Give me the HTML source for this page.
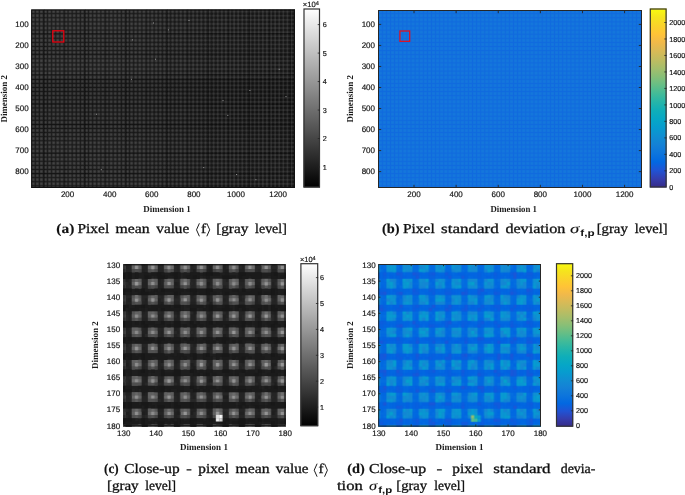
<!DOCTYPE html>
<html><head><meta charset="utf-8"><title>figure</title>
<style>
html,body{margin:0;padding:0;background:#fff;}
body{width:685px;height:495px;overflow:hidden;}
svg{display:block;will-change:transform;}
text{text-rendering:geometricPrecision;}
.t{font-family:"Liberation Sans",sans-serif;fill:#141414;stroke:#141414;stroke-width:0.18px;}
.b{font-family:"Liberation Serif",serif;font-weight:bold;font-size:9.1px;fill:#1c1c1c;}
.c{font-family:"Liberation Serif",serif;font-size:13.6px;fill:#111;stroke:#111;stroke-width:0.3px;}
.cb{font-family:"Liberation Serif",serif;font-size:13.6px;font-weight:bold;fill:#111;stroke:#111;stroke-width:0.15px;}
.ci{font-family:"Liberation Serif",serif;font-size:13.6px;font-style:italic;fill:#111;stroke:#111;stroke-width:0.1px;}
.sub{font-family:"Liberation Sans",sans-serif;font-size:9px;font-weight:bold;fill:#111;}
</style></head><body>
<svg width="685" height="495" viewBox="0 0 685 495">
<rect width="685" height="495" fill="#fff"/>
<defs>
<linearGradient id="gpar" x1="0" y1="1" x2="0" y2="0">
<stop offset="0.0000" stop-color="#352a87"/>
<stop offset="0.0476" stop-color="#353dad"/>
<stop offset="0.0952" stop-color="#2053d4"/>
<stop offset="0.1429" stop-color="#0268e1"/>
<stop offset="0.1905" stop-color="#0d75dc"/>
<stop offset="0.2381" stop-color="#1481d6"/>
<stop offset="0.2857" stop-color="#108ed2"/>
<stop offset="0.3333" stop-color="#079ccf"/>
<stop offset="0.3810" stop-color="#06a7c6"/>
<stop offset="0.4286" stop-color="#0faeb9"/>
<stop offset="0.4762" stop-color="#25b5a9"/>
<stop offset="0.5238" stop-color="#42bb98"/>
<stop offset="0.5714" stop-color="#65be86"/>
<stop offset="0.6190" stop-color="#87bf77"/>
<stop offset="0.6667" stop-color="#a5be6b"/>
<stop offset="0.7143" stop-color="#c0bc60"/>
<stop offset="0.7619" stop-color="#d9ba56"/>
<stop offset="0.8095" stop-color="#f1b94a"/>
<stop offset="0.8571" stop-color="#ffc337"/>
<stop offset="0.9048" stop-color="#fad32a"/>
<stop offset="0.9524" stop-color="#f5e41d"/>
<stop offset="1.0000" stop-color="#f9fb0e"/>
<stop offset="1" stop-color="#f9fb0e"/>
</linearGradient>
<linearGradient id="ggray" x1="0" y1="1" x2="0" y2="0"><stop offset="0" stop-color="#000"/><stop offset="1" stop-color="#fff"/></linearGradient>
<pattern id="pa" x="31.6" y="10.0" width="4.1" height="4.1" patternUnits="userSpaceOnUse"><rect width="4.1" height="4.1" fill="#181818"/><rect x="0.15" y="0.15" width="2.9" height="2.9" fill="#3a3a3a"/><rect x="0.85" y="0.85" width="1.5" height="1.5" fill="#434343"/></pattern>
<pattern id="pa2" x="31.6" y="10.0" width="4.1" height="4.1" patternUnits="userSpaceOnUse"><rect width="4.1" height="4.1" fill="#131313"/><rect x="0" y="1.0" width="4.1" height="1.3" fill="#2b2b2b"/><rect x="1.0" y="0" width="1.3" height="4.1" fill="#2e2e2e"/><rect x="1.0" y="1.0" width="1.3" height="1.3" fill="#3d3d3d"/></pattern>
<linearGradient id="mA" x1="0" y1="0" x2="1" y2="0"><stop offset="0" stop-color="#fff" stop-opacity="0"/><stop offset="0.35" stop-color="#fff" stop-opacity="0.15"/><stop offset="0.7" stop-color="#fff" stop-opacity="0.75"/><stop offset="1" stop-color="#fff" stop-opacity="0.95"/></linearGradient>
<mask id="mkA" maskUnits="userSpaceOnUse" x="31" y="9" width="264" height="179"><rect x="31" y="9" width="264" height="179" fill="url(#mA)"/></mask>
<linearGradient id="fadeA" x1="0" y1="0" x2="0" y2="1"><stop offset="0" stop-color="#fff" stop-opacity="0.015"/><stop offset="0.35" stop-color="#fff" stop-opacity="0.015"/><stop offset="0.40" stop-color="#000" stop-opacity="0.06"/><stop offset="0.58" stop-color="#000" stop-opacity="0.03"/><stop offset="1" stop-color="#fff" stop-opacity="0.01"/></linearGradient>
<pattern id="pb" x="378.6" y="10.0" width="4.1" height="4.1" patternUnits="userSpaceOnUse"><rect width="4.1" height="4.1" fill="#106ade"/><rect x="0.2" y="0.2" width="2.9" height="2.9" fill="#1477dc"/></pattern>
</defs>
<rect x="31.2" y="9.5" width="263.8" height="178.5" fill="url(#pa)"/>
<rect x="31.2" y="9.5" width="263.8" height="178.5" fill="url(#pa2)" mask="url(#mkA)"/>
<rect x="31.2" y="9.5" width="263.8" height="178.5" fill="url(#fadeA)"/>
<path d="M44.4 9.5V188.0M64.9 9.5V188.0M85.4 9.5V188.0M105.9 9.5V188.0M126.4 9.5V188.0M146.9 9.5V188.0M167.4 9.5V188.0M187.9 9.5V188.0M208.4 9.5V188.0M228.9 9.5V188.0M249.4 9.5V188.0M269.9 9.5V188.0M290.4 9.5V188.0" stroke="#000" stroke-opacity="0.35" stroke-width="0.9" fill="none"/>
<path d="M31.2 33.5H295.0M31.2 54.0H295.0M31.2 74.5H295.0M31.2 79.6H295.0M31.2 104.2H295.0M31.2 124.7H295.0M31.2 153.3H295.0M31.2 173.8H295.0" stroke="#000" stroke-opacity="0.35" stroke-width="0.9" fill="none"/>
<rect x="167.9" y="29.4" width="1" height="1" fill="#9a9a9a"/>
<rect x="132.1" y="39.4" width="1" height="1" fill="#9a9a9a"/>
<rect x="155.0" y="58.7" width="1" height="1" fill="#9a9a9a"/>
<rect x="130.9" y="78.8" width="1" height="1" fill="#9a9a9a"/>
<rect x="153.0" y="22.5" width="1" height="1" fill="#9a9a9a"/>
<rect x="96.0" y="113.7" width="1" height="1" fill="#9a9a9a"/>
<rect x="278.7" y="68.8" width="1" height="1" fill="#9a9a9a"/>
<rect x="249.4" y="90.0" width="1" height="1" fill="#9a9a9a"/>
<rect x="227.3" y="114.9" width="1" height="1" fill="#9a9a9a"/>
<rect x="285.5" y="96.1" width="1" height="1" fill="#9a9a9a"/>
<rect x="236.1" y="174.0" width="1" height="1" fill="#9a9a9a"/>
<rect x="255.4" y="179.2" width="1" height="1" fill="#9a9a9a"/>
<rect x="222.5" y="100.1" width="1" height="1" fill="#9a9a9a"/>
<rect x="203.2" y="167.1" width="1" height="1" fill="#9a9a9a"/>
<rect x="100.8" y="169.2" width="1" height="1" fill="#9a9a9a"/>
<rect x="188.5" y="20.0" width="1" height="1" fill="#9a9a9a"/>
<rect x="51.4" y="161.1" width="1" height="1" fill="#0a0a0a"/>
<rect x="31.7" y="10.0" width="262.8" height="177.5" fill="none" stroke="#111" stroke-width="1"/>
<rect x="52.8" y="30.8" width="11" height="11.2" fill="none" stroke="#f0000f" stroke-width="1.25"/>
<text x="67.60" y="197.40" text-anchor="middle" font-size="8.0" class="t">200</text>
<text x="109.70" y="197.40" text-anchor="middle" font-size="8.0" class="t">400</text>
<text x="151.80" y="197.40" text-anchor="middle" font-size="8.0" class="t">600</text>
<text x="193.90" y="197.40" text-anchor="middle" font-size="8.0" class="t">800</text>
<text x="236.00" y="197.40" text-anchor="middle" font-size="8.0" class="t">1000</text>
<text x="278.10" y="197.40" text-anchor="middle" font-size="8.0" class="t">1200</text>
<text x="28.60" y="27.25" text-anchor="end" font-size="8.0" class="t">100</text>
<text x="28.60" y="48.28" text-anchor="end" font-size="8.0" class="t">200</text>
<text x="28.60" y="69.31" text-anchor="end" font-size="8.0" class="t">300</text>
<text x="28.60" y="90.34" text-anchor="end" font-size="8.0" class="t">400</text>
<text x="28.60" y="111.37" text-anchor="end" font-size="8.0" class="t">500</text>
<text x="28.60" y="132.40" text-anchor="end" font-size="8.0" class="t">600</text>
<text x="28.60" y="153.43" text-anchor="end" font-size="8.0" class="t">700</text>
<text x="28.60" y="174.46" text-anchor="end" font-size="8.0" class="t">800</text>
<text x="167" y="212.2" text-anchor="middle" class="b" textLength="47.6" lengthAdjust="spacingAndGlyphs">Dimension 1</text>
<text transform="translate(6.8,98.8) rotate(-90)" text-anchor="middle" class="b" textLength="47.6" lengthAdjust="spacingAndGlyphs">Dimension 2</text>
<rect x="303.5" y="8.5" width="16.5" height="179.0" fill="url(#ggray)"/>
<rect x="304.0" y="9.0" width="15.5" height="178.0" fill="none" stroke="#333" stroke-width="1.2"/>
<line x1="317.70" y1="24.60" x2="320.00" y2="24.60" stroke="#262626" stroke-width="0.8"/>
<text x="322.80" y="27.20" text-anchor="start" font-size="7.2" class="t">6</text>
<line x1="317.70" y1="53.08" x2="320.00" y2="53.08" stroke="#262626" stroke-width="0.8"/>
<text x="322.80" y="55.68" text-anchor="start" font-size="7.2" class="t">5</text>
<line x1="317.70" y1="81.56" x2="320.00" y2="81.56" stroke="#262626" stroke-width="0.8"/>
<text x="322.80" y="84.16" text-anchor="start" font-size="7.2" class="t">4</text>
<line x1="317.70" y1="110.04" x2="320.00" y2="110.04" stroke="#262626" stroke-width="0.8"/>
<text x="322.80" y="112.64" text-anchor="start" font-size="7.2" class="t">3</text>
<line x1="317.70" y1="138.52" x2="320.00" y2="138.52" stroke="#262626" stroke-width="0.8"/>
<text x="322.80" y="141.12" text-anchor="start" font-size="7.2" class="t">2</text>
<line x1="317.70" y1="167.00" x2="320.00" y2="167.00" stroke="#262626" stroke-width="0.8"/>
<text x="322.80" y="169.60" text-anchor="start" font-size="7.2" class="t">1</text>
<text x="302.8" y="7.2" font-size="7.6" class="t">×10<tspan dy="-2.6" font-size="5.6">4</tspan></text>
<rect x="378.0" y="10.0" width="264.0" height="178.0" fill="url(#pb)"/>
<rect x="378.5" y="10.5" width="263.0" height="177.0" fill="none" stroke="#262626" stroke-width="1"/>
<rect x="399.9" y="31.0" width="9.8" height="10.3" fill="none" stroke="#e60f1c" stroke-width="1.25"/>
<text x="414.00" y="197.40" text-anchor="middle" font-size="8.0" class="t">200</text>
<line x1="414.00" y1="184.80" x2="414.00" y2="188.00" stroke="#262626" stroke-width="0.9"/>
<line x1="414.00" y1="10.00" x2="414.00" y2="13.20" stroke="#262626" stroke-width="0.9"/>
<text x="456.12" y="197.40" text-anchor="middle" font-size="8.0" class="t">400</text>
<line x1="456.12" y1="184.80" x2="456.12" y2="188.00" stroke="#262626" stroke-width="0.9"/>
<line x1="456.12" y1="10.00" x2="456.12" y2="13.20" stroke="#262626" stroke-width="0.9"/>
<text x="498.24" y="197.40" text-anchor="middle" font-size="8.0" class="t">600</text>
<line x1="498.24" y1="184.80" x2="498.24" y2="188.00" stroke="#262626" stroke-width="0.9"/>
<line x1="498.24" y1="10.00" x2="498.24" y2="13.20" stroke="#262626" stroke-width="0.9"/>
<text x="540.36" y="197.40" text-anchor="middle" font-size="8.0" class="t">800</text>
<line x1="540.36" y1="184.80" x2="540.36" y2="188.00" stroke="#262626" stroke-width="0.9"/>
<line x1="540.36" y1="10.00" x2="540.36" y2="13.20" stroke="#262626" stroke-width="0.9"/>
<text x="582.48" y="197.40" text-anchor="middle" font-size="8.0" class="t">1000</text>
<line x1="582.48" y1="184.80" x2="582.48" y2="188.00" stroke="#262626" stroke-width="0.9"/>
<line x1="582.48" y1="10.00" x2="582.48" y2="13.20" stroke="#262626" stroke-width="0.9"/>
<text x="624.60" y="197.40" text-anchor="middle" font-size="8.0" class="t">1200</text>
<line x1="624.60" y1="184.80" x2="624.60" y2="188.00" stroke="#262626" stroke-width="0.9"/>
<line x1="624.60" y1="10.00" x2="624.60" y2="13.20" stroke="#262626" stroke-width="0.9"/>
<text x="375.00" y="27.25" text-anchor="end" font-size="8.0" class="t">100</text>
<line x1="378.00" y1="24.40" x2="381.20" y2="24.40" stroke="#262626" stroke-width="0.9"/>
<line x1="638.80" y1="24.40" x2="642.00" y2="24.40" stroke="#262626" stroke-width="0.9"/>
<text x="375.00" y="48.28" text-anchor="end" font-size="8.0" class="t">200</text>
<line x1="378.00" y1="45.43" x2="381.20" y2="45.43" stroke="#262626" stroke-width="0.9"/>
<line x1="638.80" y1="45.43" x2="642.00" y2="45.43" stroke="#262626" stroke-width="0.9"/>
<text x="375.00" y="69.31" text-anchor="end" font-size="8.0" class="t">300</text>
<line x1="378.00" y1="66.46" x2="381.20" y2="66.46" stroke="#262626" stroke-width="0.9"/>
<line x1="638.80" y1="66.46" x2="642.00" y2="66.46" stroke="#262626" stroke-width="0.9"/>
<text x="375.00" y="90.34" text-anchor="end" font-size="8.0" class="t">400</text>
<line x1="378.00" y1="87.49" x2="381.20" y2="87.49" stroke="#262626" stroke-width="0.9"/>
<line x1="638.80" y1="87.49" x2="642.00" y2="87.49" stroke="#262626" stroke-width="0.9"/>
<text x="375.00" y="111.37" text-anchor="end" font-size="8.0" class="t">500</text>
<line x1="378.00" y1="108.52" x2="381.20" y2="108.52" stroke="#262626" stroke-width="0.9"/>
<line x1="638.80" y1="108.52" x2="642.00" y2="108.52" stroke="#262626" stroke-width="0.9"/>
<text x="375.00" y="132.40" text-anchor="end" font-size="8.0" class="t">600</text>
<line x1="378.00" y1="129.55" x2="381.20" y2="129.55" stroke="#262626" stroke-width="0.9"/>
<line x1="638.80" y1="129.55" x2="642.00" y2="129.55" stroke="#262626" stroke-width="0.9"/>
<text x="375.00" y="153.43" text-anchor="end" font-size="8.0" class="t">700</text>
<line x1="378.00" y1="150.58" x2="381.20" y2="150.58" stroke="#262626" stroke-width="0.9"/>
<line x1="638.80" y1="150.58" x2="642.00" y2="150.58" stroke="#262626" stroke-width="0.9"/>
<text x="375.00" y="174.46" text-anchor="end" font-size="8.0" class="t">800</text>
<line x1="378.00" y1="171.61" x2="381.20" y2="171.61" stroke="#262626" stroke-width="0.9"/>
<line x1="638.80" y1="171.61" x2="642.00" y2="171.61" stroke="#262626" stroke-width="0.9"/>
<text x="513.7" y="212.2" text-anchor="middle" class="b" textLength="46.6" lengthAdjust="spacingAndGlyphs">Dimension 1</text>
<text transform="translate(353.0,98.8) rotate(-90)" text-anchor="middle" class="b" textLength="47.6" lengthAdjust="spacingAndGlyphs">Dimension 2</text>
<rect x="649.8" y="8.5" width="16.800000000000068" height="179.0" fill="url(#gpar)"/>
<rect x="650.3" y="9.0" width="15.800000000000068" height="178.0" fill="none" stroke="#333" stroke-width="1.2"/>
<line x1="664.30" y1="22.50" x2="666.60" y2="22.50" stroke="#262626" stroke-width="0.8"/>
<text x="669.30" y="25.10" text-anchor="start" font-size="7.2" class="t">2000</text>
<line x1="664.30" y1="38.98" x2="666.60" y2="38.98" stroke="#262626" stroke-width="0.8"/>
<text x="669.30" y="41.58" text-anchor="start" font-size="7.2" class="t">1800</text>
<line x1="664.30" y1="55.46" x2="666.60" y2="55.46" stroke="#262626" stroke-width="0.8"/>
<text x="669.30" y="58.06" text-anchor="start" font-size="7.2" class="t">1600</text>
<line x1="664.30" y1="71.94" x2="666.60" y2="71.94" stroke="#262626" stroke-width="0.8"/>
<text x="669.30" y="74.54" text-anchor="start" font-size="7.2" class="t">1400</text>
<line x1="664.30" y1="88.42" x2="666.60" y2="88.42" stroke="#262626" stroke-width="0.8"/>
<text x="669.30" y="91.02" text-anchor="start" font-size="7.2" class="t">1200</text>
<line x1="664.30" y1="104.90" x2="666.60" y2="104.90" stroke="#262626" stroke-width="0.8"/>
<text x="669.30" y="107.50" text-anchor="start" font-size="7.2" class="t">1000</text>
<line x1="664.30" y1="121.38" x2="666.60" y2="121.38" stroke="#262626" stroke-width="0.8"/>
<text x="669.30" y="123.98" text-anchor="start" font-size="7.2" class="t">800</text>
<line x1="664.30" y1="137.86" x2="666.60" y2="137.86" stroke="#262626" stroke-width="0.8"/>
<text x="669.30" y="140.46" text-anchor="start" font-size="7.2" class="t">600</text>
<line x1="664.30" y1="154.34" x2="666.60" y2="154.34" stroke="#262626" stroke-width="0.8"/>
<text x="669.30" y="156.94" text-anchor="start" font-size="7.2" class="t">400</text>
<line x1="664.30" y1="170.82" x2="666.60" y2="170.82" stroke="#262626" stroke-width="0.8"/>
<text x="669.30" y="173.42" text-anchor="start" font-size="7.2" class="t">200</text>
<text x="669.30" y="189.90" text-anchor="start" font-size="7.2" class="t">0</text>
<svg x="123.5" y="264.2" width="162.0" height="162.0" viewBox="130 130 50 50" preserveAspectRatio="none">
<g transform="translate(129.5,129.5)">
<rect x="0" y="0" width="52" height="52" fill="#1a1a1a"/>
<path fill="#232323" d="M0 0h52v3h-52zM0 5h52v3h-52zM0 10h52v3h-52zM0 15h52v3h-52zM0 20h52v3h-52zM0 25h52v3h-52zM0 30h52v3h-52zM0 35h52v3h-52zM0 40h52v3h-52zM0 45h52v3h-52zM0 50h52v3h-52z"/>
<path fill="#1d1d1d" d="M-2 0h3v52h-3zM3 0h3v52h-3zM8 0h3v52h-3zM13 0h3v52h-3zM18 0h3v52h-3zM23 0h3v52h-3zM28 0h3v52h-3zM33 0h3v52h-3zM38 0h3v52h-3zM43 0h3v52h-3zM48 0h3v52h-3z"/>
<path fill="#5c5c5c" d="M-2 0h3v3h-3zM-2 5h3v3h-3zM-2 10h3v3h-3zM-2 15h3v3h-3zM-2 20h3v3h-3zM-2 25h3v3h-3zM-2 30h3v3h-3zM-2 35h3v3h-3zM-2 40h3v3h-3zM-2 45h3v3h-3zM-2 50h3v3h-3zM3 0h3v3h-3zM3 5h3v3h-3zM3 10h3v3h-3zM3 15h3v3h-3zM3 20h3v3h-3zM3 25h3v3h-3zM3 30h3v3h-3zM3 35h3v3h-3zM3 40h3v3h-3zM3 45h3v3h-3zM3 50h3v3h-3zM8 0h3v3h-3zM8 5h3v3h-3zM8 10h3v3h-3zM8 15h3v3h-3zM8 20h3v3h-3zM8 25h3v3h-3zM8 30h3v3h-3zM8 35h3v3h-3zM8 40h3v3h-3zM8 45h3v3h-3zM8 50h3v3h-3zM13 0h3v3h-3zM13 5h3v3h-3zM13 10h3v3h-3zM13 15h3v3h-3zM13 20h3v3h-3zM13 25h3v3h-3zM13 30h3v3h-3zM13 35h3v3h-3zM13 40h3v3h-3zM13 45h3v3h-3zM13 50h3v3h-3zM18 0h3v3h-3zM18 5h3v3h-3zM18 10h3v3h-3zM18 15h3v3h-3zM18 20h3v3h-3zM18 25h3v3h-3zM18 30h3v3h-3zM18 35h3v3h-3zM18 40h3v3h-3zM18 45h3v3h-3zM18 50h3v3h-3zM23 0h3v3h-3zM23 5h3v3h-3zM23 10h3v3h-3zM23 15h3v3h-3zM23 20h3v3h-3zM23 25h3v3h-3zM23 30h3v3h-3zM23 35h3v3h-3zM23 40h3v3h-3zM23 45h3v3h-3zM23 50h3v3h-3zM28 0h3v3h-3zM28 5h3v3h-3zM28 10h3v3h-3zM28 15h3v3h-3zM28 20h3v3h-3zM28 25h3v3h-3zM28 30h3v3h-3zM28 35h3v3h-3zM28 40h3v3h-3zM28 45h3v3h-3zM28 50h3v3h-3zM33 0h3v3h-3zM33 5h3v3h-3zM33 10h3v3h-3zM33 15h3v3h-3zM33 20h3v3h-3zM33 25h3v3h-3zM33 30h3v3h-3zM33 35h3v3h-3zM33 40h3v3h-3zM33 45h3v3h-3zM33 50h3v3h-3zM38 0h3v3h-3zM38 5h3v3h-3zM38 10h3v3h-3zM38 15h3v3h-3zM38 20h3v3h-3zM38 25h3v3h-3zM38 30h3v3h-3zM38 35h3v3h-3zM38 40h3v3h-3zM38 45h3v3h-3zM38 50h3v3h-3zM43 0h3v3h-3zM43 5h3v3h-3zM43 10h3v3h-3zM43 15h3v3h-3zM43 20h3v3h-3zM43 25h3v3h-3zM43 30h3v3h-3zM43 35h3v3h-3zM43 40h3v3h-3zM43 45h3v3h-3zM43 50h3v3h-3zM48 0h3v3h-3zM48 5h3v3h-3zM48 10h3v3h-3zM48 15h3v3h-3zM48 20h3v3h-3zM48 25h3v3h-3zM48 30h3v3h-3zM48 35h3v3h-3zM48 40h3v3h-3zM48 45h3v3h-3zM48 50h3v3h-3z"/>
<path fill="#575757" d="M0 0h1.04v1.04h-1.04zM5 0h1.04v1.04h-1.04zM15 0h1.04v1.04h-1.04zM23 0h1.04v1.04h-1.04zM28 0h1.04v1.04h-1.04zM35 0h1.04v1.04h-1.04zM38 0h1.04v1.04h-1.04zM9 2h1.04v1.04h-1.04zM34 2h1.04v1.04h-1.04zM0 5h1.04v1.04h-1.04zM13 5h1.04v1.04h-1.04zM40 5h1.04v1.04h-1.04zM44 7h1.04v1.04h-1.04zM5 10h1.04v1.04h-1.04zM13 10h1.04v1.04h-1.04zM33 10h1.04v1.04h-1.04zM35 10h1.04v1.04h-1.04zM45 10h1.04v1.04h-1.04zM50 10h1.04v1.04h-1.04zM29 12h1.04v1.04h-1.04zM10 15h1.04v1.04h-1.04zM13 15h1.04v1.04h-1.04zM15 15h1.04v1.04h-1.04zM23 15h1.04v1.04h-1.04zM28 15h1.04v1.04h-1.04zM38 15h1.04v1.04h-1.04zM40 15h1.04v1.04h-1.04zM43 15h1.04v1.04h-1.04zM45 15h1.04v1.04h-1.04zM4 17h1.04v1.04h-1.04zM19 17h1.04v1.04h-1.04zM5 20h1.04v1.04h-1.04zM4 22h1.04v1.04h-1.04zM24 22h1.04v1.04h-1.04zM34 22h1.04v1.04h-1.04zM44 22h1.04v1.04h-1.04zM3 25h1.04v1.04h-1.04zM10 25h1.04v1.04h-1.04zM23 25h1.04v1.04h-1.04zM30 25h1.04v1.04h-1.04zM33 25h1.04v1.04h-1.04zM40 25h1.04v1.04h-1.04zM45 25h1.04v1.04h-1.04zM48 25h1.04v1.04h-1.04zM4 27h1.04v1.04h-1.04zM34 27h1.04v1.04h-1.04zM44 27h1.04v1.04h-1.04zM8 30h1.04v1.04h-1.04zM45 30h1.04v1.04h-1.04zM48 30h1.04v1.04h-1.04zM9 32h1.04v1.04h-1.04zM14 32h1.04v1.04h-1.04zM19 32h1.04v1.04h-1.04zM24 32h1.04v1.04h-1.04zM44 32h1.04v1.04h-1.04zM8 35h1.04v1.04h-1.04zM13 35h1.04v1.04h-1.04zM18 35h1.04v1.04h-1.04zM43 35h1.04v1.04h-1.04zM48 35h1.04v1.04h-1.04zM49 37h1.04v1.04h-1.04zM0 40h1.04v1.04h-1.04zM25 40h1.04v1.04h-1.04zM30 40h1.04v1.04h-1.04zM19 42h1.04v1.04h-1.04zM34 42h1.04v1.04h-1.04zM39 42h1.04v1.04h-1.04zM44 42h1.04v1.04h-1.04zM49 42h1.04v1.04h-1.04zM0 45h1.04v1.04h-1.04zM5 45h1.04v1.04h-1.04zM10 45h1.04v1.04h-1.04zM15 45h1.04v1.04h-1.04zM23 45h1.04v1.04h-1.04zM38 45h1.04v1.04h-1.04zM4 47h1.04v1.04h-1.04zM34 47h1.04v1.04h-1.04zM3 50h1.04v1.04h-1.04zM30 50h1.04v1.04h-1.04zM48 50h1.04v1.04h-1.04z"/>
<path fill="#212121" d="M1 0h1.04v1.04h-1.04zM11 0h1.04v1.04h-1.04zM12 0h1.04v1.04h-1.04zM26 0h1.04v1.04h-1.04zM31 0h1.04v1.04h-1.04zM37 0h1.04v1.04h-1.04zM41 0h1.04v1.04h-1.04zM1 1h1.04v1.04h-1.04zM37 1h1.04v1.04h-1.04zM6 2h1.04v1.04h-1.04zM26 2h1.04v1.04h-1.04zM31 2h1.04v1.04h-1.04zM36 2h1.04v1.04h-1.04zM37 2h1.04v1.04h-1.04zM46 2h1.04v1.04h-1.04zM47 2h1.04v1.04h-1.04zM0 3h1.04v1.04h-1.04zM18 3h1.04v1.04h-1.04zM33 3h1.04v1.04h-1.04zM34 3h1.04v1.04h-1.04zM35 3h1.04v1.04h-1.04zM9 4h1.04v1.04h-1.04zM18 4h1.04v1.04h-1.04zM24 4h1.04v1.04h-1.04zM45 4h1.04v1.04h-1.04zM7 5h1.04v1.04h-1.04zM11 5h1.04v1.04h-1.04zM32 5h1.04v1.04h-1.04zM36 5h1.04v1.04h-1.04zM37 5h1.04v1.04h-1.04zM41 5h1.04v1.04h-1.04zM2 6h1.04v1.04h-1.04zM6 6h1.04v1.04h-1.04zM7 6h1.04v1.04h-1.04zM11 6h1.04v1.04h-1.04zM17 6h1.04v1.04h-1.04zM41 6h1.04v1.04h-1.04zM42 6h1.04v1.04h-1.04zM46 6h1.04v1.04h-1.04zM6 7h1.04v1.04h-1.04zM7 7h1.04v1.04h-1.04zM11 7h1.04v1.04h-1.04zM12 7h1.04v1.04h-1.04zM16 7h1.04v1.04h-1.04zM17 7h1.04v1.04h-1.04zM26 7h1.04v1.04h-1.04zM31 7h1.04v1.04h-1.04zM42 7h1.04v1.04h-1.04zM46 7h1.04v1.04h-1.04zM47 7h1.04v1.04h-1.04zM8 8h1.04v1.04h-1.04zM30 9h1.04v1.04h-1.04zM16 10h1.04v1.04h-1.04zM21 10h1.04v1.04h-1.04zM26 10h1.04v1.04h-1.04zM36 10h1.04v1.04h-1.04zM41 10h1.04v1.04h-1.04zM46 10h1.04v1.04h-1.04zM47 10h1.04v1.04h-1.04zM1 11h1.04v1.04h-1.04zM7 11h1.04v1.04h-1.04zM11 11h1.04v1.04h-1.04zM31 11h1.04v1.04h-1.04zM36 11h1.04v1.04h-1.04zM41 11h1.04v1.04h-1.04zM1 12h1.04v1.04h-1.04zM2 12h1.04v1.04h-1.04zM7 12h1.04v1.04h-1.04zM11 12h1.04v1.04h-1.04zM21 12h1.04v1.04h-1.04zM22 12h1.04v1.04h-1.04zM41 12h1.04v1.04h-1.04zM19 13h1.04v1.04h-1.04zM25 13h1.04v1.04h-1.04zM34 13h1.04v1.04h-1.04zM45 13h1.04v1.04h-1.04zM19 14h1.04v1.04h-1.04zM20 14h1.04v1.04h-1.04zM23 14h1.04v1.04h-1.04zM34 14h1.04v1.04h-1.04zM45 14h1.04v1.04h-1.04zM6 15h1.04v1.04h-1.04zM16 15h1.04v1.04h-1.04zM27 15h1.04v1.04h-1.04zM32 15h1.04v1.04h-1.04zM42 15h1.04v1.04h-1.04zM46 15h1.04v1.04h-1.04zM2 16h1.04v1.04h-1.04zM17 16h1.04v1.04h-1.04zM21 16h1.04v1.04h-1.04zM22 16h1.04v1.04h-1.04zM27 16h1.04v1.04h-1.04zM31 16h1.04v1.04h-1.04zM41 16h1.04v1.04h-1.04zM42 16h1.04v1.04h-1.04zM47 16h1.04v1.04h-1.04zM2 17h1.04v1.04h-1.04zM6 17h1.04v1.04h-1.04zM7 17h1.04v1.04h-1.04zM12 17h1.04v1.04h-1.04zM16 17h1.04v1.04h-1.04zM17 17h1.04v1.04h-1.04zM21 17h1.04v1.04h-1.04zM22 17h1.04v1.04h-1.04zM26 17h1.04v1.04h-1.04zM27 17h1.04v1.04h-1.04zM31 17h1.04v1.04h-1.04zM36 17h1.04v1.04h-1.04zM42 17h1.04v1.04h-1.04zM47 17h1.04v1.04h-1.04zM15 18h1.04v1.04h-1.04zM18 18h1.04v1.04h-1.04zM19 18h1.04v1.04h-1.04zM34 19h1.04v1.04h-1.04zM38 19h1.04v1.04h-1.04zM40 19h1.04v1.04h-1.04zM44 19h1.04v1.04h-1.04zM1 20h1.04v1.04h-1.04zM7 20h1.04v1.04h-1.04zM16 20h1.04v1.04h-1.04zM27 20h1.04v1.04h-1.04zM32 20h1.04v1.04h-1.04zM47 20h1.04v1.04h-1.04zM1 21h1.04v1.04h-1.04zM2 21h1.04v1.04h-1.04zM6 21h1.04v1.04h-1.04zM7 21h1.04v1.04h-1.04zM12 21h1.04v1.04h-1.04zM17 21h1.04v1.04h-1.04zM37 21h1.04v1.04h-1.04zM1 22h1.04v1.04h-1.04zM12 22h1.04v1.04h-1.04zM16 22h1.04v1.04h-1.04zM21 22h1.04v1.04h-1.04zM26 22h1.04v1.04h-1.04zM32 22h1.04v1.04h-1.04zM37 22h1.04v1.04h-1.04zM10 23h1.04v1.04h-1.04zM28 23h1.04v1.04h-1.04zM0 24h1.04v1.04h-1.04zM19 24h1.04v1.04h-1.04zM29 24h1.04v1.04h-1.04zM1 25h1.04v1.04h-1.04zM11 25h1.04v1.04h-1.04zM22 25h1.04v1.04h-1.04zM27 25h1.04v1.04h-1.04zM32 25h1.04v1.04h-1.04zM37 25h1.04v1.04h-1.04zM47 25h1.04v1.04h-1.04zM6 26h1.04v1.04h-1.04zM11 26h1.04v1.04h-1.04zM26 26h1.04v1.04h-1.04zM27 26h1.04v1.04h-1.04zM31 26h1.04v1.04h-1.04zM32 26h1.04v1.04h-1.04zM41 26h1.04v1.04h-1.04zM46 26h1.04v1.04h-1.04zM7 27h1.04v1.04h-1.04zM11 27h1.04v1.04h-1.04zM17 27h1.04v1.04h-1.04zM21 27h1.04v1.04h-1.04zM31 27h1.04v1.04h-1.04zM32 27h1.04v1.04h-1.04zM41 27h1.04v1.04h-1.04zM46 27h1.04v1.04h-1.04zM28 29h1.04v1.04h-1.04zM30 29h1.04v1.04h-1.04zM1 30h1.04v1.04h-1.04zM6 30h1.04v1.04h-1.04zM7 30h1.04v1.04h-1.04zM17 30h1.04v1.04h-1.04zM31 30h1.04v1.04h-1.04zM36 30h1.04v1.04h-1.04zM41 30h1.04v1.04h-1.04zM46 30h1.04v1.04h-1.04zM47 30h1.04v1.04h-1.04zM16 31h1.04v1.04h-1.04zM27 31h1.04v1.04h-1.04zM32 31h1.04v1.04h-1.04zM2 32h1.04v1.04h-1.04zM6 32h1.04v1.04h-1.04zM12 32h1.04v1.04h-1.04zM16 32h1.04v1.04h-1.04zM21 32h1.04v1.04h-1.04zM26 32h1.04v1.04h-1.04zM31 32h1.04v1.04h-1.04zM32 32h1.04v1.04h-1.04zM41 32h1.04v1.04h-1.04zM42 32h1.04v1.04h-1.04zM8 34h1.04v1.04h-1.04zM49 34h1.04v1.04h-1.04zM7 35h1.04v1.04h-1.04zM12 35h1.04v1.04h-1.04zM21 35h1.04v1.04h-1.04zM27 35h1.04v1.04h-1.04zM32 35h1.04v1.04h-1.04zM36 35h1.04v1.04h-1.04zM37 35h1.04v1.04h-1.04zM41 35h1.04v1.04h-1.04zM46 35h1.04v1.04h-1.04zM2 36h1.04v1.04h-1.04zM7 36h1.04v1.04h-1.04zM11 36h1.04v1.04h-1.04zM12 36h1.04v1.04h-1.04zM16 36h1.04v1.04h-1.04zM17 36h1.04v1.04h-1.04zM21 36h1.04v1.04h-1.04zM26 36h1.04v1.04h-1.04zM31 36h1.04v1.04h-1.04zM36 36h1.04v1.04h-1.04zM41 36h1.04v1.04h-1.04zM2 37h1.04v1.04h-1.04zM6 37h1.04v1.04h-1.04zM17 37h1.04v1.04h-1.04zM31 37h1.04v1.04h-1.04zM42 37h1.04v1.04h-1.04zM23 38h1.04v1.04h-1.04zM29 38h1.04v1.04h-1.04zM35 38h1.04v1.04h-1.04zM43 38h1.04v1.04h-1.04zM3 39h1.04v1.04h-1.04zM5 39h1.04v1.04h-1.04zM1 40h1.04v1.04h-1.04zM2 40h1.04v1.04h-1.04zM7 40h1.04v1.04h-1.04zM12 40h1.04v1.04h-1.04zM16 40h1.04v1.04h-1.04zM17 40h1.04v1.04h-1.04zM21 40h1.04v1.04h-1.04zM11 41h1.04v1.04h-1.04zM12 41h1.04v1.04h-1.04zM17 41h1.04v1.04h-1.04zM22 41h1.04v1.04h-1.04zM42 41h1.04v1.04h-1.04zM12 42h1.04v1.04h-1.04zM17 42h1.04v1.04h-1.04zM32 42h1.04v1.04h-1.04zM36 42h1.04v1.04h-1.04zM41 42h1.04v1.04h-1.04zM0 43h1.04v1.04h-1.04zM30 43h1.04v1.04h-1.04zM35 43h1.04v1.04h-1.04zM44 43h1.04v1.04h-1.04zM39 44h1.04v1.04h-1.04zM2 45h1.04v1.04h-1.04zM7 45h1.04v1.04h-1.04zM11 45h1.04v1.04h-1.04zM12 45h1.04v1.04h-1.04zM17 45h1.04v1.04h-1.04zM21 45h1.04v1.04h-1.04zM22 45h1.04v1.04h-1.04zM27 45h1.04v1.04h-1.04zM42 45h1.04v1.04h-1.04zM46 45h1.04v1.04h-1.04zM47 45h1.04v1.04h-1.04zM2 46h1.04v1.04h-1.04zM7 46h1.04v1.04h-1.04zM16 46h1.04v1.04h-1.04zM26 46h1.04v1.04h-1.04zM31 46h1.04v1.04h-1.04zM36 46h1.04v1.04h-1.04zM37 46h1.04v1.04h-1.04zM12 47h1.04v1.04h-1.04zM16 47h1.04v1.04h-1.04zM27 47h1.04v1.04h-1.04zM41 47h1.04v1.04h-1.04zM42 47h1.04v1.04h-1.04zM4 48h1.04v1.04h-1.04zM8 48h1.04v1.04h-1.04zM19 48h1.04v1.04h-1.04zM0 49h1.04v1.04h-1.04zM10 49h1.04v1.04h-1.04zM39 49h1.04v1.04h-1.04zM43 49h1.04v1.04h-1.04zM7 50h1.04v1.04h-1.04zM12 50h1.04v1.04h-1.04zM17 50h1.04v1.04h-1.04zM22 50h1.04v1.04h-1.04zM27 50h1.04v1.04h-1.04zM32 50h1.04v1.04h-1.04zM36 50h1.04v1.04h-1.04zM37 50h1.04v1.04h-1.04zM46 50h1.04v1.04h-1.04z"/>
<path fill="#242424" d="M2 0h1.04v1.04h-1.04zM7 0h1.04v1.04h-1.04zM16 0h1.04v1.04h-1.04zM32 0h1.04v1.04h-1.04zM36 0h1.04v1.04h-1.04zM42 0h1.04v1.04h-1.04zM46 0h1.04v1.04h-1.04zM2 1h1.04v1.04h-1.04zM6 1h1.04v1.04h-1.04zM7 1h1.04v1.04h-1.04zM11 1h1.04v1.04h-1.04zM12 1h1.04v1.04h-1.04zM17 1h1.04v1.04h-1.04zM21 1h1.04v1.04h-1.04zM26 1h1.04v1.04h-1.04zM32 1h1.04v1.04h-1.04zM1 2h1.04v1.04h-1.04zM2 2h1.04v1.04h-1.04zM7 2h1.04v1.04h-1.04zM11 2h1.04v1.04h-1.04zM12 2h1.04v1.04h-1.04zM17 2h1.04v1.04h-1.04zM21 2h1.04v1.04h-1.04zM42 2h1.04v1.04h-1.04zM2 5h1.04v1.04h-1.04zM6 5h1.04v1.04h-1.04zM12 5h1.04v1.04h-1.04zM16 5h1.04v1.04h-1.04zM17 5h1.04v1.04h-1.04zM21 5h1.04v1.04h-1.04zM22 5h1.04v1.04h-1.04zM26 5h1.04v1.04h-1.04zM27 5h1.04v1.04h-1.04zM42 5h1.04v1.04h-1.04zM46 5h1.04v1.04h-1.04zM47 5h1.04v1.04h-1.04zM12 6h1.04v1.04h-1.04zM22 6h1.04v1.04h-1.04zM27 6h1.04v1.04h-1.04zM36 6h1.04v1.04h-1.04zM37 6h1.04v1.04h-1.04zM1 7h1.04v1.04h-1.04zM21 7h1.04v1.04h-1.04zM22 7h1.04v1.04h-1.04zM32 7h1.04v1.04h-1.04zM37 7h1.04v1.04h-1.04zM1 10h1.04v1.04h-1.04zM2 10h1.04v1.04h-1.04zM12 10h1.04v1.04h-1.04zM17 10h1.04v1.04h-1.04zM31 10h1.04v1.04h-1.04zM32 10h1.04v1.04h-1.04zM21 11h1.04v1.04h-1.04zM22 11h1.04v1.04h-1.04zM32 11h1.04v1.04h-1.04zM37 11h1.04v1.04h-1.04zM47 11h1.04v1.04h-1.04zM6 12h1.04v1.04h-1.04zM16 12h1.04v1.04h-1.04zM17 12h1.04v1.04h-1.04zM31 12h1.04v1.04h-1.04zM32 12h1.04v1.04h-1.04zM42 12h1.04v1.04h-1.04zM46 12h1.04v1.04h-1.04zM47 12h1.04v1.04h-1.04zM1 15h1.04v1.04h-1.04zM7 15h1.04v1.04h-1.04zM12 15h1.04v1.04h-1.04zM36 15h1.04v1.04h-1.04zM37 15h1.04v1.04h-1.04zM41 15h1.04v1.04h-1.04zM6 16h1.04v1.04h-1.04zM7 16h1.04v1.04h-1.04zM11 16h1.04v1.04h-1.04zM12 16h1.04v1.04h-1.04zM26 16h1.04v1.04h-1.04zM32 16h1.04v1.04h-1.04zM36 16h1.04v1.04h-1.04zM11 17h1.04v1.04h-1.04zM41 17h1.04v1.04h-1.04zM2 20h1.04v1.04h-1.04zM6 20h1.04v1.04h-1.04zM12 20h1.04v1.04h-1.04zM17 20h1.04v1.04h-1.04zM21 20h1.04v1.04h-1.04zM22 20h1.04v1.04h-1.04zM26 20h1.04v1.04h-1.04zM31 20h1.04v1.04h-1.04zM36 20h1.04v1.04h-1.04zM42 20h1.04v1.04h-1.04zM11 21h1.04v1.04h-1.04zM22 21h1.04v1.04h-1.04zM26 21h1.04v1.04h-1.04zM27 21h1.04v1.04h-1.04zM32 21h1.04v1.04h-1.04zM36 21h1.04v1.04h-1.04zM42 21h1.04v1.04h-1.04zM46 21h1.04v1.04h-1.04zM47 21h1.04v1.04h-1.04zM11 22h1.04v1.04h-1.04zM17 22h1.04v1.04h-1.04zM22 22h1.04v1.04h-1.04zM27 22h1.04v1.04h-1.04zM36 22h1.04v1.04h-1.04zM42 22h1.04v1.04h-1.04zM46 22h1.04v1.04h-1.04zM6 25h1.04v1.04h-1.04zM7 25h1.04v1.04h-1.04zM16 25h1.04v1.04h-1.04zM17 25h1.04v1.04h-1.04zM31 25h1.04v1.04h-1.04zM36 25h1.04v1.04h-1.04zM42 25h1.04v1.04h-1.04zM46 25h1.04v1.04h-1.04zM1 26h1.04v1.04h-1.04zM2 26h1.04v1.04h-1.04zM7 26h1.04v1.04h-1.04zM12 26h1.04v1.04h-1.04zM16 26h1.04v1.04h-1.04zM21 26h1.04v1.04h-1.04zM22 26h1.04v1.04h-1.04zM36 26h1.04v1.04h-1.04zM42 26h1.04v1.04h-1.04zM47 26h1.04v1.04h-1.04zM1 27h1.04v1.04h-1.04zM2 27h1.04v1.04h-1.04zM6 27h1.04v1.04h-1.04zM12 27h1.04v1.04h-1.04zM22 27h1.04v1.04h-1.04zM26 27h1.04v1.04h-1.04zM36 27h1.04v1.04h-1.04zM37 27h1.04v1.04h-1.04zM42 27h1.04v1.04h-1.04zM47 27h1.04v1.04h-1.04zM2 30h1.04v1.04h-1.04zM11 30h1.04v1.04h-1.04zM21 30h1.04v1.04h-1.04zM22 30h1.04v1.04h-1.04zM26 30h1.04v1.04h-1.04zM27 30h1.04v1.04h-1.04zM32 30h1.04v1.04h-1.04zM2 31h1.04v1.04h-1.04zM6 31h1.04v1.04h-1.04zM11 31h1.04v1.04h-1.04zM17 31h1.04v1.04h-1.04zM22 31h1.04v1.04h-1.04zM31 31h1.04v1.04h-1.04zM37 31h1.04v1.04h-1.04zM41 31h1.04v1.04h-1.04zM1 32h1.04v1.04h-1.04zM7 32h1.04v1.04h-1.04zM11 32h1.04v1.04h-1.04zM17 32h1.04v1.04h-1.04zM27 32h1.04v1.04h-1.04zM36 32h1.04v1.04h-1.04zM1 35h1.04v1.04h-1.04zM6 35h1.04v1.04h-1.04zM11 35h1.04v1.04h-1.04zM17 35h1.04v1.04h-1.04zM26 35h1.04v1.04h-1.04zM31 35h1.04v1.04h-1.04zM6 36h1.04v1.04h-1.04zM37 36h1.04v1.04h-1.04zM42 36h1.04v1.04h-1.04zM46 36h1.04v1.04h-1.04zM47 36h1.04v1.04h-1.04zM1 37h1.04v1.04h-1.04zM12 37h1.04v1.04h-1.04zM22 37h1.04v1.04h-1.04zM26 37h1.04v1.04h-1.04zM32 37h1.04v1.04h-1.04zM36 37h1.04v1.04h-1.04zM37 37h1.04v1.04h-1.04zM11 40h1.04v1.04h-1.04zM22 40h1.04v1.04h-1.04zM27 40h1.04v1.04h-1.04zM31 40h1.04v1.04h-1.04zM32 40h1.04v1.04h-1.04zM36 40h1.04v1.04h-1.04zM37 40h1.04v1.04h-1.04zM41 40h1.04v1.04h-1.04zM46 40h1.04v1.04h-1.04zM47 40h1.04v1.04h-1.04zM1 41h1.04v1.04h-1.04zM6 41h1.04v1.04h-1.04zM7 41h1.04v1.04h-1.04zM16 41h1.04v1.04h-1.04zM21 41h1.04v1.04h-1.04zM36 41h1.04v1.04h-1.04zM37 41h1.04v1.04h-1.04zM41 41h1.04v1.04h-1.04zM47 41h1.04v1.04h-1.04zM1 42h1.04v1.04h-1.04zM2 42h1.04v1.04h-1.04zM6 42h1.04v1.04h-1.04zM7 42h1.04v1.04h-1.04zM16 42h1.04v1.04h-1.04zM26 42h1.04v1.04h-1.04zM27 42h1.04v1.04h-1.04zM31 42h1.04v1.04h-1.04zM37 42h1.04v1.04h-1.04zM46 42h1.04v1.04h-1.04zM47 42h1.04v1.04h-1.04zM6 45h1.04v1.04h-1.04zM16 45h1.04v1.04h-1.04zM26 45h1.04v1.04h-1.04zM36 45h1.04v1.04h-1.04zM37 45h1.04v1.04h-1.04zM41 45h1.04v1.04h-1.04zM11 46h1.04v1.04h-1.04zM12 46h1.04v1.04h-1.04zM27 46h1.04v1.04h-1.04zM32 46h1.04v1.04h-1.04zM41 46h1.04v1.04h-1.04zM42 46h1.04v1.04h-1.04zM47 46h1.04v1.04h-1.04zM1 47h1.04v1.04h-1.04zM6 47h1.04v1.04h-1.04zM17 47h1.04v1.04h-1.04zM21 47h1.04v1.04h-1.04zM22 47h1.04v1.04h-1.04zM31 47h1.04v1.04h-1.04zM32 47h1.04v1.04h-1.04zM36 47h1.04v1.04h-1.04zM37 47h1.04v1.04h-1.04zM46 47h1.04v1.04h-1.04zM47 47h1.04v1.04h-1.04zM1 50h1.04v1.04h-1.04zM2 50h1.04v1.04h-1.04zM11 50h1.04v1.04h-1.04zM16 50h1.04v1.04h-1.04zM21 50h1.04v1.04h-1.04zM26 50h1.04v1.04h-1.04zM31 50h1.04v1.04h-1.04zM41 50h1.04v1.04h-1.04zM42 50h1.04v1.04h-1.04z"/>
<path fill="#545454" d="M3 0h1.04v1.04h-1.04zM8 0h1.04v1.04h-1.04zM10 0h1.04v1.04h-1.04zM25 0h1.04v1.04h-1.04zM33 0h1.04v1.04h-1.04zM19 2h1.04v1.04h-1.04zM3 5h1.04v1.04h-1.04zM45 5h1.04v1.04h-1.04zM48 5h1.04v1.04h-1.04zM24 7h1.04v1.04h-1.04zM29 7h1.04v1.04h-1.04zM39 7h1.04v1.04h-1.04zM3 10h1.04v1.04h-1.04zM8 10h1.04v1.04h-1.04zM18 10h1.04v1.04h-1.04zM30 10h1.04v1.04h-1.04zM38 10h1.04v1.04h-1.04zM4 12h1.04v1.04h-1.04zM9 12h1.04v1.04h-1.04zM49 12h1.04v1.04h-1.04zM3 15h1.04v1.04h-1.04zM24 17h1.04v1.04h-1.04zM29 17h1.04v1.04h-1.04zM34 17h1.04v1.04h-1.04zM49 17h1.04v1.04h-1.04zM8 20h1.04v1.04h-1.04zM10 20h1.04v1.04h-1.04zM35 20h1.04v1.04h-1.04zM45 20h1.04v1.04h-1.04zM9 22h1.04v1.04h-1.04zM15 25h1.04v1.04h-1.04zM28 25h1.04v1.04h-1.04zM50 25h1.04v1.04h-1.04zM18 30h1.04v1.04h-1.04zM35 30h1.04v1.04h-1.04zM4 32h1.04v1.04h-1.04zM0 35h1.04v1.04h-1.04zM10 35h1.04v1.04h-1.04zM25 35h1.04v1.04h-1.04zM38 35h1.04v1.04h-1.04zM45 35h1.04v1.04h-1.04zM9 37h1.04v1.04h-1.04zM24 37h1.04v1.04h-1.04zM39 37h1.04v1.04h-1.04zM20 40h1.04v1.04h-1.04zM28 40h1.04v1.04h-1.04zM43 40h1.04v1.04h-1.04zM45 40h1.04v1.04h-1.04zM13 45h1.04v1.04h-1.04zM25 45h1.04v1.04h-1.04zM33 45h1.04v1.04h-1.04zM35 45h1.04v1.04h-1.04zM9 47h1.04v1.04h-1.04zM10 50h1.04v1.04h-1.04zM18 50h1.04v1.04h-1.04zM25 50h1.04v1.04h-1.04zM35 50h1.04v1.04h-1.04zM43 50h1.04v1.04h-1.04z"/>
<path fill="#696969" d="M4 0h1.04v1.04h-1.04zM29 0h1.04v1.04h-1.04zM39 0h1.04v1.04h-1.04zM20 1h1.04v1.04h-1.04zM23 1h1.04v1.04h-1.04zM4 5h1.04v1.04h-1.04zM9 5h1.04v1.04h-1.04zM40 6h1.04v1.04h-1.04zM43 6h1.04v1.04h-1.04zM45 6h1.04v1.04h-1.04zM19 10h1.04v1.04h-1.04zM49 10h1.04v1.04h-1.04zM13 11h1.04v1.04h-1.04zM15 11h1.04v1.04h-1.04zM23 11h1.04v1.04h-1.04zM35 11h1.04v1.04h-1.04zM24 15h1.04v1.04h-1.04zM10 16h1.04v1.04h-1.04zM13 16h1.04v1.04h-1.04zM20 16h1.04v1.04h-1.04zM38 16h1.04v1.04h-1.04zM48 16h1.04v1.04h-1.04zM20 21h1.04v1.04h-1.04zM40 21h1.04v1.04h-1.04zM43 21h1.04v1.04h-1.04zM18 26h1.04v1.04h-1.04zM25 26h1.04v1.04h-1.04zM28 26h1.04v1.04h-1.04zM30 26h1.04v1.04h-1.04zM40 26h1.04v1.04h-1.04zM48 26h1.04v1.04h-1.04zM4 30h1.04v1.04h-1.04zM9 30h1.04v1.04h-1.04zM29 30h1.04v1.04h-1.04zM44 30h1.04v1.04h-1.04zM5 31h1.04v1.04h-1.04zM35 31h1.04v1.04h-1.04zM40 31h1.04v1.04h-1.04zM45 31h1.04v1.04h-1.04zM34 35h1.04v1.04h-1.04zM18 36h1.04v1.04h-1.04zM20 36h1.04v1.04h-1.04zM28 36h1.04v1.04h-1.04zM48 36h1.04v1.04h-1.04zM39 40h1.04v1.04h-1.04zM13 41h1.04v1.04h-1.04zM23 41h1.04v1.04h-1.04zM4 45h1.04v1.04h-1.04zM9 45h1.04v1.04h-1.04zM15 46h1.04v1.04h-1.04zM18 46h1.04v1.04h-1.04zM30 46h1.04v1.04h-1.04zM38 46h1.04v1.04h-1.04zM43 46h1.04v1.04h-1.04zM29 50h1.04v1.04h-1.04zM34 50h1.04v1.04h-1.04z"/>
<path fill="#1e1e1e" d="M6 0h1.04v1.04h-1.04zM21 0h1.04v1.04h-1.04zM27 1h1.04v1.04h-1.04zM31 1h1.04v1.04h-1.04zM22 2h1.04v1.04h-1.04zM27 2h1.04v1.04h-1.04zM32 2h1.04v1.04h-1.04zM3 3h1.04v1.04h-1.04zM5 3h1.04v1.04h-1.04zM6 3h1.04v1.04h-1.04zM8 3h1.04v1.04h-1.04zM13 3h1.04v1.04h-1.04zM14 3h1.04v1.04h-1.04zM19 3h1.04v1.04h-1.04zM20 3h1.04v1.04h-1.04zM24 3h1.04v1.04h-1.04zM30 3h1.04v1.04h-1.04zM31 3h1.04v1.04h-1.04zM43 3h1.04v1.04h-1.04zM44 3h1.04v1.04h-1.04zM45 3h1.04v1.04h-1.04zM48 3h1.04v1.04h-1.04zM49 3h1.04v1.04h-1.04zM50 3h1.04v1.04h-1.04zM0 4h1.04v1.04h-1.04zM3 4h1.04v1.04h-1.04zM5 4h1.04v1.04h-1.04zM6 4h1.04v1.04h-1.04zM10 4h1.04v1.04h-1.04zM14 4h1.04v1.04h-1.04zM15 4h1.04v1.04h-1.04zM19 4h1.04v1.04h-1.04zM25 4h1.04v1.04h-1.04zM27 4h1.04v1.04h-1.04zM28 4h1.04v1.04h-1.04zM29 4h1.04v1.04h-1.04zM30 4h1.04v1.04h-1.04zM35 4h1.04v1.04h-1.04zM39 4h1.04v1.04h-1.04zM43 4h1.04v1.04h-1.04zM44 4h1.04v1.04h-1.04zM48 4h1.04v1.04h-1.04zM50 4h1.04v1.04h-1.04zM1 5h1.04v1.04h-1.04zM16 6h1.04v1.04h-1.04zM26 6h1.04v1.04h-1.04zM41 7h1.04v1.04h-1.04zM3 8h1.04v1.04h-1.04zM5 8h1.04v1.04h-1.04zM7 8h1.04v1.04h-1.04zM9 8h1.04v1.04h-1.04zM11 8h1.04v1.04h-1.04zM19 8h1.04v1.04h-1.04zM28 8h1.04v1.04h-1.04zM29 8h1.04v1.04h-1.04zM30 8h1.04v1.04h-1.04zM33 8h1.04v1.04h-1.04zM36 8h1.04v1.04h-1.04zM38 8h1.04v1.04h-1.04zM39 8h1.04v1.04h-1.04zM43 8h1.04v1.04h-1.04zM44 8h1.04v1.04h-1.04zM45 8h1.04v1.04h-1.04zM48 8h1.04v1.04h-1.04zM49 8h1.04v1.04h-1.04zM50 8h1.04v1.04h-1.04zM0 9h1.04v1.04h-1.04zM3 9h1.04v1.04h-1.04zM4 9h1.04v1.04h-1.04zM10 9h1.04v1.04h-1.04zM13 9h1.04v1.04h-1.04zM14 9h1.04v1.04h-1.04zM15 9h1.04v1.04h-1.04zM18 9h1.04v1.04h-1.04zM19 9h1.04v1.04h-1.04zM20 9h1.04v1.04h-1.04zM23 9h1.04v1.04h-1.04zM29 9h1.04v1.04h-1.04zM33 9h1.04v1.04h-1.04zM34 9h1.04v1.04h-1.04zM35 9h1.04v1.04h-1.04zM43 9h1.04v1.04h-1.04zM48 9h1.04v1.04h-1.04zM49 9h1.04v1.04h-1.04zM2 11h1.04v1.04h-1.04zM26 11h1.04v1.04h-1.04zM12 12h1.04v1.04h-1.04zM27 12h1.04v1.04h-1.04zM0 13h1.04v1.04h-1.04zM2 13h1.04v1.04h-1.04zM3 13h1.04v1.04h-1.04zM8 13h1.04v1.04h-1.04zM15 13h1.04v1.04h-1.04zM18 13h1.04v1.04h-1.04zM20 13h1.04v1.04h-1.04zM29 13h1.04v1.04h-1.04zM30 13h1.04v1.04h-1.04zM33 13h1.04v1.04h-1.04zM38 13h1.04v1.04h-1.04zM39 13h1.04v1.04h-1.04zM43 13h1.04v1.04h-1.04zM50 13h1.04v1.04h-1.04zM1 14h1.04v1.04h-1.04zM5 14h1.04v1.04h-1.04zM7 14h1.04v1.04h-1.04zM11 14h1.04v1.04h-1.04zM18 14h1.04v1.04h-1.04zM24 14h1.04v1.04h-1.04zM36 14h1.04v1.04h-1.04zM39 14h1.04v1.04h-1.04zM40 14h1.04v1.04h-1.04zM43 14h1.04v1.04h-1.04zM48 14h1.04v1.04h-1.04zM2 15h1.04v1.04h-1.04zM17 15h1.04v1.04h-1.04zM22 15h1.04v1.04h-1.04zM47 15h1.04v1.04h-1.04zM3 18h1.04v1.04h-1.04zM5 18h1.04v1.04h-1.04zM10 18h1.04v1.04h-1.04zM11 18h1.04v1.04h-1.04zM13 18h1.04v1.04h-1.04zM14 18h1.04v1.04h-1.04zM20 18h1.04v1.04h-1.04zM22 18h1.04v1.04h-1.04zM24 18h1.04v1.04h-1.04zM25 18h1.04v1.04h-1.04zM28 18h1.04v1.04h-1.04zM40 18h1.04v1.04h-1.04zM43 18h1.04v1.04h-1.04zM44 18h1.04v1.04h-1.04zM48 18h1.04v1.04h-1.04zM49 18h1.04v1.04h-1.04zM50 18h1.04v1.04h-1.04zM3 19h1.04v1.04h-1.04zM4 19h1.04v1.04h-1.04zM5 19h1.04v1.04h-1.04zM8 19h1.04v1.04h-1.04zM9 19h1.04v1.04h-1.04zM13 19h1.04v1.04h-1.04zM15 19h1.04v1.04h-1.04zM18 19h1.04v1.04h-1.04zM20 19h1.04v1.04h-1.04zM23 19h1.04v1.04h-1.04zM25 19h1.04v1.04h-1.04zM29 19h1.04v1.04h-1.04zM31 19h1.04v1.04h-1.04zM33 19h1.04v1.04h-1.04zM35 19h1.04v1.04h-1.04zM39 19h1.04v1.04h-1.04zM43 19h1.04v1.04h-1.04zM49 19h1.04v1.04h-1.04zM37 20h1.04v1.04h-1.04zM46 20h1.04v1.04h-1.04zM41 21h1.04v1.04h-1.04zM2 22h1.04v1.04h-1.04zM6 22h1.04v1.04h-1.04zM31 22h1.04v1.04h-1.04zM0 23h1.04v1.04h-1.04zM4 23h1.04v1.04h-1.04zM15 23h1.04v1.04h-1.04zM18 23h1.04v1.04h-1.04zM20 23h1.04v1.04h-1.04zM23 23h1.04v1.04h-1.04zM24 23h1.04v1.04h-1.04zM33 23h1.04v1.04h-1.04zM34 23h1.04v1.04h-1.04zM35 23h1.04v1.04h-1.04zM44 23h1.04v1.04h-1.04zM48 23h1.04v1.04h-1.04zM3 24h1.04v1.04h-1.04zM9 24h1.04v1.04h-1.04zM10 24h1.04v1.04h-1.04zM14 24h1.04v1.04h-1.04zM18 24h1.04v1.04h-1.04zM23 24h1.04v1.04h-1.04zM25 24h1.04v1.04h-1.04zM33 24h1.04v1.04h-1.04zM35 24h1.04v1.04h-1.04zM38 24h1.04v1.04h-1.04zM39 24h1.04v1.04h-1.04zM40 24h1.04v1.04h-1.04zM44 24h1.04v1.04h-1.04zM50 24h1.04v1.04h-1.04zM16 27h1.04v1.04h-1.04zM0 28h1.04v1.04h-1.04zM4 28h1.04v1.04h-1.04zM13 28h1.04v1.04h-1.04zM14 28h1.04v1.04h-1.04zM16 28h1.04v1.04h-1.04zM19 28h1.04v1.04h-1.04zM20 28h1.04v1.04h-1.04zM23 28h1.04v1.04h-1.04zM24 28h1.04v1.04h-1.04zM27 28h1.04v1.04h-1.04zM28 28h1.04v1.04h-1.04zM33 28h1.04v1.04h-1.04zM39 28h1.04v1.04h-1.04zM40 28h1.04v1.04h-1.04zM43 28h1.04v1.04h-1.04zM44 28h1.04v1.04h-1.04zM45 28h1.04v1.04h-1.04zM48 28h1.04v1.04h-1.04zM49 28h1.04v1.04h-1.04zM50 28h1.04v1.04h-1.04zM0 29h1.04v1.04h-1.04zM5 29h1.04v1.04h-1.04zM9 29h1.04v1.04h-1.04zM10 29h1.04v1.04h-1.04zM14 29h1.04v1.04h-1.04zM15 29h1.04v1.04h-1.04zM18 29h1.04v1.04h-1.04zM20 29h1.04v1.04h-1.04zM21 29h1.04v1.04h-1.04zM23 29h1.04v1.04h-1.04zM24 29h1.04v1.04h-1.04zM33 29h1.04v1.04h-1.04zM35 29h1.04v1.04h-1.04zM38 29h1.04v1.04h-1.04zM40 29h1.04v1.04h-1.04zM44 29h1.04v1.04h-1.04zM45 29h1.04v1.04h-1.04zM49 29h1.04v1.04h-1.04zM12 30h1.04v1.04h-1.04zM16 30h1.04v1.04h-1.04zM37 30h1.04v1.04h-1.04zM1 31h1.04v1.04h-1.04zM21 31h1.04v1.04h-1.04zM46 31h1.04v1.04h-1.04zM47 31h1.04v1.04h-1.04zM22 32h1.04v1.04h-1.04zM46 32h1.04v1.04h-1.04zM3 33h1.04v1.04h-1.04zM4 33h1.04v1.04h-1.04zM8 33h1.04v1.04h-1.04zM10 33h1.04v1.04h-1.04zM11 33h1.04v1.04h-1.04zM13 33h1.04v1.04h-1.04zM14 33h1.04v1.04h-1.04zM15 33h1.04v1.04h-1.04zM18 33h1.04v1.04h-1.04zM19 33h1.04v1.04h-1.04zM20 33h1.04v1.04h-1.04zM23 33h1.04v1.04h-1.04zM25 33h1.04v1.04h-1.04zM28 33h1.04v1.04h-1.04zM29 33h1.04v1.04h-1.04zM30 33h1.04v1.04h-1.04zM34 33h1.04v1.04h-1.04zM38 33h1.04v1.04h-1.04zM41 33h1.04v1.04h-1.04zM44 33h1.04v1.04h-1.04zM45 33h1.04v1.04h-1.04zM49 33h1.04v1.04h-1.04zM1 34h1.04v1.04h-1.04zM3 34h1.04v1.04h-1.04zM4 34h1.04v1.04h-1.04zM9 34h1.04v1.04h-1.04zM10 34h1.04v1.04h-1.04zM11 34h1.04v1.04h-1.04zM18 34h1.04v1.04h-1.04zM19 34h1.04v1.04h-1.04zM20 34h1.04v1.04h-1.04zM21 34h1.04v1.04h-1.04zM24 34h1.04v1.04h-1.04zM27 34h1.04v1.04h-1.04zM29 34h1.04v1.04h-1.04zM30 34h1.04v1.04h-1.04zM31 34h1.04v1.04h-1.04zM34 34h1.04v1.04h-1.04zM36 34h1.04v1.04h-1.04zM37 34h1.04v1.04h-1.04zM43 34h1.04v1.04h-1.04zM44 34h1.04v1.04h-1.04zM48 34h1.04v1.04h-1.04zM16 35h1.04v1.04h-1.04zM27 36h1.04v1.04h-1.04zM21 37h1.04v1.04h-1.04zM47 37h1.04v1.04h-1.04zM3 38h1.04v1.04h-1.04zM4 38h1.04v1.04h-1.04zM10 38h1.04v1.04h-1.04zM19 38h1.04v1.04h-1.04zM20 38h1.04v1.04h-1.04zM25 38h1.04v1.04h-1.04zM30 38h1.04v1.04h-1.04zM34 38h1.04v1.04h-1.04zM38 38h1.04v1.04h-1.04zM39 38h1.04v1.04h-1.04zM42 38h1.04v1.04h-1.04zM45 38h1.04v1.04h-1.04zM48 38h1.04v1.04h-1.04zM50 38h1.04v1.04h-1.04zM0 39h1.04v1.04h-1.04zM4 39h1.04v1.04h-1.04zM8 39h1.04v1.04h-1.04zM9 39h1.04v1.04h-1.04zM13 39h1.04v1.04h-1.04zM15 39h1.04v1.04h-1.04zM16 39h1.04v1.04h-1.04zM19 39h1.04v1.04h-1.04zM20 39h1.04v1.04h-1.04zM21 39h1.04v1.04h-1.04zM24 39h1.04v1.04h-1.04zM27 39h1.04v1.04h-1.04zM28 39h1.04v1.04h-1.04zM30 39h1.04v1.04h-1.04zM40 39h1.04v1.04h-1.04zM43 39h1.04v1.04h-1.04zM44 39h1.04v1.04h-1.04zM48 39h1.04v1.04h-1.04zM49 39h1.04v1.04h-1.04zM50 39h1.04v1.04h-1.04zM6 40h1.04v1.04h-1.04zM31 41h1.04v1.04h-1.04zM32 41h1.04v1.04h-1.04zM5 43h1.04v1.04h-1.04zM9 43h1.04v1.04h-1.04zM10 43h1.04v1.04h-1.04zM15 43h1.04v1.04h-1.04zM23 43h1.04v1.04h-1.04zM25 43h1.04v1.04h-1.04zM28 43h1.04v1.04h-1.04zM29 43h1.04v1.04h-1.04zM38 43h1.04v1.04h-1.04zM39 43h1.04v1.04h-1.04zM42 43h1.04v1.04h-1.04zM43 43h1.04v1.04h-1.04zM50 43h1.04v1.04h-1.04zM0 44h1.04v1.04h-1.04zM6 44h1.04v1.04h-1.04zM8 44h1.04v1.04h-1.04zM10 44h1.04v1.04h-1.04zM15 44h1.04v1.04h-1.04zM25 44h1.04v1.04h-1.04zM28 44h1.04v1.04h-1.04zM30 44h1.04v1.04h-1.04zM35 44h1.04v1.04h-1.04zM37 44h1.04v1.04h-1.04zM40 44h1.04v1.04h-1.04zM44 44h1.04v1.04h-1.04zM50 44h1.04v1.04h-1.04zM1 46h1.04v1.04h-1.04zM6 46h1.04v1.04h-1.04zM17 46h1.04v1.04h-1.04zM21 46h1.04v1.04h-1.04zM46 46h1.04v1.04h-1.04zM2 47h1.04v1.04h-1.04zM11 47h1.04v1.04h-1.04zM5 48h1.04v1.04h-1.04zM9 48h1.04v1.04h-1.04zM14 48h1.04v1.04h-1.04zM16 48h1.04v1.04h-1.04zM18 48h1.04v1.04h-1.04zM20 48h1.04v1.04h-1.04zM25 48h1.04v1.04h-1.04zM31 48h1.04v1.04h-1.04zM33 48h1.04v1.04h-1.04zM34 48h1.04v1.04h-1.04zM35 48h1.04v1.04h-1.04zM38 48h1.04v1.04h-1.04zM43 48h1.04v1.04h-1.04zM48 48h1.04v1.04h-1.04zM49 48h1.04v1.04h-1.04zM50 48h1.04v1.04h-1.04zM5 49h1.04v1.04h-1.04zM9 49h1.04v1.04h-1.04zM13 49h1.04v1.04h-1.04zM15 49h1.04v1.04h-1.04zM18 49h1.04v1.04h-1.04zM19 49h1.04v1.04h-1.04zM20 49h1.04v1.04h-1.04zM23 49h1.04v1.04h-1.04zM24 49h1.04v1.04h-1.04zM28 49h1.04v1.04h-1.04zM29 49h1.04v1.04h-1.04zM33 49h1.04v1.04h-1.04zM38 49h1.04v1.04h-1.04zM40 49h1.04v1.04h-1.04zM42 49h1.04v1.04h-1.04zM44 49h1.04v1.04h-1.04zM45 49h1.04v1.04h-1.04zM48 49h1.04v1.04h-1.04zM50 49h1.04v1.04h-1.04zM6 50h1.04v1.04h-1.04z"/>
<path fill="#666666" d="M9 0h1.04v1.04h-1.04zM19 0h1.04v1.04h-1.04zM49 0h1.04v1.04h-1.04zM8 1h1.04v1.04h-1.04zM13 1h1.04v1.04h-1.04zM18 1h1.04v1.04h-1.04zM14 5h1.04v1.04h-1.04zM15 6h1.04v1.04h-1.04zM18 6h1.04v1.04h-1.04zM30 6h1.04v1.04h-1.04zM50 6h1.04v1.04h-1.04zM9 10h1.04v1.04h-1.04zM0 11h1.04v1.04h-1.04zM18 11h1.04v1.04h-1.04zM9 15h1.04v1.04h-1.04zM29 15h1.04v1.04h-1.04zM39 15h1.04v1.04h-1.04zM49 15h1.04v1.04h-1.04zM5 16h1.04v1.04h-1.04zM18 16h1.04v1.04h-1.04zM30 16h1.04v1.04h-1.04zM33 16h1.04v1.04h-1.04zM45 16h1.04v1.04h-1.04zM19 20h1.04v1.04h-1.04zM29 20h1.04v1.04h-1.04zM34 20h1.04v1.04h-1.04zM39 20h1.04v1.04h-1.04zM44 20h1.04v1.04h-1.04zM49 20h1.04v1.04h-1.04zM3 21h1.04v1.04h-1.04zM10 21h1.04v1.04h-1.04zM13 21h1.04v1.04h-1.04zM30 21h1.04v1.04h-1.04zM48 21h1.04v1.04h-1.04zM4 25h1.04v1.04h-1.04zM9 25h1.04v1.04h-1.04zM24 25h1.04v1.04h-1.04zM44 25h1.04v1.04h-1.04zM49 25h1.04v1.04h-1.04zM0 26h1.04v1.04h-1.04zM5 26h1.04v1.04h-1.04zM13 26h1.04v1.04h-1.04zM35 26h1.04v1.04h-1.04zM45 26h1.04v1.04h-1.04zM49 30h1.04v1.04h-1.04zM15 31h1.04v1.04h-1.04zM48 31h1.04v1.04h-1.04zM4 35h1.04v1.04h-1.04zM9 35h1.04v1.04h-1.04zM44 35h1.04v1.04h-1.04zM38 36h1.04v1.04h-1.04zM4 40h1.04v1.04h-1.04zM14 40h1.04v1.04h-1.04zM19 40h1.04v1.04h-1.04zM29 40h1.04v1.04h-1.04zM0 41h1.04v1.04h-1.04zM3 41h1.04v1.04h-1.04zM5 41h1.04v1.04h-1.04zM10 41h1.04v1.04h-1.04zM15 41h1.04v1.04h-1.04zM20 41h1.04v1.04h-1.04zM33 41h1.04v1.04h-1.04zM40 41h1.04v1.04h-1.04zM19 45h1.04v1.04h-1.04zM34 45h1.04v1.04h-1.04zM39 45h1.04v1.04h-1.04zM44 45h1.04v1.04h-1.04zM8 46h1.04v1.04h-1.04zM23 46h1.04v1.04h-1.04zM45 46h1.04v1.04h-1.04zM4 50h1.04v1.04h-1.04zM9 50h1.04v1.04h-1.04zM14 50h1.04v1.04h-1.04zM24 50h1.04v1.04h-1.04z"/>
<path fill="#606060" d="M13 0h1.04v1.04h-1.04zM20 0h1.04v1.04h-1.04zM50 0h1.04v1.04h-1.04zM0 1h1.04v1.04h-1.04zM3 1h1.04v1.04h-1.04zM5 1h1.04v1.04h-1.04zM30 1h1.04v1.04h-1.04zM33 1h1.04v1.04h-1.04zM43 1h1.04v1.04h-1.04zM48 1h1.04v1.04h-1.04zM28 5h1.04v1.04h-1.04zM30 5h1.04v1.04h-1.04zM35 5h1.04v1.04h-1.04zM50 5h1.04v1.04h-1.04zM20 6h1.04v1.04h-1.04zM28 6h1.04v1.04h-1.04zM33 6h1.04v1.04h-1.04zM15 10h1.04v1.04h-1.04zM20 10h1.04v1.04h-1.04zM29 10h1.04v1.04h-1.04zM40 10h1.04v1.04h-1.04zM48 10h1.04v1.04h-1.04zM8 11h1.04v1.04h-1.04zM20 11h1.04v1.04h-1.04zM28 11h1.04v1.04h-1.04zM40 11h1.04v1.04h-1.04zM48 11h1.04v1.04h-1.04zM50 11h1.04v1.04h-1.04zM5 15h1.04v1.04h-1.04zM8 15h1.04v1.04h-1.04zM25 15h1.04v1.04h-1.04zM35 15h1.04v1.04h-1.04zM50 15h1.04v1.04h-1.04zM8 16h1.04v1.04h-1.04zM15 16h1.04v1.04h-1.04zM23 16h1.04v1.04h-1.04zM35 16h1.04v1.04h-1.04zM40 16h1.04v1.04h-1.04zM43 16h1.04v1.04h-1.04zM3 20h1.04v1.04h-1.04zM13 20h1.04v1.04h-1.04zM20 20h1.04v1.04h-1.04zM23 20h1.04v1.04h-1.04zM25 20h1.04v1.04h-1.04zM30 20h1.04v1.04h-1.04zM5 21h1.04v1.04h-1.04zM15 21h1.04v1.04h-1.04zM18 21h1.04v1.04h-1.04zM25 21h1.04v1.04h-1.04zM33 21h1.04v1.04h-1.04zM35 21h1.04v1.04h-1.04zM38 21h1.04v1.04h-1.04zM50 21h1.04v1.04h-1.04zM35 25h1.04v1.04h-1.04zM38 25h1.04v1.04h-1.04zM38 26h1.04v1.04h-1.04zM50 26h1.04v1.04h-1.04zM3 30h1.04v1.04h-1.04zM20 30h1.04v1.04h-1.04zM18 31h1.04v1.04h-1.04zM20 31h1.04v1.04h-1.04zM23 31h1.04v1.04h-1.04zM25 31h1.04v1.04h-1.04zM43 31h1.04v1.04h-1.04zM50 31h1.04v1.04h-1.04zM20 35h1.04v1.04h-1.04zM23 35h1.04v1.04h-1.04zM28 35h1.04v1.04h-1.04zM33 35h1.04v1.04h-1.04zM33 36h1.04v1.04h-1.04zM35 36h1.04v1.04h-1.04zM40 36h1.04v1.04h-1.04zM8 40h1.04v1.04h-1.04zM13 40h1.04v1.04h-1.04zM18 40h1.04v1.04h-1.04zM33 40h1.04v1.04h-1.04zM8 41h1.04v1.04h-1.04zM18 41h1.04v1.04h-1.04zM28 41h1.04v1.04h-1.04zM43 45h1.04v1.04h-1.04zM48 45h1.04v1.04h-1.04zM0 46h1.04v1.04h-1.04zM3 46h1.04v1.04h-1.04zM13 46h1.04v1.04h-1.04zM28 46h1.04v1.04h-1.04zM0 50h1.04v1.04h-1.04zM5 50h1.04v1.04h-1.04zM20 50h1.04v1.04h-1.04zM23 50h1.04v1.04h-1.04zM50 50h1.04v1.04h-1.04z"/>
<path fill="#636363" d="M14 0h1.04v1.04h-1.04zM24 0h1.04v1.04h-1.04zM34 0h1.04v1.04h-1.04zM44 0h1.04v1.04h-1.04zM10 1h1.04v1.04h-1.04zM25 1h1.04v1.04h-1.04zM28 1h1.04v1.04h-1.04zM35 1h1.04v1.04h-1.04zM38 1h1.04v1.04h-1.04zM45 1h1.04v1.04h-1.04zM50 1h1.04v1.04h-1.04zM39 5h1.04v1.04h-1.04zM0 6h1.04v1.04h-1.04zM3 6h1.04v1.04h-1.04zM8 6h1.04v1.04h-1.04zM10 6h1.04v1.04h-1.04zM25 6h1.04v1.04h-1.04zM14 10h1.04v1.04h-1.04zM34 10h1.04v1.04h-1.04zM5 11h1.04v1.04h-1.04zM10 11h1.04v1.04h-1.04zM25 11h1.04v1.04h-1.04zM30 11h1.04v1.04h-1.04zM38 11h1.04v1.04h-1.04zM43 11h1.04v1.04h-1.04zM4 15h1.04v1.04h-1.04zM28 16h1.04v1.04h-1.04zM50 16h1.04v1.04h-1.04zM4 20h1.04v1.04h-1.04zM9 20h1.04v1.04h-1.04zM14 20h1.04v1.04h-1.04zM24 20h1.04v1.04h-1.04zM8 21h1.04v1.04h-1.04zM23 21h1.04v1.04h-1.04zM28 21h1.04v1.04h-1.04zM45 21h1.04v1.04h-1.04zM19 25h1.04v1.04h-1.04zM29 25h1.04v1.04h-1.04zM34 25h1.04v1.04h-1.04zM39 25h1.04v1.04h-1.04zM3 26h1.04v1.04h-1.04zM8 26h1.04v1.04h-1.04zM15 26h1.04v1.04h-1.04zM23 26h1.04v1.04h-1.04zM33 26h1.04v1.04h-1.04zM19 30h1.04v1.04h-1.04zM8 31h1.04v1.04h-1.04zM10 31h1.04v1.04h-1.04zM30 31h1.04v1.04h-1.04zM14 35h1.04v1.04h-1.04zM19 35h1.04v1.04h-1.04zM49 35h1.04v1.04h-1.04zM0 36h1.04v1.04h-1.04zM8 36h1.04v1.04h-1.04zM10 36h1.04v1.04h-1.04zM25 36h1.04v1.04h-1.04zM30 36h1.04v1.04h-1.04zM43 36h1.04v1.04h-1.04zM45 36h1.04v1.04h-1.04zM50 36h1.04v1.04h-1.04zM9 40h1.04v1.04h-1.04zM24 40h1.04v1.04h-1.04zM43 41h1.04v1.04h-1.04zM45 41h1.04v1.04h-1.04zM48 41h1.04v1.04h-1.04zM50 41h1.04v1.04h-1.04zM24 45h1.04v1.04h-1.04zM5 46h1.04v1.04h-1.04zM20 46h1.04v1.04h-1.04zM25 46h1.04v1.04h-1.04zM33 46h1.04v1.04h-1.04zM48 46h1.04v1.04h-1.04zM19 50h1.04v1.04h-1.04zM49 50h1.04v1.04h-1.04z"/>
<path fill="#272727" d="M17 0h1.04v1.04h-1.04zM22 0h1.04v1.04h-1.04zM27 0h1.04v1.04h-1.04zM47 0h1.04v1.04h-1.04zM16 1h1.04v1.04h-1.04zM22 1h1.04v1.04h-1.04zM36 1h1.04v1.04h-1.04zM41 1h1.04v1.04h-1.04zM42 1h1.04v1.04h-1.04zM46 1h1.04v1.04h-1.04zM47 1h1.04v1.04h-1.04zM16 2h1.04v1.04h-1.04zM41 2h1.04v1.04h-1.04zM31 5h1.04v1.04h-1.04zM1 6h1.04v1.04h-1.04zM21 6h1.04v1.04h-1.04zM31 6h1.04v1.04h-1.04zM32 6h1.04v1.04h-1.04zM47 6h1.04v1.04h-1.04zM2 7h1.04v1.04h-1.04zM27 7h1.04v1.04h-1.04zM36 7h1.04v1.04h-1.04zM6 10h1.04v1.04h-1.04zM7 10h1.04v1.04h-1.04zM11 10h1.04v1.04h-1.04zM22 10h1.04v1.04h-1.04zM27 10h1.04v1.04h-1.04zM37 10h1.04v1.04h-1.04zM42 10h1.04v1.04h-1.04zM6 11h1.04v1.04h-1.04zM12 11h1.04v1.04h-1.04zM16 11h1.04v1.04h-1.04zM17 11h1.04v1.04h-1.04zM27 11h1.04v1.04h-1.04zM42 11h1.04v1.04h-1.04zM46 11h1.04v1.04h-1.04zM26 12h1.04v1.04h-1.04zM36 12h1.04v1.04h-1.04zM37 12h1.04v1.04h-1.04zM11 15h1.04v1.04h-1.04zM21 15h1.04v1.04h-1.04zM26 15h1.04v1.04h-1.04zM31 15h1.04v1.04h-1.04zM1 16h1.04v1.04h-1.04zM16 16h1.04v1.04h-1.04zM37 16h1.04v1.04h-1.04zM46 16h1.04v1.04h-1.04zM1 17h1.04v1.04h-1.04zM32 17h1.04v1.04h-1.04zM37 17h1.04v1.04h-1.04zM46 17h1.04v1.04h-1.04zM11 20h1.04v1.04h-1.04zM41 20h1.04v1.04h-1.04zM16 21h1.04v1.04h-1.04zM21 21h1.04v1.04h-1.04zM31 21h1.04v1.04h-1.04zM7 22h1.04v1.04h-1.04zM41 22h1.04v1.04h-1.04zM47 22h1.04v1.04h-1.04zM2 25h1.04v1.04h-1.04zM12 25h1.04v1.04h-1.04zM21 25h1.04v1.04h-1.04zM26 25h1.04v1.04h-1.04zM41 25h1.04v1.04h-1.04zM17 26h1.04v1.04h-1.04zM37 26h1.04v1.04h-1.04zM27 27h1.04v1.04h-1.04zM42 30h1.04v1.04h-1.04zM7 31h1.04v1.04h-1.04zM12 31h1.04v1.04h-1.04zM26 31h1.04v1.04h-1.04zM36 31h1.04v1.04h-1.04zM42 31h1.04v1.04h-1.04zM37 32h1.04v1.04h-1.04zM47 32h1.04v1.04h-1.04zM2 35h1.04v1.04h-1.04zM22 35h1.04v1.04h-1.04zM42 35h1.04v1.04h-1.04zM47 35h1.04v1.04h-1.04zM1 36h1.04v1.04h-1.04zM22 36h1.04v1.04h-1.04zM32 36h1.04v1.04h-1.04zM7 37h1.04v1.04h-1.04zM11 37h1.04v1.04h-1.04zM16 37h1.04v1.04h-1.04zM27 37h1.04v1.04h-1.04zM41 37h1.04v1.04h-1.04zM46 37h1.04v1.04h-1.04zM26 40h1.04v1.04h-1.04zM42 40h1.04v1.04h-1.04zM2 41h1.04v1.04h-1.04zM26 41h1.04v1.04h-1.04zM27 41h1.04v1.04h-1.04zM46 41h1.04v1.04h-1.04zM11 42h1.04v1.04h-1.04zM21 42h1.04v1.04h-1.04zM22 42h1.04v1.04h-1.04zM42 42h1.04v1.04h-1.04zM1 45h1.04v1.04h-1.04zM31 45h1.04v1.04h-1.04zM32 45h1.04v1.04h-1.04zM22 46h1.04v1.04h-1.04zM7 47h1.04v1.04h-1.04zM26 47h1.04v1.04h-1.04zM47 50h1.04v1.04h-1.04z"/>
<path fill="#5a5a5a" d="M18 0h1.04v1.04h-1.04zM40 0h1.04v1.04h-1.04zM45 0h1.04v1.04h-1.04zM14 2h1.04v1.04h-1.04zM8 5h1.04v1.04h-1.04zM20 5h1.04v1.04h-1.04zM23 5h1.04v1.04h-1.04zM25 5h1.04v1.04h-1.04zM33 5h1.04v1.04h-1.04zM38 5h1.04v1.04h-1.04zM34 7h1.04v1.04h-1.04zM49 7h1.04v1.04h-1.04zM0 10h1.04v1.04h-1.04zM23 10h1.04v1.04h-1.04zM28 10h1.04v1.04h-1.04zM14 12h1.04v1.04h-1.04zM24 12h1.04v1.04h-1.04zM44 12h1.04v1.04h-1.04zM30 15h1.04v1.04h-1.04zM48 15h1.04v1.04h-1.04zM44 17h1.04v1.04h-1.04zM50 20h1.04v1.04h-1.04zM19 22h1.04v1.04h-1.04zM49 22h1.04v1.04h-1.04zM0 25h1.04v1.04h-1.04zM5 25h1.04v1.04h-1.04zM18 25h1.04v1.04h-1.04zM20 25h1.04v1.04h-1.04zM14 27h1.04v1.04h-1.04zM49 27h1.04v1.04h-1.04zM0 30h1.04v1.04h-1.04zM15 30h1.04v1.04h-1.04zM33 30h1.04v1.04h-1.04zM29 32h1.04v1.04h-1.04zM49 32h1.04v1.04h-1.04zM5 35h1.04v1.04h-1.04zM40 35h1.04v1.04h-1.04zM50 35h1.04v1.04h-1.04zM34 37h1.04v1.04h-1.04zM3 40h1.04v1.04h-1.04zM5 40h1.04v1.04h-1.04zM10 40h1.04v1.04h-1.04zM35 40h1.04v1.04h-1.04zM48 40h1.04v1.04h-1.04zM50 40h1.04v1.04h-1.04zM4 42h1.04v1.04h-1.04zM14 42h1.04v1.04h-1.04zM3 45h1.04v1.04h-1.04zM18 45h1.04v1.04h-1.04zM20 45h1.04v1.04h-1.04zM28 45h1.04v1.04h-1.04zM13 50h1.04v1.04h-1.04zM15 50h1.04v1.04h-1.04zM28 50h1.04v1.04h-1.04zM33 50h1.04v1.04h-1.04zM38 50h1.04v1.04h-1.04zM40 50h1.04v1.04h-1.04z"/>
<path fill="#5d5d5d" d="M30 0h1.04v1.04h-1.04zM43 0h1.04v1.04h-1.04zM48 0h1.04v1.04h-1.04zM5 5h1.04v1.04h-1.04zM10 5h1.04v1.04h-1.04zM15 5h1.04v1.04h-1.04zM18 5h1.04v1.04h-1.04zM43 5h1.04v1.04h-1.04zM13 6h1.04v1.04h-1.04zM38 6h1.04v1.04h-1.04zM48 6h1.04v1.04h-1.04zM10 10h1.04v1.04h-1.04zM25 10h1.04v1.04h-1.04zM43 10h1.04v1.04h-1.04zM3 11h1.04v1.04h-1.04zM0 15h1.04v1.04h-1.04zM18 15h1.04v1.04h-1.04zM20 15h1.04v1.04h-1.04zM33 15h1.04v1.04h-1.04zM3 16h1.04v1.04h-1.04zM0 20h1.04v1.04h-1.04zM15 20h1.04v1.04h-1.04zM18 20h1.04v1.04h-1.04zM28 20h1.04v1.04h-1.04zM33 20h1.04v1.04h-1.04zM38 20h1.04v1.04h-1.04zM40 20h1.04v1.04h-1.04zM43 20h1.04v1.04h-1.04zM48 20h1.04v1.04h-1.04zM8 25h1.04v1.04h-1.04zM13 25h1.04v1.04h-1.04zM25 25h1.04v1.04h-1.04zM43 25h1.04v1.04h-1.04zM5 30h1.04v1.04h-1.04zM10 30h1.04v1.04h-1.04zM13 30h1.04v1.04h-1.04zM23 30h1.04v1.04h-1.04zM25 30h1.04v1.04h-1.04zM28 30h1.04v1.04h-1.04zM30 30h1.04v1.04h-1.04zM38 30h1.04v1.04h-1.04zM40 30h1.04v1.04h-1.04zM43 30h1.04v1.04h-1.04zM50 30h1.04v1.04h-1.04zM3 31h1.04v1.04h-1.04zM28 31h1.04v1.04h-1.04zM33 31h1.04v1.04h-1.04zM38 31h1.04v1.04h-1.04zM3 35h1.04v1.04h-1.04zM15 35h1.04v1.04h-1.04zM30 35h1.04v1.04h-1.04zM35 35h1.04v1.04h-1.04zM23 36h1.04v1.04h-1.04zM15 40h1.04v1.04h-1.04zM23 40h1.04v1.04h-1.04zM38 40h1.04v1.04h-1.04zM40 40h1.04v1.04h-1.04zM8 45h1.04v1.04h-1.04zM30 45h1.04v1.04h-1.04zM40 45h1.04v1.04h-1.04zM45 45h1.04v1.04h-1.04zM50 45h1.04v1.04h-1.04zM8 50h1.04v1.04h-1.04zM45 50h1.04v1.04h-1.04z"/>
<path fill="#939393" d="M4 1h1.04v1.04h-1.04zM39 1h1.04v1.04h-1.04zM14 6h1.04v1.04h-1.04zM19 6h1.04v1.04h-1.04zM44 6h1.04v1.04h-1.04zM9 11h1.04v1.04h-1.04zM24 11h1.04v1.04h-1.04zM29 11h1.04v1.04h-1.04zM14 16h1.04v1.04h-1.04zM14 21h1.04v1.04h-1.04zM29 21h1.04v1.04h-1.04zM4 26h1.04v1.04h-1.04zM34 26h1.04v1.04h-1.04zM39 26h1.04v1.04h-1.04zM49 26h1.04v1.04h-1.04zM14 31h1.04v1.04h-1.04zM39 31h1.04v1.04h-1.04zM29 36h1.04v1.04h-1.04zM34 36h1.04v1.04h-1.04zM49 36h1.04v1.04h-1.04zM34 41h1.04v1.04h-1.04zM39 41h1.04v1.04h-1.04zM44 41h1.04v1.04h-1.04zM44 46h1.04v1.04h-1.04zM49 46h1.04v1.04h-1.04z"/>
<path fill="#969696" d="M9 1h1.04v1.04h-1.04zM49 6h1.04v1.04h-1.04zM4 11h1.04v1.04h-1.04zM14 11h1.04v1.04h-1.04zM19 11h1.04v1.04h-1.04zM49 21h1.04v1.04h-1.04zM9 26h1.04v1.04h-1.04zM19 26h1.04v1.04h-1.04zM29 26h1.04v1.04h-1.04zM29 31h1.04v1.04h-1.04zM34 31h1.04v1.04h-1.04zM49 31h1.04v1.04h-1.04zM24 36h1.04v1.04h-1.04zM14 41h1.04v1.04h-1.04zM19 46h1.04v1.04h-1.04zM34 46h1.04v1.04h-1.04z"/>
<path fill="#909090" d="M14 1h1.04v1.04h-1.04zM24 1h1.04v1.04h-1.04zM44 1h1.04v1.04h-1.04zM9 6h1.04v1.04h-1.04zM34 11h1.04v1.04h-1.04zM9 16h1.04v1.04h-1.04zM19 16h1.04v1.04h-1.04zM49 16h1.04v1.04h-1.04zM24 21h1.04v1.04h-1.04zM14 26h1.04v1.04h-1.04zM24 26h1.04v1.04h-1.04zM9 36h1.04v1.04h-1.04zM44 36h1.04v1.04h-1.04zM4 41h1.04v1.04h-1.04zM9 41h1.04v1.04h-1.04zM24 41h1.04v1.04h-1.04zM29 41h1.04v1.04h-1.04zM4 46h1.04v1.04h-1.04zM14 46h1.04v1.04h-1.04zM39 46h1.04v1.04h-1.04z"/>
<path fill="#6c6c6c" d="M15 1h1.04v1.04h-1.04zM40 1h1.04v1.04h-1.04zM24 5h1.04v1.04h-1.04zM29 5h1.04v1.04h-1.04zM49 5h1.04v1.04h-1.04zM5 6h1.04v1.04h-1.04zM23 6h1.04v1.04h-1.04zM35 6h1.04v1.04h-1.04zM24 10h1.04v1.04h-1.04zM39 10h1.04v1.04h-1.04zM33 11h1.04v1.04h-1.04zM45 11h1.04v1.04h-1.04zM14 15h1.04v1.04h-1.04zM34 15h1.04v1.04h-1.04zM44 15h1.04v1.04h-1.04zM0 16h1.04v1.04h-1.04zM25 16h1.04v1.04h-1.04zM0 21h1.04v1.04h-1.04zM14 25h1.04v1.04h-1.04zM10 26h1.04v1.04h-1.04zM20 26h1.04v1.04h-1.04zM43 26h1.04v1.04h-1.04zM14 30h1.04v1.04h-1.04zM34 30h1.04v1.04h-1.04zM0 31h1.04v1.04h-1.04zM13 31h1.04v1.04h-1.04zM24 35h1.04v1.04h-1.04zM29 35h1.04v1.04h-1.04zM39 35h1.04v1.04h-1.04zM3 36h1.04v1.04h-1.04zM5 36h1.04v1.04h-1.04zM13 36h1.04v1.04h-1.04zM15 36h1.04v1.04h-1.04zM34 40h1.04v1.04h-1.04zM44 40h1.04v1.04h-1.04zM25 41h1.04v1.04h-1.04zM30 41h1.04v1.04h-1.04zM35 41h1.04v1.04h-1.04zM38 41h1.04v1.04h-1.04zM14 45h1.04v1.04h-1.04zM49 45h1.04v1.04h-1.04zM10 46h1.04v1.04h-1.04zM35 46h1.04v1.04h-1.04zM40 46h1.04v1.04h-1.04zM50 46h1.04v1.04h-1.04zM39 50h1.04v1.04h-1.04z"/>
<path fill="#8d8d8d" d="M19 1h1.04v1.04h-1.04zM29 1h1.04v1.04h-1.04zM34 1h1.04v1.04h-1.04zM49 1h1.04v1.04h-1.04zM24 6h1.04v1.04h-1.04zM29 6h1.04v1.04h-1.04zM34 6h1.04v1.04h-1.04zM39 6h1.04v1.04h-1.04zM39 11h1.04v1.04h-1.04zM44 11h1.04v1.04h-1.04zM49 11h1.04v1.04h-1.04zM4 16h1.04v1.04h-1.04zM24 16h1.04v1.04h-1.04zM9 21h1.04v1.04h-1.04zM19 21h1.04v1.04h-1.04zM39 21h1.04v1.04h-1.04zM44 21h1.04v1.04h-1.04zM44 26h1.04v1.04h-1.04zM4 31h1.04v1.04h-1.04zM19 31h1.04v1.04h-1.04zM4 36h1.04v1.04h-1.04zM19 36h1.04v1.04h-1.04zM39 36h1.04v1.04h-1.04zM19 41h1.04v1.04h-1.04zM49 41h1.04v1.04h-1.04zM9 46h1.04v1.04h-1.04zM24 46h1.04v1.04h-1.04z"/>
<path fill="#454545" d="M0 2h1.04v1.04h-1.04zM13 2h1.04v1.04h-1.04zM20 2h1.04v1.04h-1.04zM23 2h1.04v1.04h-1.04zM25 2h1.04v1.04h-1.04zM30 2h1.04v1.04h-1.04zM35 2h1.04v1.04h-1.04zM45 2h1.04v1.04h-1.04zM8 7h1.04v1.04h-1.04zM10 7h1.04v1.04h-1.04zM23 7h1.04v1.04h-1.04zM43 7h1.04v1.04h-1.04zM15 12h1.04v1.04h-1.04zM40 12h1.04v1.04h-1.04zM50 12h1.04v1.04h-1.04zM5 17h1.04v1.04h-1.04zM8 17h1.04v1.04h-1.04zM18 17h1.04v1.04h-1.04zM40 17h1.04v1.04h-1.04zM50 17h1.04v1.04h-1.04zM13 22h1.04v1.04h-1.04zM15 22h1.04v1.04h-1.04zM33 22h1.04v1.04h-1.04zM40 22h1.04v1.04h-1.04zM13 27h1.04v1.04h-1.04zM25 27h1.04v1.04h-1.04zM33 27h1.04v1.04h-1.04zM48 27h1.04v1.04h-1.04zM5 32h1.04v1.04h-1.04zM10 32h1.04v1.04h-1.04zM0 37h1.04v1.04h-1.04zM15 37h1.04v1.04h-1.04zM18 37h1.04v1.04h-1.04zM25 37h1.04v1.04h-1.04zM33 37h1.04v1.04h-1.04zM43 37h1.04v1.04h-1.04zM48 37h1.04v1.04h-1.04zM50 37h1.04v1.04h-1.04zM28 42h1.04v1.04h-1.04zM35 42h1.04v1.04h-1.04zM45 42h1.04v1.04h-1.04zM0 47h1.04v1.04h-1.04zM10 47h1.04v1.04h-1.04zM20 47h1.04v1.04h-1.04zM33 47h1.04v1.04h-1.04zM43 47h1.04v1.04h-1.04zM45 47h1.04v1.04h-1.04zM48 47h1.04v1.04h-1.04z"/>
<path fill="#484848" d="M3 2h1.04v1.04h-1.04zM5 2h1.04v1.04h-1.04zM18 2h1.04v1.04h-1.04zM38 2h1.04v1.04h-1.04zM0 7h1.04v1.04h-1.04zM3 7h1.04v1.04h-1.04zM28 7h1.04v1.04h-1.04zM35 7h1.04v1.04h-1.04zM40 7h1.04v1.04h-1.04zM45 7h1.04v1.04h-1.04zM0 12h1.04v1.04h-1.04zM3 12h1.04v1.04h-1.04zM8 12h1.04v1.04h-1.04zM10 12h1.04v1.04h-1.04zM13 12h1.04v1.04h-1.04zM20 12h1.04v1.04h-1.04zM23 12h1.04v1.04h-1.04zM48 12h1.04v1.04h-1.04zM23 17h1.04v1.04h-1.04zM30 17h1.04v1.04h-1.04zM33 17h1.04v1.04h-1.04zM35 17h1.04v1.04h-1.04zM45 17h1.04v1.04h-1.04zM0 22h1.04v1.04h-1.04zM23 22h1.04v1.04h-1.04zM50 22h1.04v1.04h-1.04zM15 27h1.04v1.04h-1.04zM18 27h1.04v1.04h-1.04zM20 27h1.04v1.04h-1.04zM23 27h1.04v1.04h-1.04zM50 27h1.04v1.04h-1.04zM0 32h1.04v1.04h-1.04zM8 32h1.04v1.04h-1.04zM15 32h1.04v1.04h-1.04zM23 37h1.04v1.04h-1.04zM45 37h1.04v1.04h-1.04zM0 42h1.04v1.04h-1.04zM13 42h1.04v1.04h-1.04zM23 42h1.04v1.04h-1.04zM25 42h1.04v1.04h-1.04zM38 42h1.04v1.04h-1.04zM48 42h1.04v1.04h-1.04zM5 47h1.04v1.04h-1.04zM13 47h1.04v1.04h-1.04zM15 47h1.04v1.04h-1.04zM25 47h1.04v1.04h-1.04zM40 47h1.04v1.04h-1.04z"/>
<path fill="#4e4e4e" d="M4 2h1.04v1.04h-1.04zM15 2h1.04v1.04h-1.04zM29 2h1.04v1.04h-1.04zM33 2h1.04v1.04h-1.04zM39 2h1.04v1.04h-1.04zM40 2h1.04v1.04h-1.04zM44 2h1.04v1.04h-1.04zM48 2h1.04v1.04h-1.04zM49 2h1.04v1.04h-1.04zM4 7h1.04v1.04h-1.04zM9 7h1.04v1.04h-1.04zM13 7h1.04v1.04h-1.04zM30 7h1.04v1.04h-1.04zM33 7h1.04v1.04h-1.04zM48 7h1.04v1.04h-1.04zM5 12h1.04v1.04h-1.04zM18 12h1.04v1.04h-1.04zM25 12h1.04v1.04h-1.04zM43 12h1.04v1.04h-1.04zM45 12h1.04v1.04h-1.04zM0 17h1.04v1.04h-1.04zM28 17h1.04v1.04h-1.04zM48 17h1.04v1.04h-1.04zM3 22h1.04v1.04h-1.04zM5 22h1.04v1.04h-1.04zM8 22h1.04v1.04h-1.04zM10 22h1.04v1.04h-1.04zM18 22h1.04v1.04h-1.04zM20 22h1.04v1.04h-1.04zM30 22h1.04v1.04h-1.04zM38 22h1.04v1.04h-1.04zM43 22h1.04v1.04h-1.04zM48 22h1.04v1.04h-1.04zM5 27h1.04v1.04h-1.04zM10 27h1.04v1.04h-1.04zM19 27h1.04v1.04h-1.04zM30 27h1.04v1.04h-1.04zM35 27h1.04v1.04h-1.04zM43 27h1.04v1.04h-1.04zM3 32h1.04v1.04h-1.04zM25 32h1.04v1.04h-1.04zM33 32h1.04v1.04h-1.04zM35 32h1.04v1.04h-1.04zM38 32h1.04v1.04h-1.04zM45 32h1.04v1.04h-1.04zM48 32h1.04v1.04h-1.04zM3 37h1.04v1.04h-1.04zM4 37h1.04v1.04h-1.04zM5 37h1.04v1.04h-1.04zM8 37h1.04v1.04h-1.04zM13 37h1.04v1.04h-1.04zM28 37h1.04v1.04h-1.04zM30 37h1.04v1.04h-1.04zM44 37h1.04v1.04h-1.04zM3 42h1.04v1.04h-1.04zM15 42h1.04v1.04h-1.04zM20 42h1.04v1.04h-1.04zM24 42h1.04v1.04h-1.04zM3 47h1.04v1.04h-1.04zM38 47h1.04v1.04h-1.04zM39 47h1.04v1.04h-1.04z"/>
<path fill="#515151" d="M8 2h1.04v1.04h-1.04zM24 2h1.04v1.04h-1.04zM14 7h1.04v1.04h-1.04zM19 7h1.04v1.04h-1.04zM25 7h1.04v1.04h-1.04zM19 12h1.04v1.04h-1.04zM30 12h1.04v1.04h-1.04zM34 12h1.04v1.04h-1.04zM35 12h1.04v1.04h-1.04zM38 12h1.04v1.04h-1.04zM39 12h1.04v1.04h-1.04zM9 17h1.04v1.04h-1.04zM14 17h1.04v1.04h-1.04zM38 17h1.04v1.04h-1.04zM39 17h1.04v1.04h-1.04zM14 22h1.04v1.04h-1.04zM28 22h1.04v1.04h-1.04zM29 22h1.04v1.04h-1.04zM35 22h1.04v1.04h-1.04zM39 22h1.04v1.04h-1.04zM45 22h1.04v1.04h-1.04zM8 27h1.04v1.04h-1.04zM9 27h1.04v1.04h-1.04zM24 27h1.04v1.04h-1.04zM29 27h1.04v1.04h-1.04zM39 27h1.04v1.04h-1.04zM40 27h1.04v1.04h-1.04zM18 32h1.04v1.04h-1.04zM23 32h1.04v1.04h-1.04zM28 32h1.04v1.04h-1.04zM34 32h1.04v1.04h-1.04zM39 32h1.04v1.04h-1.04zM14 37h1.04v1.04h-1.04zM19 37h1.04v1.04h-1.04zM29 37h1.04v1.04h-1.04zM35 37h1.04v1.04h-1.04zM8 42h1.04v1.04h-1.04zM9 42h1.04v1.04h-1.04zM18 42h1.04v1.04h-1.04zM29 42h1.04v1.04h-1.04zM33 42h1.04v1.04h-1.04zM14 47h1.04v1.04h-1.04zM19 47h1.04v1.04h-1.04zM23 47h1.04v1.04h-1.04zM24 47h1.04v1.04h-1.04zM44 47h1.04v1.04h-1.04zM49 47h1.04v1.04h-1.04z"/>
<path fill="#4b4b4b" d="M10 2h1.04v1.04h-1.04zM43 2h1.04v1.04h-1.04zM5 7h1.04v1.04h-1.04zM15 7h1.04v1.04h-1.04zM38 7h1.04v1.04h-1.04zM50 7h1.04v1.04h-1.04zM3 17h1.04v1.04h-1.04zM10 17h1.04v1.04h-1.04zM15 17h1.04v1.04h-1.04zM20 17h1.04v1.04h-1.04zM25 17h1.04v1.04h-1.04zM25 22h1.04v1.04h-1.04zM0 27h1.04v1.04h-1.04zM3 27h1.04v1.04h-1.04zM28 27h1.04v1.04h-1.04zM38 27h1.04v1.04h-1.04zM45 27h1.04v1.04h-1.04zM13 32h1.04v1.04h-1.04zM20 32h1.04v1.04h-1.04zM30 32h1.04v1.04h-1.04zM43 32h1.04v1.04h-1.04zM50 32h1.04v1.04h-1.04zM20 37h1.04v1.04h-1.04zM38 37h1.04v1.04h-1.04zM5 42h1.04v1.04h-1.04zM10 42h1.04v1.04h-1.04zM30 42h1.04v1.04h-1.04zM43 42h1.04v1.04h-1.04zM50 42h1.04v1.04h-1.04zM8 47h1.04v1.04h-1.04zM18 47h1.04v1.04h-1.04zM28 47h1.04v1.04h-1.04zM35 47h1.04v1.04h-1.04zM50 47h1.04v1.04h-1.04z"/>
<path fill="#424242" d="M28 2h1.04v1.04h-1.04zM50 2h1.04v1.04h-1.04zM18 7h1.04v1.04h-1.04zM20 7h1.04v1.04h-1.04zM28 12h1.04v1.04h-1.04zM33 12h1.04v1.04h-1.04zM13 17h1.04v1.04h-1.04zM43 17h1.04v1.04h-1.04zM40 32h1.04v1.04h-1.04zM10 37h1.04v1.04h-1.04zM40 37h1.04v1.04h-1.04zM40 42h1.04v1.04h-1.04z"/>
<path fill="#1b1b1b" d="M1 3h1.04v1.04h-1.04zM4 3h1.04v1.04h-1.04zM7 3h1.04v1.04h-1.04zM9 3h1.04v1.04h-1.04zM10 3h1.04v1.04h-1.04zM12 3h1.04v1.04h-1.04zM15 3h1.04v1.04h-1.04zM17 3h1.04v1.04h-1.04zM21 3h1.04v1.04h-1.04zM22 3h1.04v1.04h-1.04zM23 3h1.04v1.04h-1.04zM25 3h1.04v1.04h-1.04zM28 3h1.04v1.04h-1.04zM29 3h1.04v1.04h-1.04zM32 3h1.04v1.04h-1.04zM38 3h1.04v1.04h-1.04zM39 3h1.04v1.04h-1.04zM40 3h1.04v1.04h-1.04zM41 3h1.04v1.04h-1.04zM42 3h1.04v1.04h-1.04zM46 3h1.04v1.04h-1.04zM1 4h1.04v1.04h-1.04zM4 4h1.04v1.04h-1.04zM8 4h1.04v1.04h-1.04zM13 4h1.04v1.04h-1.04zM17 4h1.04v1.04h-1.04zM20 4h1.04v1.04h-1.04zM21 4h1.04v1.04h-1.04zM23 4h1.04v1.04h-1.04zM26 4h1.04v1.04h-1.04zM33 4h1.04v1.04h-1.04zM34 4h1.04v1.04h-1.04zM37 4h1.04v1.04h-1.04zM38 4h1.04v1.04h-1.04zM40 4h1.04v1.04h-1.04zM41 4h1.04v1.04h-1.04zM42 4h1.04v1.04h-1.04zM46 4h1.04v1.04h-1.04zM47 4h1.04v1.04h-1.04zM49 4h1.04v1.04h-1.04zM0 8h1.04v1.04h-1.04zM4 8h1.04v1.04h-1.04zM10 8h1.04v1.04h-1.04zM13 8h1.04v1.04h-1.04zM14 8h1.04v1.04h-1.04zM15 8h1.04v1.04h-1.04zM16 8h1.04v1.04h-1.04zM17 8h1.04v1.04h-1.04zM18 8h1.04v1.04h-1.04zM20 8h1.04v1.04h-1.04zM23 8h1.04v1.04h-1.04zM24 8h1.04v1.04h-1.04zM25 8h1.04v1.04h-1.04zM31 8h1.04v1.04h-1.04zM32 8h1.04v1.04h-1.04zM34 8h1.04v1.04h-1.04zM35 8h1.04v1.04h-1.04zM40 8h1.04v1.04h-1.04zM41 8h1.04v1.04h-1.04zM42 8h1.04v1.04h-1.04zM47 8h1.04v1.04h-1.04zM1 9h1.04v1.04h-1.04zM2 9h1.04v1.04h-1.04zM5 9h1.04v1.04h-1.04zM8 9h1.04v1.04h-1.04zM9 9h1.04v1.04h-1.04zM11 9h1.04v1.04h-1.04zM12 9h1.04v1.04h-1.04zM17 9h1.04v1.04h-1.04zM21 9h1.04v1.04h-1.04zM24 9h1.04v1.04h-1.04zM25 9h1.04v1.04h-1.04zM27 9h1.04v1.04h-1.04zM28 9h1.04v1.04h-1.04zM31 9h1.04v1.04h-1.04zM36 9h1.04v1.04h-1.04zM37 9h1.04v1.04h-1.04zM38 9h1.04v1.04h-1.04zM39 9h1.04v1.04h-1.04zM40 9h1.04v1.04h-1.04zM41 9h1.04v1.04h-1.04zM44 9h1.04v1.04h-1.04zM45 9h1.04v1.04h-1.04zM47 9h1.04v1.04h-1.04zM50 9h1.04v1.04h-1.04zM4 13h1.04v1.04h-1.04zM5 13h1.04v1.04h-1.04zM7 13h1.04v1.04h-1.04zM9 13h1.04v1.04h-1.04zM10 13h1.04v1.04h-1.04zM11 13h1.04v1.04h-1.04zM12 13h1.04v1.04h-1.04zM13 13h1.04v1.04h-1.04zM14 13h1.04v1.04h-1.04zM21 13h1.04v1.04h-1.04zM22 13h1.04v1.04h-1.04zM23 13h1.04v1.04h-1.04zM24 13h1.04v1.04h-1.04zM26 13h1.04v1.04h-1.04zM28 13h1.04v1.04h-1.04zM31 13h1.04v1.04h-1.04zM35 13h1.04v1.04h-1.04zM40 13h1.04v1.04h-1.04zM41 13h1.04v1.04h-1.04zM42 13h1.04v1.04h-1.04zM44 13h1.04v1.04h-1.04zM47 13h1.04v1.04h-1.04zM48 13h1.04v1.04h-1.04zM49 13h1.04v1.04h-1.04zM0 14h1.04v1.04h-1.04zM2 14h1.04v1.04h-1.04zM3 14h1.04v1.04h-1.04zM4 14h1.04v1.04h-1.04zM6 14h1.04v1.04h-1.04zM8 14h1.04v1.04h-1.04zM9 14h1.04v1.04h-1.04zM10 14h1.04v1.04h-1.04zM13 14h1.04v1.04h-1.04zM14 14h1.04v1.04h-1.04zM15 14h1.04v1.04h-1.04zM16 14h1.04v1.04h-1.04zM17 14h1.04v1.04h-1.04zM25 14h1.04v1.04h-1.04zM26 14h1.04v1.04h-1.04zM28 14h1.04v1.04h-1.04zM29 14h1.04v1.04h-1.04zM30 14h1.04v1.04h-1.04zM33 14h1.04v1.04h-1.04zM35 14h1.04v1.04h-1.04zM38 14h1.04v1.04h-1.04zM41 14h1.04v1.04h-1.04zM44 14h1.04v1.04h-1.04zM49 14h1.04v1.04h-1.04zM50 14h1.04v1.04h-1.04zM0 18h1.04v1.04h-1.04zM1 18h1.04v1.04h-1.04zM2 18h1.04v1.04h-1.04zM4 18h1.04v1.04h-1.04zM7 18h1.04v1.04h-1.04zM8 18h1.04v1.04h-1.04zM9 18h1.04v1.04h-1.04zM23 18h1.04v1.04h-1.04zM26 18h1.04v1.04h-1.04zM29 18h1.04v1.04h-1.04zM30 18h1.04v1.04h-1.04zM31 18h1.04v1.04h-1.04zM32 18h1.04v1.04h-1.04zM33 18h1.04v1.04h-1.04zM34 18h1.04v1.04h-1.04zM35 18h1.04v1.04h-1.04zM36 18h1.04v1.04h-1.04zM38 18h1.04v1.04h-1.04zM39 18h1.04v1.04h-1.04zM41 18h1.04v1.04h-1.04zM45 18h1.04v1.04h-1.04zM46 18h1.04v1.04h-1.04zM0 19h1.04v1.04h-1.04zM1 19h1.04v1.04h-1.04zM2 19h1.04v1.04h-1.04zM6 19h1.04v1.04h-1.04zM10 19h1.04v1.04h-1.04zM11 19h1.04v1.04h-1.04zM12 19h1.04v1.04h-1.04zM14 19h1.04v1.04h-1.04zM19 19h1.04v1.04h-1.04zM21 19h1.04v1.04h-1.04zM24 19h1.04v1.04h-1.04zM26 19h1.04v1.04h-1.04zM27 19h1.04v1.04h-1.04zM28 19h1.04v1.04h-1.04zM30 19h1.04v1.04h-1.04zM36 19h1.04v1.04h-1.04zM41 19h1.04v1.04h-1.04zM45 19h1.04v1.04h-1.04zM47 19h1.04v1.04h-1.04zM48 19h1.04v1.04h-1.04zM50 19h1.04v1.04h-1.04zM1 23h1.04v1.04h-1.04zM3 23h1.04v1.04h-1.04zM5 23h1.04v1.04h-1.04zM6 23h1.04v1.04h-1.04zM8 23h1.04v1.04h-1.04zM9 23h1.04v1.04h-1.04zM13 23h1.04v1.04h-1.04zM14 23h1.04v1.04h-1.04zM16 23h1.04v1.04h-1.04zM17 23h1.04v1.04h-1.04zM19 23h1.04v1.04h-1.04zM22 23h1.04v1.04h-1.04zM25 23h1.04v1.04h-1.04zM26 23h1.04v1.04h-1.04zM27 23h1.04v1.04h-1.04zM29 23h1.04v1.04h-1.04zM30 23h1.04v1.04h-1.04zM36 23h1.04v1.04h-1.04zM37 23h1.04v1.04h-1.04zM38 23h1.04v1.04h-1.04zM39 23h1.04v1.04h-1.04zM40 23h1.04v1.04h-1.04zM41 23h1.04v1.04h-1.04zM43 23h1.04v1.04h-1.04zM45 23h1.04v1.04h-1.04zM49 23h1.04v1.04h-1.04zM50 23h1.04v1.04h-1.04zM1 24h1.04v1.04h-1.04zM2 24h1.04v1.04h-1.04zM4 24h1.04v1.04h-1.04zM5 24h1.04v1.04h-1.04zM6 24h1.04v1.04h-1.04zM7 24h1.04v1.04h-1.04zM8 24h1.04v1.04h-1.04zM12 24h1.04v1.04h-1.04zM13 24h1.04v1.04h-1.04zM15 24h1.04v1.04h-1.04zM20 24h1.04v1.04h-1.04zM21 24h1.04v1.04h-1.04zM22 24h1.04v1.04h-1.04zM24 24h1.04v1.04h-1.04zM27 24h1.04v1.04h-1.04zM28 24h1.04v1.04h-1.04zM30 24h1.04v1.04h-1.04zM32 24h1.04v1.04h-1.04zM34 24h1.04v1.04h-1.04zM37 24h1.04v1.04h-1.04zM43 24h1.04v1.04h-1.04zM45 24h1.04v1.04h-1.04zM46 24h1.04v1.04h-1.04zM48 24h1.04v1.04h-1.04zM49 24h1.04v1.04h-1.04zM3 28h1.04v1.04h-1.04zM5 28h1.04v1.04h-1.04zM7 28h1.04v1.04h-1.04zM8 28h1.04v1.04h-1.04zM9 28h1.04v1.04h-1.04zM10 28h1.04v1.04h-1.04zM11 28h1.04v1.04h-1.04zM12 28h1.04v1.04h-1.04zM15 28h1.04v1.04h-1.04zM17 28h1.04v1.04h-1.04zM18 28h1.04v1.04h-1.04zM21 28h1.04v1.04h-1.04zM25 28h1.04v1.04h-1.04zM29 28h1.04v1.04h-1.04zM30 28h1.04v1.04h-1.04zM34 28h1.04v1.04h-1.04zM35 28h1.04v1.04h-1.04zM36 28h1.04v1.04h-1.04zM37 28h1.04v1.04h-1.04zM38 28h1.04v1.04h-1.04zM41 28h1.04v1.04h-1.04zM42 28h1.04v1.04h-1.04zM47 28h1.04v1.04h-1.04zM1 29h1.04v1.04h-1.04zM3 29h1.04v1.04h-1.04zM4 29h1.04v1.04h-1.04zM7 29h1.04v1.04h-1.04zM8 29h1.04v1.04h-1.04zM11 29h1.04v1.04h-1.04zM12 29h1.04v1.04h-1.04zM13 29h1.04v1.04h-1.04zM16 29h1.04v1.04h-1.04zM17 29h1.04v1.04h-1.04zM19 29h1.04v1.04h-1.04zM25 29h1.04v1.04h-1.04zM26 29h1.04v1.04h-1.04zM27 29h1.04v1.04h-1.04zM29 29h1.04v1.04h-1.04zM31 29h1.04v1.04h-1.04zM32 29h1.04v1.04h-1.04zM34 29h1.04v1.04h-1.04zM36 29h1.04v1.04h-1.04zM39 29h1.04v1.04h-1.04zM41 29h1.04v1.04h-1.04zM42 29h1.04v1.04h-1.04zM43 29h1.04v1.04h-1.04zM46 29h1.04v1.04h-1.04zM47 29h1.04v1.04h-1.04zM48 29h1.04v1.04h-1.04zM50 29h1.04v1.04h-1.04zM0 33h1.04v1.04h-1.04zM1 33h1.04v1.04h-1.04zM2 33h1.04v1.04h-1.04zM5 33h1.04v1.04h-1.04zM7 33h1.04v1.04h-1.04zM9 33h1.04v1.04h-1.04zM22 33h1.04v1.04h-1.04zM24 33h1.04v1.04h-1.04zM26 33h1.04v1.04h-1.04zM27 33h1.04v1.04h-1.04zM33 33h1.04v1.04h-1.04zM35 33h1.04v1.04h-1.04zM36 33h1.04v1.04h-1.04zM39 33h1.04v1.04h-1.04zM40 33h1.04v1.04h-1.04zM43 33h1.04v1.04h-1.04zM47 33h1.04v1.04h-1.04zM48 33h1.04v1.04h-1.04zM50 33h1.04v1.04h-1.04zM0 34h1.04v1.04h-1.04zM2 34h1.04v1.04h-1.04zM5 34h1.04v1.04h-1.04zM6 34h1.04v1.04h-1.04zM7 34h1.04v1.04h-1.04zM13 34h1.04v1.04h-1.04zM14 34h1.04v1.04h-1.04zM15 34h1.04v1.04h-1.04zM22 34h1.04v1.04h-1.04zM23 34h1.04v1.04h-1.04zM25 34h1.04v1.04h-1.04zM28 34h1.04v1.04h-1.04zM32 34h1.04v1.04h-1.04zM33 34h1.04v1.04h-1.04zM35 34h1.04v1.04h-1.04zM38 34h1.04v1.04h-1.04zM39 34h1.04v1.04h-1.04zM40 34h1.04v1.04h-1.04zM42 34h1.04v1.04h-1.04zM45 34h1.04v1.04h-1.04zM46 34h1.04v1.04h-1.04zM47 34h1.04v1.04h-1.04zM50 34h1.04v1.04h-1.04zM0 38h1.04v1.04h-1.04zM1 38h1.04v1.04h-1.04zM2 38h1.04v1.04h-1.04zM5 38h1.04v1.04h-1.04zM6 38h1.04v1.04h-1.04zM7 38h1.04v1.04h-1.04zM8 38h1.04v1.04h-1.04zM9 38h1.04v1.04h-1.04zM11 38h1.04v1.04h-1.04zM13 38h1.04v1.04h-1.04zM14 38h1.04v1.04h-1.04zM15 38h1.04v1.04h-1.04zM16 38h1.04v1.04h-1.04zM17 38h1.04v1.04h-1.04zM18 38h1.04v1.04h-1.04zM22 38h1.04v1.04h-1.04zM24 38h1.04v1.04h-1.04zM26 38h1.04v1.04h-1.04zM27 38h1.04v1.04h-1.04zM28 38h1.04v1.04h-1.04zM33 38h1.04v1.04h-1.04zM36 38h1.04v1.04h-1.04zM37 38h1.04v1.04h-1.04zM40 38h1.04v1.04h-1.04zM41 38h1.04v1.04h-1.04zM44 38h1.04v1.04h-1.04zM46 38h1.04v1.04h-1.04zM49 38h1.04v1.04h-1.04zM6 39h1.04v1.04h-1.04zM7 39h1.04v1.04h-1.04zM10 39h1.04v1.04h-1.04zM11 39h1.04v1.04h-1.04zM14 39h1.04v1.04h-1.04zM17 39h1.04v1.04h-1.04zM18 39h1.04v1.04h-1.04zM23 39h1.04v1.04h-1.04zM25 39h1.04v1.04h-1.04zM26 39h1.04v1.04h-1.04zM29 39h1.04v1.04h-1.04zM31 39h1.04v1.04h-1.04zM33 39h1.04v1.04h-1.04zM34 39h1.04v1.04h-1.04zM35 39h1.04v1.04h-1.04zM38 39h1.04v1.04h-1.04zM39 39h1.04v1.04h-1.04zM41 39h1.04v1.04h-1.04zM42 39h1.04v1.04h-1.04zM45 39h1.04v1.04h-1.04zM46 39h1.04v1.04h-1.04zM47 39h1.04v1.04h-1.04zM1 43h1.04v1.04h-1.04zM3 43h1.04v1.04h-1.04zM4 43h1.04v1.04h-1.04zM8 43h1.04v1.04h-1.04zM11 43h1.04v1.04h-1.04zM12 43h1.04v1.04h-1.04zM13 43h1.04v1.04h-1.04zM14 43h1.04v1.04h-1.04zM17 43h1.04v1.04h-1.04zM18 43h1.04v1.04h-1.04zM19 43h1.04v1.04h-1.04zM20 43h1.04v1.04h-1.04zM22 43h1.04v1.04h-1.04zM24 43h1.04v1.04h-1.04zM31 43h1.04v1.04h-1.04zM32 43h1.04v1.04h-1.04zM33 43h1.04v1.04h-1.04zM34 43h1.04v1.04h-1.04zM36 43h1.04v1.04h-1.04zM40 43h1.04v1.04h-1.04zM41 43h1.04v1.04h-1.04zM45 43h1.04v1.04h-1.04zM47 43h1.04v1.04h-1.04zM48 43h1.04v1.04h-1.04zM49 43h1.04v1.04h-1.04zM1 44h1.04v1.04h-1.04zM3 44h1.04v1.04h-1.04zM4 44h1.04v1.04h-1.04zM5 44h1.04v1.04h-1.04zM9 44h1.04v1.04h-1.04zM13 44h1.04v1.04h-1.04zM14 44h1.04v1.04h-1.04zM18 44h1.04v1.04h-1.04zM19 44h1.04v1.04h-1.04zM20 44h1.04v1.04h-1.04zM22 44h1.04v1.04h-1.04zM23 44h1.04v1.04h-1.04zM24 44h1.04v1.04h-1.04zM29 44h1.04v1.04h-1.04zM31 44h1.04v1.04h-1.04zM32 44h1.04v1.04h-1.04zM33 44h1.04v1.04h-1.04zM34 44h1.04v1.04h-1.04zM38 44h1.04v1.04h-1.04zM42 44h1.04v1.04h-1.04zM43 44h1.04v1.04h-1.04zM45 44h1.04v1.04h-1.04zM46 44h1.04v1.04h-1.04zM47 44h1.04v1.04h-1.04zM48 44h1.04v1.04h-1.04zM49 44h1.04v1.04h-1.04zM0 48h1.04v1.04h-1.04zM3 48h1.04v1.04h-1.04zM7 48h1.04v1.04h-1.04zM10 48h1.04v1.04h-1.04zM11 48h1.04v1.04h-1.04zM12 48h1.04v1.04h-1.04zM13 48h1.04v1.04h-1.04zM15 48h1.04v1.04h-1.04zM17 48h1.04v1.04h-1.04zM23 48h1.04v1.04h-1.04zM24 48h1.04v1.04h-1.04zM26 48h1.04v1.04h-1.04zM28 48h1.04v1.04h-1.04zM39 48h1.04v1.04h-1.04zM40 48h1.04v1.04h-1.04zM41 48h1.04v1.04h-1.04zM44 48h1.04v1.04h-1.04zM45 48h1.04v1.04h-1.04zM46 48h1.04v1.04h-1.04zM47 48h1.04v1.04h-1.04zM1 49h1.04v1.04h-1.04zM2 49h1.04v1.04h-1.04zM3 49h1.04v1.04h-1.04zM4 49h1.04v1.04h-1.04zM7 49h1.04v1.04h-1.04zM8 49h1.04v1.04h-1.04zM14 49h1.04v1.04h-1.04zM17 49h1.04v1.04h-1.04zM22 49h1.04v1.04h-1.04zM25 49h1.04v1.04h-1.04zM26 49h1.04v1.04h-1.04zM27 49h1.04v1.04h-1.04zM30 49h1.04v1.04h-1.04zM32 49h1.04v1.04h-1.04zM34 49h1.04v1.04h-1.04zM35 49h1.04v1.04h-1.04zM41 49h1.04v1.04h-1.04zM47 49h1.04v1.04h-1.04zM49 49h1.04v1.04h-1.04z"/>
<path fill="#181818" d="M2 3h1.04v1.04h-1.04zM11 3h1.04v1.04h-1.04zM16 3h1.04v1.04h-1.04zM26 3h1.04v1.04h-1.04zM27 3h1.04v1.04h-1.04zM36 3h1.04v1.04h-1.04zM37 3h1.04v1.04h-1.04zM47 3h1.04v1.04h-1.04zM2 4h1.04v1.04h-1.04zM7 4h1.04v1.04h-1.04zM11 4h1.04v1.04h-1.04zM12 4h1.04v1.04h-1.04zM16 4h1.04v1.04h-1.04zM22 4h1.04v1.04h-1.04zM31 4h1.04v1.04h-1.04zM32 4h1.04v1.04h-1.04zM36 4h1.04v1.04h-1.04zM1 8h1.04v1.04h-1.04zM2 8h1.04v1.04h-1.04zM6 8h1.04v1.04h-1.04zM12 8h1.04v1.04h-1.04zM21 8h1.04v1.04h-1.04zM22 8h1.04v1.04h-1.04zM26 8h1.04v1.04h-1.04zM27 8h1.04v1.04h-1.04zM37 8h1.04v1.04h-1.04zM46 8h1.04v1.04h-1.04zM6 9h1.04v1.04h-1.04zM7 9h1.04v1.04h-1.04zM16 9h1.04v1.04h-1.04zM22 9h1.04v1.04h-1.04zM26 9h1.04v1.04h-1.04zM32 9h1.04v1.04h-1.04zM42 9h1.04v1.04h-1.04zM46 9h1.04v1.04h-1.04zM1 13h1.04v1.04h-1.04zM6 13h1.04v1.04h-1.04zM16 13h1.04v1.04h-1.04zM17 13h1.04v1.04h-1.04zM27 13h1.04v1.04h-1.04zM32 13h1.04v1.04h-1.04zM36 13h1.04v1.04h-1.04zM37 13h1.04v1.04h-1.04zM46 13h1.04v1.04h-1.04zM12 14h1.04v1.04h-1.04zM21 14h1.04v1.04h-1.04zM22 14h1.04v1.04h-1.04zM27 14h1.04v1.04h-1.04zM31 14h1.04v1.04h-1.04zM32 14h1.04v1.04h-1.04zM37 14h1.04v1.04h-1.04zM42 14h1.04v1.04h-1.04zM46 14h1.04v1.04h-1.04zM47 14h1.04v1.04h-1.04zM6 18h1.04v1.04h-1.04zM12 18h1.04v1.04h-1.04zM16 18h1.04v1.04h-1.04zM17 18h1.04v1.04h-1.04zM21 18h1.04v1.04h-1.04zM27 18h1.04v1.04h-1.04zM37 18h1.04v1.04h-1.04zM42 18h1.04v1.04h-1.04zM47 18h1.04v1.04h-1.04zM7 19h1.04v1.04h-1.04zM16 19h1.04v1.04h-1.04zM17 19h1.04v1.04h-1.04zM22 19h1.04v1.04h-1.04zM32 19h1.04v1.04h-1.04zM37 19h1.04v1.04h-1.04zM42 19h1.04v1.04h-1.04zM46 19h1.04v1.04h-1.04zM2 23h1.04v1.04h-1.04zM7 23h1.04v1.04h-1.04zM11 23h1.04v1.04h-1.04zM12 23h1.04v1.04h-1.04zM21 23h1.04v1.04h-1.04zM31 23h1.04v1.04h-1.04zM32 23h1.04v1.04h-1.04zM42 23h1.04v1.04h-1.04zM46 23h1.04v1.04h-1.04zM47 23h1.04v1.04h-1.04zM11 24h1.04v1.04h-1.04zM16 24h1.04v1.04h-1.04zM17 24h1.04v1.04h-1.04zM26 24h1.04v1.04h-1.04zM31 24h1.04v1.04h-1.04zM36 24h1.04v1.04h-1.04zM41 24h1.04v1.04h-1.04zM42 24h1.04v1.04h-1.04zM47 24h1.04v1.04h-1.04zM1 28h1.04v1.04h-1.04zM2 28h1.04v1.04h-1.04zM6 28h1.04v1.04h-1.04zM22 28h1.04v1.04h-1.04zM26 28h1.04v1.04h-1.04zM31 28h1.04v1.04h-1.04zM32 28h1.04v1.04h-1.04zM46 28h1.04v1.04h-1.04zM2 29h1.04v1.04h-1.04zM6 29h1.04v1.04h-1.04zM22 29h1.04v1.04h-1.04zM37 29h1.04v1.04h-1.04zM6 33h1.04v1.04h-1.04zM12 33h1.04v1.04h-1.04zM16 33h1.04v1.04h-1.04zM17 33h1.04v1.04h-1.04zM21 33h1.04v1.04h-1.04zM31 33h1.04v1.04h-1.04zM32 33h1.04v1.04h-1.04zM37 33h1.04v1.04h-1.04zM42 33h1.04v1.04h-1.04zM46 33h1.04v1.04h-1.04zM12 34h1.04v1.04h-1.04zM16 34h1.04v1.04h-1.04zM17 34h1.04v1.04h-1.04zM26 34h1.04v1.04h-1.04zM41 34h1.04v1.04h-1.04zM12 38h1.04v1.04h-1.04zM21 38h1.04v1.04h-1.04zM31 38h1.04v1.04h-1.04zM32 38h1.04v1.04h-1.04zM47 38h1.04v1.04h-1.04zM1 39h1.04v1.04h-1.04zM2 39h1.04v1.04h-1.04zM12 39h1.04v1.04h-1.04zM22 39h1.04v1.04h-1.04zM32 39h1.04v1.04h-1.04zM36 39h1.04v1.04h-1.04zM37 39h1.04v1.04h-1.04zM2 43h1.04v1.04h-1.04zM6 43h1.04v1.04h-1.04zM7 43h1.04v1.04h-1.04zM16 43h1.04v1.04h-1.04zM21 43h1.04v1.04h-1.04zM26 43h1.04v1.04h-1.04zM27 43h1.04v1.04h-1.04zM37 43h1.04v1.04h-1.04zM46 43h1.04v1.04h-1.04zM2 44h1.04v1.04h-1.04zM7 44h1.04v1.04h-1.04zM11 44h1.04v1.04h-1.04zM12 44h1.04v1.04h-1.04zM16 44h1.04v1.04h-1.04zM17 44h1.04v1.04h-1.04zM21 44h1.04v1.04h-1.04zM26 44h1.04v1.04h-1.04zM27 44h1.04v1.04h-1.04zM36 44h1.04v1.04h-1.04zM41 44h1.04v1.04h-1.04zM1 48h1.04v1.04h-1.04zM2 48h1.04v1.04h-1.04zM6 48h1.04v1.04h-1.04zM21 48h1.04v1.04h-1.04zM22 48h1.04v1.04h-1.04zM27 48h1.04v1.04h-1.04zM32 48h1.04v1.04h-1.04zM36 48h1.04v1.04h-1.04zM37 48h1.04v1.04h-1.04zM42 48h1.04v1.04h-1.04zM6 49h1.04v1.04h-1.04zM11 49h1.04v1.04h-1.04zM12 49h1.04v1.04h-1.04zM16 49h1.04v1.04h-1.04zM21 49h1.04v1.04h-1.04zM31 49h1.04v1.04h-1.04zM36 49h1.04v1.04h-1.04zM37 49h1.04v1.04h-1.04zM46 49h1.04v1.04h-1.04z"/>
<path fill="#6f6f6f" d="M19 5h1.04v1.04h-1.04zM34 5h1.04v1.04h-1.04zM44 5h1.04v1.04h-1.04zM4 10h1.04v1.04h-1.04zM44 10h1.04v1.04h-1.04zM19 15h1.04v1.04h-1.04zM24 30h1.04v1.04h-1.04zM39 30h1.04v1.04h-1.04zM49 40h1.04v1.04h-1.04zM29 45h1.04v1.04h-1.04zM44 50h1.04v1.04h-1.04z"/>
<path fill="#999999" d="M4 6h1.04v1.04h-1.04zM29 16h1.04v1.04h-1.04zM34 16h1.04v1.04h-1.04zM39 16h1.04v1.04h-1.04zM44 16h1.04v1.04h-1.04zM34 21h1.04v1.04h-1.04zM24 31h1.04v1.04h-1.04zM44 31h1.04v1.04h-1.04zM14 36h1.04v1.04h-1.04zM29 46h1.04v1.04h-1.04z"/>
<path fill="#8a8a8a" d="M4 21h1.04v1.04h-1.04zM9 31h1.04v1.04h-1.04z"/>
<path fill="#e1e1e1" d="M29 47h1.04v1.04h-1.04z"/>
<path fill="#fafafa" d="M30 47h1.04v1.04h-1.04z"/>
<path fill="#f0f0f0" d="M29 48h1.04v1.04h-1.04z"/>
<path fill="#d7d7d7" d="M30 48h1.04v1.04h-1.04z"/>
</g></svg>
<rect x="124.0" y="264.7" width="161.0" height="161.0" fill="none" stroke="#111" stroke-width="1"/>
<text x="123.70" y="436.00" text-anchor="middle" font-size="8.0" class="t">130</text>
<text x="156.02" y="436.00" text-anchor="middle" font-size="8.0" class="t">140</text>
<text x="188.34" y="436.00" text-anchor="middle" font-size="8.0" class="t">150</text>
<text x="220.66" y="436.00" text-anchor="middle" font-size="8.0" class="t">160</text>
<text x="252.98" y="436.00" text-anchor="middle" font-size="8.0" class="t">170</text>
<text x="285.30" y="436.00" text-anchor="middle" font-size="8.0" class="t">180</text>
<text x="120.20" y="267.50" text-anchor="end" font-size="8.0" class="t">130</text>
<text x="120.20" y="283.60" text-anchor="end" font-size="8.0" class="t">135</text>
<text x="120.20" y="299.70" text-anchor="end" font-size="8.0" class="t">140</text>
<text x="120.20" y="315.80" text-anchor="end" font-size="8.0" class="t">145</text>
<text x="120.20" y="331.90" text-anchor="end" font-size="8.0" class="t">150</text>
<text x="120.20" y="348.00" text-anchor="end" font-size="8.0" class="t">155</text>
<text x="120.20" y="364.10" text-anchor="end" font-size="8.0" class="t">160</text>
<text x="120.20" y="380.20" text-anchor="end" font-size="8.0" class="t">165</text>
<text x="120.20" y="396.30" text-anchor="end" font-size="8.0" class="t">170</text>
<text x="120.20" y="412.40" text-anchor="end" font-size="8.0" class="t">175</text>
<text x="120.20" y="428.50" text-anchor="end" font-size="8.0" class="t">180</text>
<text x="204" y="450.4" text-anchor="middle" class="b" textLength="47.8" lengthAdjust="spacingAndGlyphs">Dimension 1</text>
<text transform="translate(97.6,345.2) rotate(-90)" text-anchor="middle" class="b" textLength="47.8" lengthAdjust="spacingAndGlyphs">Dimension 2</text>
<rect x="300.4" y="263.2" width="17.80000000000001" height="163.0" fill="url(#ggray)"/>
<rect x="300.9" y="263.7" width="16.80000000000001" height="162.0" fill="none" stroke="#333" stroke-width="1.2"/>
<line x1="315.90" y1="277.60" x2="318.20" y2="277.60" stroke="#262626" stroke-width="0.8"/>
<text x="320.00" y="280.20" text-anchor="start" font-size="7.2" class="t">6</text>
<line x1="315.90" y1="303.50" x2="318.20" y2="303.50" stroke="#262626" stroke-width="0.8"/>
<text x="320.00" y="306.10" text-anchor="start" font-size="7.2" class="t">5</text>
<line x1="315.90" y1="329.40" x2="318.20" y2="329.40" stroke="#262626" stroke-width="0.8"/>
<text x="320.00" y="332.00" text-anchor="start" font-size="7.2" class="t">4</text>
<line x1="315.90" y1="355.30" x2="318.20" y2="355.30" stroke="#262626" stroke-width="0.8"/>
<text x="320.00" y="357.90" text-anchor="start" font-size="7.2" class="t">3</text>
<line x1="315.90" y1="381.20" x2="318.20" y2="381.20" stroke="#262626" stroke-width="0.8"/>
<text x="320.00" y="383.80" text-anchor="start" font-size="7.2" class="t">2</text>
<line x1="315.90" y1="407.10" x2="318.20" y2="407.10" stroke="#262626" stroke-width="0.8"/>
<text x="320.00" y="409.70" text-anchor="start" font-size="7.2" class="t">1</text>
<text x="300.0" y="262.2" font-size="7.4" class="t">×10<tspan dy="-2.6" font-size="5.6">4</tspan></text>
<svg x="378.2" y="264.0" width="162.8" height="162.60000000000002" viewBox="130 130 50 50" preserveAspectRatio="none">
<g transform="translate(129.5,129.5)">
<rect x="0" y="0" width="52" height="52" fill="#0761e0"/>
<path fill="#036ae1" d="M0 0h52v3h-52zM0 5h52v3h-52zM0 10h52v3h-52zM0 15h52v3h-52zM0 20h52v3h-52zM0 25h52v3h-52zM0 30h52v3h-52zM0 35h52v3h-52zM0 40h52v3h-52zM0 45h52v3h-52zM0 50h52v3h-52z"/>
<path fill="#0267e1" d="M-2 0h3v52h-3zM3 0h3v52h-3zM8 0h3v52h-3zM13 0h3v52h-3zM18 0h3v52h-3zM23 0h3v52h-3zM28 0h3v52h-3zM33 0h3v52h-3zM38 0h3v52h-3zM43 0h3v52h-3zM48 0h3v52h-3z"/>
<path fill="#0f8fd2" d="M-2 0h3v3h-3zM-2 5h3v3h-3zM-2 10h3v3h-3zM-2 15h3v3h-3zM-2 20h3v3h-3zM-2 25h3v3h-3zM-2 30h3v3h-3zM-2 35h3v3h-3zM-2 40h3v3h-3zM-2 45h3v3h-3zM-2 50h3v3h-3zM3 0h3v3h-3zM3 5h3v3h-3zM3 10h3v3h-3zM3 15h3v3h-3zM3 20h3v3h-3zM3 25h3v3h-3zM3 30h3v3h-3zM3 35h3v3h-3zM3 40h3v3h-3zM3 45h3v3h-3zM3 50h3v3h-3zM8 0h3v3h-3zM8 5h3v3h-3zM8 10h3v3h-3zM8 15h3v3h-3zM8 20h3v3h-3zM8 25h3v3h-3zM8 30h3v3h-3zM8 35h3v3h-3zM8 40h3v3h-3zM8 45h3v3h-3zM8 50h3v3h-3zM13 0h3v3h-3zM13 5h3v3h-3zM13 10h3v3h-3zM13 15h3v3h-3zM13 20h3v3h-3zM13 25h3v3h-3zM13 30h3v3h-3zM13 35h3v3h-3zM13 40h3v3h-3zM13 45h3v3h-3zM13 50h3v3h-3zM18 0h3v3h-3zM18 5h3v3h-3zM18 10h3v3h-3zM18 15h3v3h-3zM18 20h3v3h-3zM18 25h3v3h-3zM18 30h3v3h-3zM18 35h3v3h-3zM18 40h3v3h-3zM18 45h3v3h-3zM18 50h3v3h-3zM23 0h3v3h-3zM23 5h3v3h-3zM23 10h3v3h-3zM23 15h3v3h-3zM23 20h3v3h-3zM23 25h3v3h-3zM23 30h3v3h-3zM23 35h3v3h-3zM23 40h3v3h-3zM23 45h3v3h-3zM23 50h3v3h-3zM28 0h3v3h-3zM28 5h3v3h-3zM28 10h3v3h-3zM28 15h3v3h-3zM28 20h3v3h-3zM28 25h3v3h-3zM28 30h3v3h-3zM28 35h3v3h-3zM28 40h3v3h-3zM28 45h3v3h-3zM28 50h3v3h-3zM33 0h3v3h-3zM33 5h3v3h-3zM33 10h3v3h-3zM33 15h3v3h-3zM33 20h3v3h-3zM33 25h3v3h-3zM33 30h3v3h-3zM33 35h3v3h-3zM33 40h3v3h-3zM33 45h3v3h-3zM33 50h3v3h-3zM38 0h3v3h-3zM38 5h3v3h-3zM38 10h3v3h-3zM38 15h3v3h-3zM38 20h3v3h-3zM38 25h3v3h-3zM38 30h3v3h-3zM38 35h3v3h-3zM38 40h3v3h-3zM38 45h3v3h-3zM38 50h3v3h-3zM43 0h3v3h-3zM43 5h3v3h-3zM43 10h3v3h-3zM43 15h3v3h-3zM43 20h3v3h-3zM43 25h3v3h-3zM43 30h3v3h-3zM43 35h3v3h-3zM43 40h3v3h-3zM43 45h3v3h-3zM43 50h3v3h-3zM48 0h3v3h-3zM48 5h3v3h-3zM48 10h3v3h-3zM48 15h3v3h-3zM48 20h3v3h-3zM48 25h3v3h-3zM48 30h3v3h-3zM48 35h3v3h-3zM48 40h3v3h-3zM48 45h3v3h-3zM48 50h3v3h-3z"/>
<path fill="#0e91d2" d="M0 0h1.04v1.04h-1.04zM33 0h1.04v1.04h-1.04zM48 0h1.04v1.04h-1.04zM3 1h1.04v1.04h-1.04zM34 1h1.04v1.04h-1.04zM50 1h1.04v1.04h-1.04zM3 2h1.04v1.04h-1.04zM18 2h1.04v1.04h-1.04zM44 2h1.04v1.04h-1.04zM23 5h1.04v1.04h-1.04zM39 5h1.04v1.04h-1.04zM15 7h1.04v1.04h-1.04zM23 7h1.04v1.04h-1.04zM25 10h1.04v1.04h-1.04zM4 11h1.04v1.04h-1.04zM5 11h1.04v1.04h-1.04zM13 11h1.04v1.04h-1.04zM29 11h1.04v1.04h-1.04zM33 11h1.04v1.04h-1.04zM38 11h1.04v1.04h-1.04zM8 12h1.04v1.04h-1.04zM50 12h1.04v1.04h-1.04zM29 16h1.04v1.04h-1.04zM39 16h1.04v1.04h-1.04zM43 17h1.04v1.04h-1.04zM23 20h1.04v1.04h-1.04zM24 20h1.04v1.04h-1.04zM34 21h1.04v1.04h-1.04zM35 21h1.04v1.04h-1.04zM23 22h1.04v1.04h-1.04zM29 22h1.04v1.04h-1.04zM5 25h1.04v1.04h-1.04zM20 25h1.04v1.04h-1.04zM35 25h1.04v1.04h-1.04zM3 26h1.04v1.04h-1.04zM48 26h1.04v1.04h-1.04zM3 27h1.04v1.04h-1.04zM8 27h1.04v1.04h-1.04zM10 30h1.04v1.04h-1.04zM14 30h1.04v1.04h-1.04zM45 30h1.04v1.04h-1.04zM18 31h1.04v1.04h-1.04zM0 32h1.04v1.04h-1.04zM4 32h1.04v1.04h-1.04zM15 32h1.04v1.04h-1.04zM33 35h1.04v1.04h-1.04zM34 35h1.04v1.04h-1.04zM30 36h1.04v1.04h-1.04zM9 40h1.04v1.04h-1.04zM18 40h1.04v1.04h-1.04zM29 41h1.04v1.04h-1.04zM20 42h1.04v1.04h-1.04zM33 42h1.04v1.04h-1.04zM23 45h1.04v1.04h-1.04zM8 47h1.04v1.04h-1.04zM15 47h1.04v1.04h-1.04zM34 47h1.04v1.04h-1.04zM48 47h1.04v1.04h-1.04zM18 50h1.04v1.04h-1.04z"/>
<path fill="#046ce0" d="M1 0h1.04v1.04h-1.04zM11 0h1.04v1.04h-1.04zM22 0h1.04v1.04h-1.04zM27 0h1.04v1.04h-1.04zM37 0h1.04v1.04h-1.04zM41 0h1.04v1.04h-1.04zM46 0h1.04v1.04h-1.04zM11 1h1.04v1.04h-1.04zM12 1h1.04v1.04h-1.04zM16 1h1.04v1.04h-1.04zM22 1h1.04v1.04h-1.04zM6 2h1.04v1.04h-1.04zM7 2h1.04v1.04h-1.04zM11 2h1.04v1.04h-1.04zM12 2h1.04v1.04h-1.04zM16 2h1.04v1.04h-1.04zM17 2h1.04v1.04h-1.04zM2 5h1.04v1.04h-1.04zM6 5h1.04v1.04h-1.04zM12 5h1.04v1.04h-1.04zM17 5h1.04v1.04h-1.04zM21 5h1.04v1.04h-1.04zM27 5h1.04v1.04h-1.04zM41 5h1.04v1.04h-1.04zM42 5h1.04v1.04h-1.04zM11 6h1.04v1.04h-1.04zM27 6h1.04v1.04h-1.04zM32 6h1.04v1.04h-1.04zM21 7h1.04v1.04h-1.04zM26 7h1.04v1.04h-1.04zM27 7h1.04v1.04h-1.04zM46 7h1.04v1.04h-1.04zM47 7h1.04v1.04h-1.04zM6 10h1.04v1.04h-1.04zM26 10h1.04v1.04h-1.04zM27 10h1.04v1.04h-1.04zM31 10h1.04v1.04h-1.04zM41 10h1.04v1.04h-1.04zM1 11h1.04v1.04h-1.04zM2 11h1.04v1.04h-1.04zM12 11h1.04v1.04h-1.04zM41 11h1.04v1.04h-1.04zM1 12h1.04v1.04h-1.04zM11 12h1.04v1.04h-1.04zM12 12h1.04v1.04h-1.04zM21 12h1.04v1.04h-1.04zM27 12h1.04v1.04h-1.04zM32 12h1.04v1.04h-1.04zM41 12h1.04v1.04h-1.04zM11 15h1.04v1.04h-1.04zM12 15h1.04v1.04h-1.04zM36 15h1.04v1.04h-1.04zM41 15h1.04v1.04h-1.04zM42 15h1.04v1.04h-1.04zM1 16h1.04v1.04h-1.04zM6 16h1.04v1.04h-1.04zM11 16h1.04v1.04h-1.04zM27 16h1.04v1.04h-1.04zM31 16h1.04v1.04h-1.04zM32 16h1.04v1.04h-1.04zM37 16h1.04v1.04h-1.04zM41 16h1.04v1.04h-1.04zM42 16h1.04v1.04h-1.04zM47 16h1.04v1.04h-1.04zM11 17h1.04v1.04h-1.04zM37 17h1.04v1.04h-1.04zM42 17h1.04v1.04h-1.04zM47 17h1.04v1.04h-1.04zM6 20h1.04v1.04h-1.04zM11 20h1.04v1.04h-1.04zM12 20h1.04v1.04h-1.04zM16 20h1.04v1.04h-1.04zM22 20h1.04v1.04h-1.04zM32 20h1.04v1.04h-1.04zM42 20h1.04v1.04h-1.04zM47 20h1.04v1.04h-1.04zM1 21h1.04v1.04h-1.04zM2 21h1.04v1.04h-1.04zM7 21h1.04v1.04h-1.04zM12 21h1.04v1.04h-1.04zM16 21h1.04v1.04h-1.04zM21 21h1.04v1.04h-1.04zM27 21h1.04v1.04h-1.04zM32 21h1.04v1.04h-1.04zM37 21h1.04v1.04h-1.04zM6 22h1.04v1.04h-1.04zM22 22h1.04v1.04h-1.04zM26 22h1.04v1.04h-1.04zM32 22h1.04v1.04h-1.04zM36 22h1.04v1.04h-1.04zM41 22h1.04v1.04h-1.04zM42 22h1.04v1.04h-1.04zM46 22h1.04v1.04h-1.04zM1 25h1.04v1.04h-1.04zM7 25h1.04v1.04h-1.04zM11 25h1.04v1.04h-1.04zM17 25h1.04v1.04h-1.04zM26 25h1.04v1.04h-1.04zM27 25h1.04v1.04h-1.04zM1 26h1.04v1.04h-1.04zM7 26h1.04v1.04h-1.04zM12 26h1.04v1.04h-1.04zM16 26h1.04v1.04h-1.04zM22 26h1.04v1.04h-1.04zM32 26h1.04v1.04h-1.04zM47 26h1.04v1.04h-1.04zM1 27h1.04v1.04h-1.04zM7 27h1.04v1.04h-1.04zM12 27h1.04v1.04h-1.04zM26 27h1.04v1.04h-1.04zM27 27h1.04v1.04h-1.04zM31 27h1.04v1.04h-1.04zM37 27h1.04v1.04h-1.04zM2 30h1.04v1.04h-1.04zM22 30h1.04v1.04h-1.04zM36 30h1.04v1.04h-1.04zM36 31h1.04v1.04h-1.04zM37 31h1.04v1.04h-1.04zM1 32h1.04v1.04h-1.04zM2 32h1.04v1.04h-1.04zM7 32h1.04v1.04h-1.04zM17 32h1.04v1.04h-1.04zM22 32h1.04v1.04h-1.04zM27 32h1.04v1.04h-1.04zM31 32h1.04v1.04h-1.04zM32 32h1.04v1.04h-1.04zM36 32h1.04v1.04h-1.04zM47 32h1.04v1.04h-1.04zM1 35h1.04v1.04h-1.04zM16 35h1.04v1.04h-1.04zM21 35h1.04v1.04h-1.04zM36 35h1.04v1.04h-1.04zM6 36h1.04v1.04h-1.04zM16 36h1.04v1.04h-1.04zM17 36h1.04v1.04h-1.04zM31 36h1.04v1.04h-1.04zM42 36h1.04v1.04h-1.04zM12 37h1.04v1.04h-1.04zM41 37h1.04v1.04h-1.04zM46 37h1.04v1.04h-1.04zM47 37h1.04v1.04h-1.04zM11 40h1.04v1.04h-1.04zM12 40h1.04v1.04h-1.04zM36 40h1.04v1.04h-1.04zM46 40h1.04v1.04h-1.04zM1 41h1.04v1.04h-1.04zM26 41h1.04v1.04h-1.04zM32 41h1.04v1.04h-1.04zM41 41h1.04v1.04h-1.04zM47 41h1.04v1.04h-1.04zM1 42h1.04v1.04h-1.04zM2 42h1.04v1.04h-1.04zM12 42h1.04v1.04h-1.04zM22 42h1.04v1.04h-1.04zM27 42h1.04v1.04h-1.04zM36 42h1.04v1.04h-1.04zM42 42h1.04v1.04h-1.04zM47 42h1.04v1.04h-1.04zM2 45h1.04v1.04h-1.04zM6 45h1.04v1.04h-1.04zM11 45h1.04v1.04h-1.04zM16 45h1.04v1.04h-1.04zM27 45h1.04v1.04h-1.04zM32 45h1.04v1.04h-1.04zM47 45h1.04v1.04h-1.04zM1 46h1.04v1.04h-1.04zM2 46h1.04v1.04h-1.04zM7 46h1.04v1.04h-1.04zM22 46h1.04v1.04h-1.04zM31 46h1.04v1.04h-1.04zM17 47h1.04v1.04h-1.04zM22 47h1.04v1.04h-1.04zM36 47h1.04v1.04h-1.04zM37 47h1.04v1.04h-1.04zM41 47h1.04v1.04h-1.04zM42 47h1.04v1.04h-1.04zM7 50h1.04v1.04h-1.04zM11 50h1.04v1.04h-1.04zM27 50h1.04v1.04h-1.04zM36 50h1.04v1.04h-1.04zM41 50h1.04v1.04h-1.04zM46 50h1.04v1.04h-1.04z"/>
<path fill="#0269e1" d="M2 0h1.04v1.04h-1.04zM6 0h1.04v1.04h-1.04zM21 0h1.04v1.04h-1.04zM26 0h1.04v1.04h-1.04zM47 0h1.04v1.04h-1.04zM1 1h1.04v1.04h-1.04zM26 1h1.04v1.04h-1.04zM31 1h1.04v1.04h-1.04zM46 1h1.04v1.04h-1.04zM31 2h1.04v1.04h-1.04zM32 2h1.04v1.04h-1.04zM41 2h1.04v1.04h-1.04zM42 2h1.04v1.04h-1.04zM46 2h1.04v1.04h-1.04zM3 3h1.04v1.04h-1.04zM5 3h1.04v1.04h-1.04zM14 3h1.04v1.04h-1.04zM19 3h1.04v1.04h-1.04zM20 3h1.04v1.04h-1.04zM33 3h1.04v1.04h-1.04zM38 3h1.04v1.04h-1.04zM40 3h1.04v1.04h-1.04zM45 3h1.04v1.04h-1.04zM13 4h1.04v1.04h-1.04zM18 4h1.04v1.04h-1.04zM23 4h1.04v1.04h-1.04zM24 4h1.04v1.04h-1.04zM25 4h1.04v1.04h-1.04zM1 5h1.04v1.04h-1.04zM7 5h1.04v1.04h-1.04zM11 5h1.04v1.04h-1.04zM32 5h1.04v1.04h-1.04zM36 5h1.04v1.04h-1.04zM46 5h1.04v1.04h-1.04zM47 5h1.04v1.04h-1.04zM7 6h1.04v1.04h-1.04zM22 6h1.04v1.04h-1.04zM31 6h1.04v1.04h-1.04zM36 6h1.04v1.04h-1.04zM41 6h1.04v1.04h-1.04zM47 6h1.04v1.04h-1.04zM2 7h1.04v1.04h-1.04zM6 7h1.04v1.04h-1.04zM11 7h1.04v1.04h-1.04zM12 7h1.04v1.04h-1.04zM13 8h1.04v1.04h-1.04zM15 8h1.04v1.04h-1.04zM19 8h1.04v1.04h-1.04zM28 8h1.04v1.04h-1.04zM40 8h1.04v1.04h-1.04zM43 8h1.04v1.04h-1.04zM45 8h1.04v1.04h-1.04zM48 8h1.04v1.04h-1.04zM49 8h1.04v1.04h-1.04zM4 9h1.04v1.04h-1.04zM10 9h1.04v1.04h-1.04zM13 9h1.04v1.04h-1.04zM14 9h1.04v1.04h-1.04zM28 9h1.04v1.04h-1.04zM34 9h1.04v1.04h-1.04zM35 9h1.04v1.04h-1.04zM38 9h1.04v1.04h-1.04zM44 9h1.04v1.04h-1.04zM48 9h1.04v1.04h-1.04zM2 10h1.04v1.04h-1.04zM7 10h1.04v1.04h-1.04zM36 10h1.04v1.04h-1.04zM11 11h1.04v1.04h-1.04zM17 11h1.04v1.04h-1.04zM21 11h1.04v1.04h-1.04zM22 11h1.04v1.04h-1.04zM31 11h1.04v1.04h-1.04zM42 11h1.04v1.04h-1.04zM6 12h1.04v1.04h-1.04zM16 12h1.04v1.04h-1.04zM36 12h1.04v1.04h-1.04zM42 12h1.04v1.04h-1.04zM4 13h1.04v1.04h-1.04zM14 13h1.04v1.04h-1.04zM19 13h1.04v1.04h-1.04zM34 13h1.04v1.04h-1.04zM39 13h1.04v1.04h-1.04zM13 14h1.04v1.04h-1.04zM38 14h1.04v1.04h-1.04zM40 14h1.04v1.04h-1.04zM1 15h1.04v1.04h-1.04zM6 15h1.04v1.04h-1.04zM22 15h1.04v1.04h-1.04zM26 15h1.04v1.04h-1.04zM27 15h1.04v1.04h-1.04zM46 15h1.04v1.04h-1.04zM47 15h1.04v1.04h-1.04zM12 16h1.04v1.04h-1.04zM21 16h1.04v1.04h-1.04zM22 16h1.04v1.04h-1.04zM1 17h1.04v1.04h-1.04zM2 17h1.04v1.04h-1.04zM7 17h1.04v1.04h-1.04zM16 17h1.04v1.04h-1.04zM17 17h1.04v1.04h-1.04zM31 17h1.04v1.04h-1.04zM3 18h1.04v1.04h-1.04zM13 18h1.04v1.04h-1.04zM18 18h1.04v1.04h-1.04zM19 18h1.04v1.04h-1.04zM30 18h1.04v1.04h-1.04zM33 18h1.04v1.04h-1.04zM38 18h1.04v1.04h-1.04zM39 18h1.04v1.04h-1.04zM40 18h1.04v1.04h-1.04zM43 18h1.04v1.04h-1.04zM44 18h1.04v1.04h-1.04zM48 18h1.04v1.04h-1.04zM49 18h1.04v1.04h-1.04zM4 19h1.04v1.04h-1.04zM28 19h1.04v1.04h-1.04zM29 19h1.04v1.04h-1.04zM35 19h1.04v1.04h-1.04zM44 19h1.04v1.04h-1.04zM17 20h1.04v1.04h-1.04zM21 20h1.04v1.04h-1.04zM27 20h1.04v1.04h-1.04zM37 20h1.04v1.04h-1.04zM41 20h1.04v1.04h-1.04zM22 21h1.04v1.04h-1.04zM31 21h1.04v1.04h-1.04zM36 21h1.04v1.04h-1.04zM12 22h1.04v1.04h-1.04zM17 22h1.04v1.04h-1.04zM21 22h1.04v1.04h-1.04zM27 22h1.04v1.04h-1.04zM13 23h1.04v1.04h-1.04zM28 23h1.04v1.04h-1.04zM29 23h1.04v1.04h-1.04zM8 24h1.04v1.04h-1.04zM15 24h1.04v1.04h-1.04zM18 24h1.04v1.04h-1.04zM19 24h1.04v1.04h-1.04zM29 24h1.04v1.04h-1.04zM30 24h1.04v1.04h-1.04zM44 24h1.04v1.04h-1.04zM49 24h1.04v1.04h-1.04zM2 25h1.04v1.04h-1.04zM21 25h1.04v1.04h-1.04zM31 25h1.04v1.04h-1.04zM36 25h1.04v1.04h-1.04zM42 25h1.04v1.04h-1.04zM26 26h1.04v1.04h-1.04zM36 26h1.04v1.04h-1.04zM37 26h1.04v1.04h-1.04zM2 27h1.04v1.04h-1.04zM16 27h1.04v1.04h-1.04zM22 27h1.04v1.04h-1.04zM32 27h1.04v1.04h-1.04zM0 28h1.04v1.04h-1.04zM5 28h1.04v1.04h-1.04zM13 28h1.04v1.04h-1.04zM15 28h1.04v1.04h-1.04zM23 28h1.04v1.04h-1.04zM25 28h1.04v1.04h-1.04zM40 28h1.04v1.04h-1.04zM48 28h1.04v1.04h-1.04zM0 29h1.04v1.04h-1.04zM8 29h1.04v1.04h-1.04zM10 29h1.04v1.04h-1.04zM34 29h1.04v1.04h-1.04zM48 29h1.04v1.04h-1.04zM1 30h1.04v1.04h-1.04zM7 30h1.04v1.04h-1.04zM26 30h1.04v1.04h-1.04zM27 30h1.04v1.04h-1.04zM31 30h1.04v1.04h-1.04zM1 31h1.04v1.04h-1.04zM6 31h1.04v1.04h-1.04zM11 31h1.04v1.04h-1.04zM12 31h1.04v1.04h-1.04zM16 31h1.04v1.04h-1.04zM21 31h1.04v1.04h-1.04zM31 31h1.04v1.04h-1.04zM46 31h1.04v1.04h-1.04zM47 31h1.04v1.04h-1.04zM6 32h1.04v1.04h-1.04zM12 32h1.04v1.04h-1.04zM16 32h1.04v1.04h-1.04zM37 32h1.04v1.04h-1.04zM46 32h1.04v1.04h-1.04zM20 33h1.04v1.04h-1.04zM23 33h1.04v1.04h-1.04zM24 33h1.04v1.04h-1.04zM30 33h1.04v1.04h-1.04zM38 33h1.04v1.04h-1.04zM43 33h1.04v1.04h-1.04zM14 34h1.04v1.04h-1.04zM25 34h1.04v1.04h-1.04zM29 34h1.04v1.04h-1.04zM30 34h1.04v1.04h-1.04zM34 34h1.04v1.04h-1.04zM35 34h1.04v1.04h-1.04zM39 34h1.04v1.04h-1.04zM45 34h1.04v1.04h-1.04zM50 34h1.04v1.04h-1.04zM2 35h1.04v1.04h-1.04zM11 35h1.04v1.04h-1.04zM12 35h1.04v1.04h-1.04zM27 35h1.04v1.04h-1.04zM31 35h1.04v1.04h-1.04zM46 35h1.04v1.04h-1.04zM7 36h1.04v1.04h-1.04zM11 36h1.04v1.04h-1.04zM26 36h1.04v1.04h-1.04zM32 36h1.04v1.04h-1.04zM36 36h1.04v1.04h-1.04zM41 36h1.04v1.04h-1.04zM1 37h1.04v1.04h-1.04zM2 37h1.04v1.04h-1.04zM6 37h1.04v1.04h-1.04zM7 37h1.04v1.04h-1.04zM11 37h1.04v1.04h-1.04zM16 37h1.04v1.04h-1.04zM17 37h1.04v1.04h-1.04zM27 37h1.04v1.04h-1.04zM31 37h1.04v1.04h-1.04zM32 37h1.04v1.04h-1.04zM36 37h1.04v1.04h-1.04zM42 37h1.04v1.04h-1.04zM5 38h1.04v1.04h-1.04zM8 38h1.04v1.04h-1.04zM13 38h1.04v1.04h-1.04zM14 38h1.04v1.04h-1.04zM20 38h1.04v1.04h-1.04zM29 38h1.04v1.04h-1.04zM33 38h1.04v1.04h-1.04zM40 38h1.04v1.04h-1.04zM44 38h1.04v1.04h-1.04zM50 38h1.04v1.04h-1.04zM4 39h1.04v1.04h-1.04zM9 39h1.04v1.04h-1.04zM15 39h1.04v1.04h-1.04zM19 39h1.04v1.04h-1.04zM20 39h1.04v1.04h-1.04zM23 39h1.04v1.04h-1.04zM24 39h1.04v1.04h-1.04zM30 39h1.04v1.04h-1.04zM35 39h1.04v1.04h-1.04zM39 39h1.04v1.04h-1.04zM44 39h1.04v1.04h-1.04zM48 39h1.04v1.04h-1.04zM49 39h1.04v1.04h-1.04zM1 40h1.04v1.04h-1.04zM16 40h1.04v1.04h-1.04zM22 40h1.04v1.04h-1.04zM26 40h1.04v1.04h-1.04zM31 40h1.04v1.04h-1.04zM37 40h1.04v1.04h-1.04zM47 40h1.04v1.04h-1.04zM2 41h1.04v1.04h-1.04zM7 41h1.04v1.04h-1.04zM11 41h1.04v1.04h-1.04zM12 41h1.04v1.04h-1.04zM21 41h1.04v1.04h-1.04zM31 41h1.04v1.04h-1.04zM17 42h1.04v1.04h-1.04zM31 42h1.04v1.04h-1.04zM37 42h1.04v1.04h-1.04zM46 42h1.04v1.04h-1.04zM10 43h1.04v1.04h-1.04zM18 43h1.04v1.04h-1.04zM19 43h1.04v1.04h-1.04zM24 43h1.04v1.04h-1.04zM34 43h1.04v1.04h-1.04zM39 43h1.04v1.04h-1.04zM45 43h1.04v1.04h-1.04zM8 44h1.04v1.04h-1.04zM10 44h1.04v1.04h-1.04zM14 44h1.04v1.04h-1.04zM18 44h1.04v1.04h-1.04zM28 44h1.04v1.04h-1.04zM29 44h1.04v1.04h-1.04zM30 44h1.04v1.04h-1.04zM34 44h1.04v1.04h-1.04zM38 44h1.04v1.04h-1.04zM44 44h1.04v1.04h-1.04zM17 45h1.04v1.04h-1.04zM42 45h1.04v1.04h-1.04zM6 46h1.04v1.04h-1.04zM11 46h1.04v1.04h-1.04zM12 46h1.04v1.04h-1.04zM16 46h1.04v1.04h-1.04zM32 46h1.04v1.04h-1.04zM37 46h1.04v1.04h-1.04zM41 46h1.04v1.04h-1.04zM42 46h1.04v1.04h-1.04zM46 46h1.04v1.04h-1.04zM1 47h1.04v1.04h-1.04zM11 47h1.04v1.04h-1.04zM26 47h1.04v1.04h-1.04zM47 47h1.04v1.04h-1.04zM15 48h1.04v1.04h-1.04zM20 48h1.04v1.04h-1.04zM24 48h1.04v1.04h-1.04zM40 48h1.04v1.04h-1.04zM0 49h1.04v1.04h-1.04zM8 49h1.04v1.04h-1.04zM10 49h1.04v1.04h-1.04zM39 49h1.04v1.04h-1.04zM44 49h1.04v1.04h-1.04zM45 49h1.04v1.04h-1.04zM48 49h1.04v1.04h-1.04zM50 49h1.04v1.04h-1.04zM12 50h1.04v1.04h-1.04zM16 50h1.04v1.04h-1.04zM32 50h1.04v1.04h-1.04zM47 50h1.04v1.04h-1.04z"/>
<path fill="#0a96d1" d="M3 0h1.04v1.04h-1.04zM20 0h1.04v1.04h-1.04zM29 0h1.04v1.04h-1.04zM49 1h1.04v1.04h-1.04zM4 2h1.04v1.04h-1.04zM43 2h1.04v1.04h-1.04zM34 5h1.04v1.04h-1.04zM44 5h1.04v1.04h-1.04zM8 6h1.04v1.04h-1.04zM20 6h1.04v1.04h-1.04zM50 6h1.04v1.04h-1.04zM9 7h1.04v1.04h-1.04zM9 10h1.04v1.04h-1.04zM14 10h1.04v1.04h-1.04zM28 10h1.04v1.04h-1.04zM33 10h1.04v1.04h-1.04zM34 10h1.04v1.04h-1.04zM3 15h1.04v1.04h-1.04zM23 15h1.04v1.04h-1.04zM38 15h1.04v1.04h-1.04zM43 15h1.04v1.04h-1.04zM50 15h1.04v1.04h-1.04zM10 16h1.04v1.04h-1.04zM18 16h1.04v1.04h-1.04zM30 16h1.04v1.04h-1.04zM49 16h1.04v1.04h-1.04zM3 20h1.04v1.04h-1.04zM13 20h1.04v1.04h-1.04zM43 20h1.04v1.04h-1.04zM43 21h1.04v1.04h-1.04zM35 22h1.04v1.04h-1.04zM24 25h1.04v1.04h-1.04zM38 25h1.04v1.04h-1.04zM44 25h1.04v1.04h-1.04zM48 25h1.04v1.04h-1.04zM35 26h1.04v1.04h-1.04zM45 26h1.04v1.04h-1.04zM13 30h1.04v1.04h-1.04zM24 32h1.04v1.04h-1.04zM45 32h1.04v1.04h-1.04zM48 32h1.04v1.04h-1.04zM14 35h1.04v1.04h-1.04zM38 35h1.04v1.04h-1.04zM49 35h1.04v1.04h-1.04zM25 36h1.04v1.04h-1.04zM0 37h1.04v1.04h-1.04zM15 37h1.04v1.04h-1.04zM23 37h1.04v1.04h-1.04zM24 40h1.04v1.04h-1.04zM33 40h1.04v1.04h-1.04zM34 40h1.04v1.04h-1.04zM48 41h1.04v1.04h-1.04zM48 42h1.04v1.04h-1.04zM8 45h1.04v1.04h-1.04zM10 45h1.04v1.04h-1.04zM14 45h1.04v1.04h-1.04zM25 45h1.04v1.04h-1.04zM38 45h1.04v1.04h-1.04zM15 46h1.04v1.04h-1.04zM39 46h1.04v1.04h-1.04zM48 46h1.04v1.04h-1.04zM49 46h1.04v1.04h-1.04z"/>
<path fill="#1484d4" d="M4 0h1.04v1.04h-1.04zM30 0h1.04v1.04h-1.04zM44 0h1.04v1.04h-1.04zM13 1h1.04v1.04h-1.04zM23 2h1.04v1.04h-1.04zM40 2h1.04v1.04h-1.04zM49 2h1.04v1.04h-1.04zM5 5h1.04v1.04h-1.04zM18 5h1.04v1.04h-1.04zM30 6h1.04v1.04h-1.04zM13 7h1.04v1.04h-1.04zM14 7h1.04v1.04h-1.04zM49 7h1.04v1.04h-1.04zM8 10h1.04v1.04h-1.04zM15 10h1.04v1.04h-1.04zM30 10h1.04v1.04h-1.04zM43 10h1.04v1.04h-1.04zM23 11h1.04v1.04h-1.04zM50 11h1.04v1.04h-1.04zM4 12h1.04v1.04h-1.04zM29 12h1.04v1.04h-1.04zM5 15h1.04v1.04h-1.04zM9 15h1.04v1.04h-1.04zM45 16h1.04v1.04h-1.04zM14 17h1.04v1.04h-1.04zM48 17h1.04v1.04h-1.04zM29 20h1.04v1.04h-1.04zM5 21h1.04v1.04h-1.04zM28 21h1.04v1.04h-1.04zM10 22h1.04v1.04h-1.04zM39 22h1.04v1.04h-1.04zM49 22h1.04v1.04h-1.04zM18 25h1.04v1.04h-1.04zM19 25h1.04v1.04h-1.04zM25 25h1.04v1.04h-1.04zM50 25h1.04v1.04h-1.04zM18 27h1.04v1.04h-1.04zM30 27h1.04v1.04h-1.04zM43 27h1.04v1.04h-1.04zM30 30h1.04v1.04h-1.04zM10 31h1.04v1.04h-1.04zM45 31h1.04v1.04h-1.04zM13 32h1.04v1.04h-1.04zM23 32h1.04v1.04h-1.04zM0 35h1.04v1.04h-1.04zM25 35h1.04v1.04h-1.04zM40 35h1.04v1.04h-1.04zM8 36h1.04v1.04h-1.04zM15 36h1.04v1.04h-1.04zM23 36h1.04v1.04h-1.04zM28 36h1.04v1.04h-1.04zM40 40h1.04v1.04h-1.04zM44 40h1.04v1.04h-1.04zM25 41h1.04v1.04h-1.04zM13 42h1.04v1.04h-1.04zM39 42h1.04v1.04h-1.04zM45 42h1.04v1.04h-1.04zM35 45h1.04v1.04h-1.04zM44 45h1.04v1.04h-1.04zM49 45h1.04v1.04h-1.04zM10 47h1.04v1.04h-1.04zM44 47h1.04v1.04h-1.04zM39 50h1.04v1.04h-1.04zM44 50h1.04v1.04h-1.04z"/>
<path fill="#1389d3" d="M5 0h1.04v1.04h-1.04zM38 0h1.04v1.04h-1.04zM49 0h1.04v1.04h-1.04zM24 1h1.04v1.04h-1.04zM45 1h1.04v1.04h-1.04zM48 1h1.04v1.04h-1.04zM10 2h1.04v1.04h-1.04zM29 2h1.04v1.04h-1.04zM30 2h1.04v1.04h-1.04zM28 5h1.04v1.04h-1.04zM29 5h1.04v1.04h-1.04zM30 5h1.04v1.04h-1.04zM43 5h1.04v1.04h-1.04zM24 6h1.04v1.04h-1.04zM10 7h1.04v1.04h-1.04zM40 7h1.04v1.04h-1.04zM43 7h1.04v1.04h-1.04zM8 11h1.04v1.04h-1.04zM34 11h1.04v1.04h-1.04zM40 11h1.04v1.04h-1.04zM25 12h1.04v1.04h-1.04zM33 12h1.04v1.04h-1.04zM34 12h1.04v1.04h-1.04zM5 17h1.04v1.04h-1.04zM20 17h1.04v1.04h-1.04zM38 17h1.04v1.04h-1.04zM0 20h1.04v1.04h-1.04zM8 21h1.04v1.04h-1.04zM10 21h1.04v1.04h-1.04zM23 21h1.04v1.04h-1.04zM24 21h1.04v1.04h-1.04zM3 22h1.04v1.04h-1.04zM20 22h1.04v1.04h-1.04zM28 22h1.04v1.04h-1.04zM43 22h1.04v1.04h-1.04zM23 26h1.04v1.04h-1.04zM40 26h1.04v1.04h-1.04zM49 26h1.04v1.04h-1.04zM19 27h1.04v1.04h-1.04zM28 27h1.04v1.04h-1.04zM29 27h1.04v1.04h-1.04zM33 27h1.04v1.04h-1.04zM50 27h1.04v1.04h-1.04zM15 30h1.04v1.04h-1.04zM43 30h1.04v1.04h-1.04zM29 31h1.04v1.04h-1.04zM30 31h1.04v1.04h-1.04zM44 31h1.04v1.04h-1.04zM18 32h1.04v1.04h-1.04zM19 32h1.04v1.04h-1.04zM44 32h1.04v1.04h-1.04zM3 35h1.04v1.04h-1.04zM13 35h1.04v1.04h-1.04zM43 35h1.04v1.04h-1.04zM4 36h1.04v1.04h-1.04zM19 36h1.04v1.04h-1.04zM38 36h1.04v1.04h-1.04zM48 36h1.04v1.04h-1.04zM8 37h1.04v1.04h-1.04zM30 37h1.04v1.04h-1.04zM49 37h1.04v1.04h-1.04zM15 40h1.04v1.04h-1.04zM25 40h1.04v1.04h-1.04zM28 42h1.04v1.04h-1.04zM34 42h1.04v1.04h-1.04zM44 42h1.04v1.04h-1.04zM4 45h1.04v1.04h-1.04zM9 45h1.04v1.04h-1.04zM45 46h1.04v1.04h-1.04zM13 47h1.04v1.04h-1.04zM28 47h1.04v1.04h-1.04zM10 50h1.04v1.04h-1.04zM28 50h1.04v1.04h-1.04z"/>
<path fill="#0267e1" d="M7 0h1.04v1.04h-1.04zM32 0h1.04v1.04h-1.04zM7 1h1.04v1.04h-1.04zM36 1h1.04v1.04h-1.04zM42 1h1.04v1.04h-1.04zM2 2h1.04v1.04h-1.04zM0 3h1.04v1.04h-1.04zM4 3h1.04v1.04h-1.04zM18 3h1.04v1.04h-1.04zM24 3h1.04v1.04h-1.04zM39 3h1.04v1.04h-1.04zM43 3h1.04v1.04h-1.04zM48 3h1.04v1.04h-1.04zM50 3h1.04v1.04h-1.04zM5 4h1.04v1.04h-1.04zM14 4h1.04v1.04h-1.04zM15 4h1.04v1.04h-1.04zM19 4h1.04v1.04h-1.04zM29 4h1.04v1.04h-1.04zM35 4h1.04v1.04h-1.04zM16 5h1.04v1.04h-1.04zM22 5h1.04v1.04h-1.04zM17 6h1.04v1.04h-1.04zM21 6h1.04v1.04h-1.04zM1 7h1.04v1.04h-1.04zM37 7h1.04v1.04h-1.04zM8 8h1.04v1.04h-1.04zM9 8h1.04v1.04h-1.04zM14 8h1.04v1.04h-1.04zM18 8h1.04v1.04h-1.04zM24 8h1.04v1.04h-1.04zM29 8h1.04v1.04h-1.04zM30 8h1.04v1.04h-1.04zM34 8h1.04v1.04h-1.04zM35 8h1.04v1.04h-1.04zM5 9h1.04v1.04h-1.04zM8 9h1.04v1.04h-1.04zM18 9h1.04v1.04h-1.04zM25 9h1.04v1.04h-1.04zM39 9h1.04v1.04h-1.04zM50 9h1.04v1.04h-1.04zM37 10h1.04v1.04h-1.04zM47 10h1.04v1.04h-1.04zM6 11h1.04v1.04h-1.04zM16 11h1.04v1.04h-1.04zM2 12h1.04v1.04h-1.04zM31 12h1.04v1.04h-1.04zM46 12h1.04v1.04h-1.04zM3 13h1.04v1.04h-1.04zM15 13h1.04v1.04h-1.04zM18 13h1.04v1.04h-1.04zM20 13h1.04v1.04h-1.04zM30 13h1.04v1.04h-1.04zM44 13h1.04v1.04h-1.04zM48 13h1.04v1.04h-1.04zM49 13h1.04v1.04h-1.04zM0 14h1.04v1.04h-1.04zM4 14h1.04v1.04h-1.04zM14 14h1.04v1.04h-1.04zM19 14h1.04v1.04h-1.04zM20 14h1.04v1.04h-1.04zM24 14h1.04v1.04h-1.04zM25 14h1.04v1.04h-1.04zM28 14h1.04v1.04h-1.04zM33 14h1.04v1.04h-1.04zM39 14h1.04v1.04h-1.04zM17 15h1.04v1.04h-1.04zM21 15h1.04v1.04h-1.04zM16 16h1.04v1.04h-1.04zM36 16h1.04v1.04h-1.04zM46 16h1.04v1.04h-1.04zM6 17h1.04v1.04h-1.04zM12 17h1.04v1.04h-1.04zM4 18h1.04v1.04h-1.04zM5 18h1.04v1.04h-1.04zM8 18h1.04v1.04h-1.04zM14 18h1.04v1.04h-1.04zM15 18h1.04v1.04h-1.04zM29 18h1.04v1.04h-1.04zM35 18h1.04v1.04h-1.04zM9 19h1.04v1.04h-1.04zM20 19h1.04v1.04h-1.04zM33 19h1.04v1.04h-1.04zM34 19h1.04v1.04h-1.04zM40 19h1.04v1.04h-1.04zM1 20h1.04v1.04h-1.04zM7 20h1.04v1.04h-1.04zM11 21h1.04v1.04h-1.04zM17 21h1.04v1.04h-1.04zM42 21h1.04v1.04h-1.04zM47 21h1.04v1.04h-1.04zM37 22h1.04v1.04h-1.04zM3 23h1.04v1.04h-1.04zM8 23h1.04v1.04h-1.04zM25 23h1.04v1.04h-1.04zM33 23h1.04v1.04h-1.04zM34 23h1.04v1.04h-1.04zM38 23h1.04v1.04h-1.04zM44 23h1.04v1.04h-1.04zM0 24h1.04v1.04h-1.04zM5 24h1.04v1.04h-1.04zM9 24h1.04v1.04h-1.04zM13 24h1.04v1.04h-1.04zM14 24h1.04v1.04h-1.04zM20 24h1.04v1.04h-1.04zM23 24h1.04v1.04h-1.04zM28 24h1.04v1.04h-1.04zM6 25h1.04v1.04h-1.04zM37 25h1.04v1.04h-1.04zM41 25h1.04v1.04h-1.04zM27 26h1.04v1.04h-1.04zM41 27h1.04v1.04h-1.04zM42 27h1.04v1.04h-1.04zM46 27h1.04v1.04h-1.04zM4 28h1.04v1.04h-1.04zM24 28h1.04v1.04h-1.04zM30 28h1.04v1.04h-1.04zM45 28h1.04v1.04h-1.04zM50 28h1.04v1.04h-1.04zM4 29h1.04v1.04h-1.04zM14 29h1.04v1.04h-1.04zM20 29h1.04v1.04h-1.04zM23 29h1.04v1.04h-1.04zM29 29h1.04v1.04h-1.04zM33 29h1.04v1.04h-1.04zM39 29h1.04v1.04h-1.04zM50 29h1.04v1.04h-1.04zM11 30h1.04v1.04h-1.04zM32 30h1.04v1.04h-1.04zM41 30h1.04v1.04h-1.04zM22 31h1.04v1.04h-1.04zM42 31h1.04v1.04h-1.04zM4 33h1.04v1.04h-1.04zM5 33h1.04v1.04h-1.04zM9 33h1.04v1.04h-1.04zM14 33h1.04v1.04h-1.04zM34 33h1.04v1.04h-1.04zM4 34h1.04v1.04h-1.04zM13 34h1.04v1.04h-1.04zM19 34h1.04v1.04h-1.04zM40 34h1.04v1.04h-1.04zM43 34h1.04v1.04h-1.04zM48 34h1.04v1.04h-1.04zM49 34h1.04v1.04h-1.04zM22 35h1.04v1.04h-1.04zM32 35h1.04v1.04h-1.04zM21 36h1.04v1.04h-1.04zM27 36h1.04v1.04h-1.04zM37 36h1.04v1.04h-1.04zM22 37h1.04v1.04h-1.04zM0 38h1.04v1.04h-1.04zM3 38h1.04v1.04h-1.04zM18 38h1.04v1.04h-1.04zM35 38h1.04v1.04h-1.04zM49 38h1.04v1.04h-1.04zM0 39h1.04v1.04h-1.04zM13 39h1.04v1.04h-1.04zM14 39h1.04v1.04h-1.04zM18 39h1.04v1.04h-1.04zM28 39h1.04v1.04h-1.04zM29 39h1.04v1.04h-1.04zM38 39h1.04v1.04h-1.04zM43 39h1.04v1.04h-1.04zM2 40h1.04v1.04h-1.04zM21 40h1.04v1.04h-1.04zM37 41h1.04v1.04h-1.04zM41 42h1.04v1.04h-1.04zM0 43h1.04v1.04h-1.04zM4 43h1.04v1.04h-1.04zM8 43h1.04v1.04h-1.04zM23 43h1.04v1.04h-1.04zM28 43h1.04v1.04h-1.04zM29 43h1.04v1.04h-1.04zM44 43h1.04v1.04h-1.04zM49 43h1.04v1.04h-1.04zM0 44h1.04v1.04h-1.04zM4 44h1.04v1.04h-1.04zM15 44h1.04v1.04h-1.04zM19 44h1.04v1.04h-1.04zM23 44h1.04v1.04h-1.04zM25 44h1.04v1.04h-1.04zM39 44h1.04v1.04h-1.04zM49 44h1.04v1.04h-1.04zM50 44h1.04v1.04h-1.04zM1 45h1.04v1.04h-1.04zM12 45h1.04v1.04h-1.04zM31 45h1.04v1.04h-1.04zM46 45h1.04v1.04h-1.04zM27 46h1.04v1.04h-1.04zM12 47h1.04v1.04h-1.04zM14 48h1.04v1.04h-1.04zM28 48h1.04v1.04h-1.04zM39 48h1.04v1.04h-1.04zM43 48h1.04v1.04h-1.04zM44 48h1.04v1.04h-1.04zM45 48h1.04v1.04h-1.04zM49 48h1.04v1.04h-1.04zM5 49h1.04v1.04h-1.04zM13 49h1.04v1.04h-1.04zM15 49h1.04v1.04h-1.04zM24 49h1.04v1.04h-1.04zM49 49h1.04v1.04h-1.04zM2 50h1.04v1.04h-1.04zM6 50h1.04v1.04h-1.04zM17 50h1.04v1.04h-1.04zM21 50h1.04v1.04h-1.04zM42 50h1.04v1.04h-1.04z"/>
<path fill="#0d93d2" d="M8 0h1.04v1.04h-1.04zM14 0h1.04v1.04h-1.04zM23 1h1.04v1.04h-1.04zM28 1h1.04v1.04h-1.04zM33 1h1.04v1.04h-1.04zM8 2h1.04v1.04h-1.04zM19 2h1.04v1.04h-1.04zM48 2h1.04v1.04h-1.04zM10 5h1.04v1.04h-1.04zM19 5h1.04v1.04h-1.04zM35 5h1.04v1.04h-1.04zM3 6h1.04v1.04h-1.04zM38 7h1.04v1.04h-1.04zM0 10h1.04v1.04h-1.04zM50 10h1.04v1.04h-1.04zM28 11h1.04v1.04h-1.04zM45 11h1.04v1.04h-1.04zM5 12h1.04v1.04h-1.04zM35 12h1.04v1.04h-1.04zM48 12h1.04v1.04h-1.04zM0 15h1.04v1.04h-1.04zM10 15h1.04v1.04h-1.04zM39 15h1.04v1.04h-1.04zM40 16h1.04v1.04h-1.04zM4 17h1.04v1.04h-1.04zM49 17h1.04v1.04h-1.04zM9 20h1.04v1.04h-1.04zM34 20h1.04v1.04h-1.04zM3 21h1.04v1.04h-1.04zM48 21h1.04v1.04h-1.04zM50 21h1.04v1.04h-1.04zM15 25h1.04v1.04h-1.04zM4 26h1.04v1.04h-1.04zM35 27h1.04v1.04h-1.04zM38 27h1.04v1.04h-1.04zM28 30h1.04v1.04h-1.04zM49 30h1.04v1.04h-1.04zM15 31h1.04v1.04h-1.04zM34 31h1.04v1.04h-1.04zM8 32h1.04v1.04h-1.04zM25 32h1.04v1.04h-1.04zM4 35h1.04v1.04h-1.04zM23 35h1.04v1.04h-1.04zM3 36h1.04v1.04h-1.04zM13 36h1.04v1.04h-1.04zM49 36h1.04v1.04h-1.04zM24 37h1.04v1.04h-1.04zM39 37h1.04v1.04h-1.04zM14 40h1.04v1.04h-1.04zM29 40h1.04v1.04h-1.04zM49 40h1.04v1.04h-1.04zM44 41h1.04v1.04h-1.04zM3 42h1.04v1.04h-1.04zM40 45h1.04v1.04h-1.04zM20 46h1.04v1.04h-1.04zM23 46h1.04v1.04h-1.04zM5 47h1.04v1.04h-1.04zM14 47h1.04v1.04h-1.04zM20 47h1.04v1.04h-1.04zM25 47h1.04v1.04h-1.04zM45 50h1.04v1.04h-1.04z"/>
<path fill="#1487d3" d="M9 0h1.04v1.04h-1.04zM19 0h1.04v1.04h-1.04zM39 0h1.04v1.04h-1.04zM29 1h1.04v1.04h-1.04zM30 1h1.04v1.04h-1.04zM39 1h1.04v1.04h-1.04zM39 2h1.04v1.04h-1.04zM50 2h1.04v1.04h-1.04zM4 5h1.04v1.04h-1.04zM33 5h1.04v1.04h-1.04zM38 5h1.04v1.04h-1.04zM40 5h1.04v1.04h-1.04zM50 5h1.04v1.04h-1.04zM5 6h1.04v1.04h-1.04zM10 6h1.04v1.04h-1.04zM14 6h1.04v1.04h-1.04zM34 6h1.04v1.04h-1.04zM39 6h1.04v1.04h-1.04zM44 7h1.04v1.04h-1.04zM14 12h1.04v1.04h-1.04zM18 12h1.04v1.04h-1.04zM28 12h1.04v1.04h-1.04zM38 12h1.04v1.04h-1.04zM49 12h1.04v1.04h-1.04zM28 15h1.04v1.04h-1.04zM29 15h1.04v1.04h-1.04zM40 15h1.04v1.04h-1.04zM29 17h1.04v1.04h-1.04zM34 17h1.04v1.04h-1.04zM38 21h1.04v1.04h-1.04zM44 21h1.04v1.04h-1.04zM18 22h1.04v1.04h-1.04zM25 22h1.04v1.04h-1.04zM38 22h1.04v1.04h-1.04zM45 22h1.04v1.04h-1.04zM50 22h1.04v1.04h-1.04zM4 25h1.04v1.04h-1.04zM14 26h1.04v1.04h-1.04zM39 26h1.04v1.04h-1.04zM5 27h1.04v1.04h-1.04zM15 27h1.04v1.04h-1.04zM35 30h1.04v1.04h-1.04zM50 30h1.04v1.04h-1.04zM14 31h1.04v1.04h-1.04zM34 32h1.04v1.04h-1.04zM40 32h1.04v1.04h-1.04zM50 32h1.04v1.04h-1.04zM8 35h1.04v1.04h-1.04zM45 35h1.04v1.04h-1.04zM33 36h1.04v1.04h-1.04zM14 37h1.04v1.04h-1.04zM28 40h1.04v1.04h-1.04zM3 41h1.04v1.04h-1.04zM8 41h1.04v1.04h-1.04zM9 42h1.04v1.04h-1.04zM40 42h1.04v1.04h-1.04zM15 45h1.04v1.04h-1.04zM5 46h1.04v1.04h-1.04zM18 46h1.04v1.04h-1.04zM50 46h1.04v1.04h-1.04zM33 47h1.04v1.04h-1.04zM3 50h1.04v1.04h-1.04zM5 50h1.04v1.04h-1.04zM24 50h1.04v1.04h-1.04z"/>
<path fill="#128bd2" d="M10 0h1.04v1.04h-1.04zM8 1h1.04v1.04h-1.04zM9 1h1.04v1.04h-1.04zM14 1h1.04v1.04h-1.04zM19 1h1.04v1.04h-1.04zM25 1h1.04v1.04h-1.04zM35 1h1.04v1.04h-1.04zM38 1h1.04v1.04h-1.04zM9 2h1.04v1.04h-1.04zM15 2h1.04v1.04h-1.04zM20 2h1.04v1.04h-1.04zM24 2h1.04v1.04h-1.04zM25 2h1.04v1.04h-1.04zM38 2h1.04v1.04h-1.04zM14 5h1.04v1.04h-1.04zM13 6h1.04v1.04h-1.04zM19 6h1.04v1.04h-1.04zM25 6h1.04v1.04h-1.04zM49 6h1.04v1.04h-1.04zM5 7h1.04v1.04h-1.04zM18 7h1.04v1.04h-1.04zM29 7h1.04v1.04h-1.04zM10 11h1.04v1.04h-1.04zM35 11h1.04v1.04h-1.04zM13 12h1.04v1.04h-1.04zM40 12h1.04v1.04h-1.04zM13 15h1.04v1.04h-1.04zM30 15h1.04v1.04h-1.04zM0 17h1.04v1.04h-1.04zM19 17h1.04v1.04h-1.04zM39 17h1.04v1.04h-1.04zM8 20h1.04v1.04h-1.04zM20 20h1.04v1.04h-1.04zM28 20h1.04v1.04h-1.04zM15 21h1.04v1.04h-1.04zM33 21h1.04v1.04h-1.04zM8 22h1.04v1.04h-1.04zM44 22h1.04v1.04h-1.04zM48 22h1.04v1.04h-1.04zM43 25h1.04v1.04h-1.04zM19 26h1.04v1.04h-1.04zM25 26h1.04v1.04h-1.04zM43 26h1.04v1.04h-1.04zM0 27h1.04v1.04h-1.04zM40 27h1.04v1.04h-1.04zM44 27h1.04v1.04h-1.04zM0 30h1.04v1.04h-1.04zM3 30h1.04v1.04h-1.04zM8 31h1.04v1.04h-1.04zM24 31h1.04v1.04h-1.04zM9 35h1.04v1.04h-1.04zM19 35h1.04v1.04h-1.04zM20 35h1.04v1.04h-1.04zM35 35h1.04v1.04h-1.04zM29 36h1.04v1.04h-1.04zM13 37h1.04v1.04h-1.04zM33 37h1.04v1.04h-1.04zM0 41h1.04v1.04h-1.04zM4 41h1.04v1.04h-1.04zM14 41h1.04v1.04h-1.04zM24 41h1.04v1.04h-1.04zM34 41h1.04v1.04h-1.04zM40 41h1.04v1.04h-1.04zM45 41h1.04v1.04h-1.04zM5 42h1.04v1.04h-1.04zM14 42h1.04v1.04h-1.04zM19 42h1.04v1.04h-1.04zM24 42h1.04v1.04h-1.04zM35 42h1.04v1.04h-1.04zM3 46h1.04v1.04h-1.04zM9 46h1.04v1.04h-1.04zM9 47h1.04v1.04h-1.04zM18 47h1.04v1.04h-1.04zM24 47h1.04v1.04h-1.04zM9 50h1.04v1.04h-1.04zM43 50h1.04v1.04h-1.04z"/>
<path fill="#036ae1" d="M12 0h1.04v1.04h-1.04zM16 0h1.04v1.04h-1.04zM31 0h1.04v1.04h-1.04zM42 0h1.04v1.04h-1.04zM17 1h1.04v1.04h-1.04zM21 1h1.04v1.04h-1.04zM32 1h1.04v1.04h-1.04zM37 1h1.04v1.04h-1.04zM47 1h1.04v1.04h-1.04zM21 2h1.04v1.04h-1.04zM22 2h1.04v1.04h-1.04zM27 2h1.04v1.04h-1.04zM36 2h1.04v1.04h-1.04zM37 2h1.04v1.04h-1.04zM8 3h1.04v1.04h-1.04zM23 3h1.04v1.04h-1.04zM34 3h1.04v1.04h-1.04zM3 4h1.04v1.04h-1.04zM28 4h1.04v1.04h-1.04zM39 4h1.04v1.04h-1.04zM49 4h1.04v1.04h-1.04zM31 5h1.04v1.04h-1.04zM1 6h1.04v1.04h-1.04zM2 6h1.04v1.04h-1.04zM37 6h1.04v1.04h-1.04zM46 6h1.04v1.04h-1.04zM16 7h1.04v1.04h-1.04zM17 7h1.04v1.04h-1.04zM22 7h1.04v1.04h-1.04zM32 7h1.04v1.04h-1.04zM41 7h1.04v1.04h-1.04zM42 7h1.04v1.04h-1.04zM4 8h1.04v1.04h-1.04zM10 8h1.04v1.04h-1.04zM33 8h1.04v1.04h-1.04zM44 8h1.04v1.04h-1.04zM9 9h1.04v1.04h-1.04zM11 10h1.04v1.04h-1.04zM12 10h1.04v1.04h-1.04zM16 10h1.04v1.04h-1.04zM17 10h1.04v1.04h-1.04zM21 10h1.04v1.04h-1.04zM32 10h1.04v1.04h-1.04zM42 10h1.04v1.04h-1.04zM46 10h1.04v1.04h-1.04zM26 11h1.04v1.04h-1.04zM27 11h1.04v1.04h-1.04zM36 11h1.04v1.04h-1.04zM37 11h1.04v1.04h-1.04zM46 11h1.04v1.04h-1.04zM37 12h1.04v1.04h-1.04zM47 12h1.04v1.04h-1.04zM8 13h1.04v1.04h-1.04zM9 13h1.04v1.04h-1.04zM10 13h1.04v1.04h-1.04zM25 13h1.04v1.04h-1.04zM28 13h1.04v1.04h-1.04zM33 13h1.04v1.04h-1.04zM10 14h1.04v1.04h-1.04zM34 14h1.04v1.04h-1.04zM49 14h1.04v1.04h-1.04zM2 15h1.04v1.04h-1.04zM7 15h1.04v1.04h-1.04zM7 16h1.04v1.04h-1.04zM22 17h1.04v1.04h-1.04zM27 17h1.04v1.04h-1.04zM32 17h1.04v1.04h-1.04zM36 17h1.04v1.04h-1.04zM41 17h1.04v1.04h-1.04zM0 18h1.04v1.04h-1.04zM10 18h1.04v1.04h-1.04zM23 18h1.04v1.04h-1.04zM24 18h1.04v1.04h-1.04zM10 19h1.04v1.04h-1.04zM14 19h1.04v1.04h-1.04zM25 19h1.04v1.04h-1.04zM39 19h1.04v1.04h-1.04zM49 19h1.04v1.04h-1.04zM2 20h1.04v1.04h-1.04zM31 20h1.04v1.04h-1.04zM36 20h1.04v1.04h-1.04zM6 21h1.04v1.04h-1.04zM26 21h1.04v1.04h-1.04zM41 21h1.04v1.04h-1.04zM46 21h1.04v1.04h-1.04zM1 22h1.04v1.04h-1.04zM2 22h1.04v1.04h-1.04zM11 22h1.04v1.04h-1.04zM16 22h1.04v1.04h-1.04zM9 23h1.04v1.04h-1.04zM10 23h1.04v1.04h-1.04zM23 23h1.04v1.04h-1.04zM24 23h1.04v1.04h-1.04zM40 23h1.04v1.04h-1.04zM45 23h1.04v1.04h-1.04zM50 23h1.04v1.04h-1.04zM35 24h1.04v1.04h-1.04zM40 24h1.04v1.04h-1.04zM43 24h1.04v1.04h-1.04zM45 24h1.04v1.04h-1.04zM12 25h1.04v1.04h-1.04zM16 25h1.04v1.04h-1.04zM22 25h1.04v1.04h-1.04zM32 25h1.04v1.04h-1.04zM46 25h1.04v1.04h-1.04zM2 26h1.04v1.04h-1.04zM6 26h1.04v1.04h-1.04zM17 26h1.04v1.04h-1.04zM21 26h1.04v1.04h-1.04zM6 27h1.04v1.04h-1.04zM36 27h1.04v1.04h-1.04zM47 27h1.04v1.04h-1.04zM9 28h1.04v1.04h-1.04zM29 28h1.04v1.04h-1.04zM38 28h1.04v1.04h-1.04zM28 29h1.04v1.04h-1.04zM35 29h1.04v1.04h-1.04zM38 29h1.04v1.04h-1.04zM6 30h1.04v1.04h-1.04zM12 30h1.04v1.04h-1.04zM16 30h1.04v1.04h-1.04zM17 30h1.04v1.04h-1.04zM37 30h1.04v1.04h-1.04zM47 30h1.04v1.04h-1.04zM7 31h1.04v1.04h-1.04zM17 31h1.04v1.04h-1.04zM26 31h1.04v1.04h-1.04zM27 31h1.04v1.04h-1.04zM32 31h1.04v1.04h-1.04zM41 31h1.04v1.04h-1.04zM21 32h1.04v1.04h-1.04zM26 32h1.04v1.04h-1.04zM41 32h1.04v1.04h-1.04zM8 33h1.04v1.04h-1.04zM19 33h1.04v1.04h-1.04zM25 33h1.04v1.04h-1.04zM33 33h1.04v1.04h-1.04zM48 33h1.04v1.04h-1.04zM0 34h1.04v1.04h-1.04zM6 35h1.04v1.04h-1.04zM26 35h1.04v1.04h-1.04zM37 35h1.04v1.04h-1.04zM41 35h1.04v1.04h-1.04zM42 35h1.04v1.04h-1.04zM47 35h1.04v1.04h-1.04zM12 36h1.04v1.04h-1.04zM47 36h1.04v1.04h-1.04zM21 37h1.04v1.04h-1.04zM9 38h1.04v1.04h-1.04zM38 38h1.04v1.04h-1.04zM43 38h1.04v1.04h-1.04zM3 39h1.04v1.04h-1.04zM8 39h1.04v1.04h-1.04zM7 40h1.04v1.04h-1.04zM17 40h1.04v1.04h-1.04zM27 40h1.04v1.04h-1.04zM32 40h1.04v1.04h-1.04zM42 40h1.04v1.04h-1.04zM6 41h1.04v1.04h-1.04zM16 41h1.04v1.04h-1.04zM22 41h1.04v1.04h-1.04zM36 41h1.04v1.04h-1.04zM46 41h1.04v1.04h-1.04zM7 42h1.04v1.04h-1.04zM16 42h1.04v1.04h-1.04zM26 42h1.04v1.04h-1.04zM3 43h1.04v1.04h-1.04zM13 43h1.04v1.04h-1.04zM25 43h1.04v1.04h-1.04zM33 43h1.04v1.04h-1.04zM48 43h1.04v1.04h-1.04zM3 44h1.04v1.04h-1.04zM20 44h1.04v1.04h-1.04zM43 44h1.04v1.04h-1.04zM48 44h1.04v1.04h-1.04zM7 45h1.04v1.04h-1.04zM22 45h1.04v1.04h-1.04zM26 45h1.04v1.04h-1.04zM37 45h1.04v1.04h-1.04zM41 45h1.04v1.04h-1.04zM26 46h1.04v1.04h-1.04zM47 46h1.04v1.04h-1.04zM7 47h1.04v1.04h-1.04zM21 47h1.04v1.04h-1.04zM32 47h1.04v1.04h-1.04zM0 48h1.04v1.04h-1.04zM8 48h1.04v1.04h-1.04zM10 48h1.04v1.04h-1.04zM13 48h1.04v1.04h-1.04zM18 48h1.04v1.04h-1.04zM25 48h1.04v1.04h-1.04zM34 48h1.04v1.04h-1.04zM14 49h1.04v1.04h-1.04zM25 49h1.04v1.04h-1.04zM30 49h1.04v1.04h-1.04zM22 50h1.04v1.04h-1.04zM26 50h1.04v1.04h-1.04zM31 50h1.04v1.04h-1.04zM37 50h1.04v1.04h-1.04z"/>
<path fill="#089ad0" d="M13 0h1.04v1.04h-1.04zM15 0h1.04v1.04h-1.04zM18 0h1.04v1.04h-1.04zM4 1h1.04v1.04h-1.04zM5 2h1.04v1.04h-1.04zM34 2h1.04v1.04h-1.04zM3 5h1.04v1.04h-1.04zM15 5h1.04v1.04h-1.04zM25 5h1.04v1.04h-1.04zM49 5h1.04v1.04h-1.04zM18 6h1.04v1.04h-1.04zM28 6h1.04v1.04h-1.04zM4 7h1.04v1.04h-1.04zM8 7h1.04v1.04h-1.04zM39 7h1.04v1.04h-1.04zM48 7h1.04v1.04h-1.04zM13 10h1.04v1.04h-1.04zM18 11h1.04v1.04h-1.04zM3 12h1.04v1.04h-1.04zM39 12h1.04v1.04h-1.04zM3 16h1.04v1.04h-1.04zM4 16h1.04v1.04h-1.04zM23 17h1.04v1.04h-1.04zM45 17h1.04v1.04h-1.04zM45 20h1.04v1.04h-1.04zM50 20h1.04v1.04h-1.04zM49 21h1.04v1.04h-1.04zM4 22h1.04v1.04h-1.04zM34 22h1.04v1.04h-1.04zM40 22h1.04v1.04h-1.04zM8 25h1.04v1.04h-1.04zM9 25h1.04v1.04h-1.04zM8 26h1.04v1.04h-1.04zM9 26h1.04v1.04h-1.04zM18 26h1.04v1.04h-1.04zM25 30h1.04v1.04h-1.04zM29 30h1.04v1.04h-1.04zM19 31h1.04v1.04h-1.04zM28 31h1.04v1.04h-1.04zM35 31h1.04v1.04h-1.04zM43 31h1.04v1.04h-1.04zM10 32h1.04v1.04h-1.04zM14 32h1.04v1.04h-1.04zM43 32h1.04v1.04h-1.04zM29 35h1.04v1.04h-1.04zM10 36h1.04v1.04h-1.04zM43 36h1.04v1.04h-1.04zM20 37h1.04v1.04h-1.04zM25 37h1.04v1.04h-1.04zM40 37h1.04v1.04h-1.04zM43 37h1.04v1.04h-1.04zM0 40h1.04v1.04h-1.04zM4 40h1.04v1.04h-1.04zM5 40h1.04v1.04h-1.04zM30 40h1.04v1.04h-1.04zM39 40h1.04v1.04h-1.04zM35 41h1.04v1.04h-1.04zM39 41h1.04v1.04h-1.04zM18 42h1.04v1.04h-1.04zM49 42h1.04v1.04h-1.04zM19 45h1.04v1.04h-1.04zM48 45h1.04v1.04h-1.04zM28 46h1.04v1.04h-1.04zM0 47h1.04v1.04h-1.04zM39 47h1.04v1.04h-1.04zM20 50h1.04v1.04h-1.04z"/>
<path fill="#056ee0" d="M17 0h1.04v1.04h-1.04zM36 0h1.04v1.04h-1.04zM2 1h1.04v1.04h-1.04zM6 1h1.04v1.04h-1.04zM27 1h1.04v1.04h-1.04zM41 1h1.04v1.04h-1.04zM1 2h1.04v1.04h-1.04zM26 2h1.04v1.04h-1.04zM47 2h1.04v1.04h-1.04zM26 5h1.04v1.04h-1.04zM37 5h1.04v1.04h-1.04zM6 6h1.04v1.04h-1.04zM12 6h1.04v1.04h-1.04zM16 6h1.04v1.04h-1.04zM26 6h1.04v1.04h-1.04zM42 6h1.04v1.04h-1.04zM7 7h1.04v1.04h-1.04zM31 7h1.04v1.04h-1.04zM36 7h1.04v1.04h-1.04zM1 10h1.04v1.04h-1.04zM22 10h1.04v1.04h-1.04zM7 11h1.04v1.04h-1.04zM32 11h1.04v1.04h-1.04zM47 11h1.04v1.04h-1.04zM7 12h1.04v1.04h-1.04zM17 12h1.04v1.04h-1.04zM22 12h1.04v1.04h-1.04zM26 12h1.04v1.04h-1.04zM16 15h1.04v1.04h-1.04zM31 15h1.04v1.04h-1.04zM32 15h1.04v1.04h-1.04zM37 15h1.04v1.04h-1.04zM2 16h1.04v1.04h-1.04zM17 16h1.04v1.04h-1.04zM26 16h1.04v1.04h-1.04zM21 17h1.04v1.04h-1.04zM26 17h1.04v1.04h-1.04zM46 17h1.04v1.04h-1.04zM26 20h1.04v1.04h-1.04zM46 20h1.04v1.04h-1.04zM7 22h1.04v1.04h-1.04zM31 22h1.04v1.04h-1.04zM47 22h1.04v1.04h-1.04zM47 25h1.04v1.04h-1.04zM11 26h1.04v1.04h-1.04zM31 26h1.04v1.04h-1.04zM41 26h1.04v1.04h-1.04zM42 26h1.04v1.04h-1.04zM46 26h1.04v1.04h-1.04zM11 27h1.04v1.04h-1.04zM17 27h1.04v1.04h-1.04zM21 27h1.04v1.04h-1.04zM21 30h1.04v1.04h-1.04zM42 30h1.04v1.04h-1.04zM46 30h1.04v1.04h-1.04zM2 31h1.04v1.04h-1.04zM11 32h1.04v1.04h-1.04zM42 32h1.04v1.04h-1.04zM7 35h1.04v1.04h-1.04zM17 35h1.04v1.04h-1.04zM1 36h1.04v1.04h-1.04zM2 36h1.04v1.04h-1.04zM22 36h1.04v1.04h-1.04zM46 36h1.04v1.04h-1.04zM26 37h1.04v1.04h-1.04zM37 37h1.04v1.04h-1.04zM6 40h1.04v1.04h-1.04zM41 40h1.04v1.04h-1.04zM17 41h1.04v1.04h-1.04zM27 41h1.04v1.04h-1.04zM42 41h1.04v1.04h-1.04zM6 42h1.04v1.04h-1.04zM11 42h1.04v1.04h-1.04zM21 42h1.04v1.04h-1.04zM32 42h1.04v1.04h-1.04zM21 45h1.04v1.04h-1.04zM36 45h1.04v1.04h-1.04zM17 46h1.04v1.04h-1.04zM21 46h1.04v1.04h-1.04zM36 46h1.04v1.04h-1.04zM2 47h1.04v1.04h-1.04zM6 47h1.04v1.04h-1.04zM16 47h1.04v1.04h-1.04zM27 47h1.04v1.04h-1.04zM46 47h1.04v1.04h-1.04zM1 50h1.04v1.04h-1.04z"/>
<path fill="#0b95d2" d="M23 0h1.04v1.04h-1.04zM50 0h1.04v1.04h-1.04zM14 2h1.04v1.04h-1.04zM0 6h1.04v1.04h-1.04zM23 6h1.04v1.04h-1.04zM33 6h1.04v1.04h-1.04zM44 6h1.04v1.04h-1.04zM48 6h1.04v1.04h-1.04zM20 7h1.04v1.04h-1.04zM24 7h1.04v1.04h-1.04zM50 7h1.04v1.04h-1.04zM4 10h1.04v1.04h-1.04zM44 10h1.04v1.04h-1.04zM45 10h1.04v1.04h-1.04zM48 10h1.04v1.04h-1.04zM14 11h1.04v1.04h-1.04zM24 11h1.04v1.04h-1.04zM43 11h1.04v1.04h-1.04zM24 12h1.04v1.04h-1.04zM30 12h1.04v1.04h-1.04zM4 15h1.04v1.04h-1.04zM24 15h1.04v1.04h-1.04zM45 15h1.04v1.04h-1.04zM49 15h1.04v1.04h-1.04zM14 16h1.04v1.04h-1.04zM28 16h1.04v1.04h-1.04zM44 16h1.04v1.04h-1.04zM8 17h1.04v1.04h-1.04zM10 17h1.04v1.04h-1.04zM13 17h1.04v1.04h-1.04zM4 20h1.04v1.04h-1.04zM25 20h1.04v1.04h-1.04zM33 20h1.04v1.04h-1.04zM49 20h1.04v1.04h-1.04zM14 22h1.04v1.04h-1.04zM15 22h1.04v1.04h-1.04zM30 22h1.04v1.04h-1.04zM30 25h1.04v1.04h-1.04zM13 26h1.04v1.04h-1.04zM15 26h1.04v1.04h-1.04zM30 26h1.04v1.04h-1.04zM20 27h1.04v1.04h-1.04zM24 27h1.04v1.04h-1.04zM25 27h1.04v1.04h-1.04zM39 27h1.04v1.04h-1.04zM49 27h1.04v1.04h-1.04zM9 30h1.04v1.04h-1.04zM18 30h1.04v1.04h-1.04zM40 30h1.04v1.04h-1.04zM3 32h1.04v1.04h-1.04zM33 32h1.04v1.04h-1.04zM5 35h1.04v1.04h-1.04zM10 35h1.04v1.04h-1.04zM44 35h1.04v1.04h-1.04zM48 35h1.04v1.04h-1.04zM50 36h1.04v1.04h-1.04zM50 37h1.04v1.04h-1.04zM23 40h1.04v1.04h-1.04zM35 40h1.04v1.04h-1.04zM4 42h1.04v1.04h-1.04zM38 42h1.04v1.04h-1.04zM34 45h1.04v1.04h-1.04zM14 46h1.04v1.04h-1.04zM24 46h1.04v1.04h-1.04zM30 46h1.04v1.04h-1.04zM38 46h1.04v1.04h-1.04zM44 46h1.04v1.04h-1.04zM23 47h1.04v1.04h-1.04zM38 47h1.04v1.04h-1.04zM14 50h1.04v1.04h-1.04zM25 50h1.04v1.04h-1.04zM35 50h1.04v1.04h-1.04zM40 50h1.04v1.04h-1.04zM48 50h1.04v1.04h-1.04zM50 50h1.04v1.04h-1.04z"/>
<path fill="#0998d1" d="M24 0h1.04v1.04h-1.04zM34 0h1.04v1.04h-1.04zM5 1h1.04v1.04h-1.04zM15 1h1.04v1.04h-1.04zM20 1h1.04v1.04h-1.04zM44 1h1.04v1.04h-1.04zM45 5h1.04v1.04h-1.04zM19 10h1.04v1.04h-1.04zM38 10h1.04v1.04h-1.04zM20 11h1.04v1.04h-1.04zM30 11h1.04v1.04h-1.04zM9 12h1.04v1.04h-1.04zM15 12h1.04v1.04h-1.04zM43 12h1.04v1.04h-1.04zM14 15h1.04v1.04h-1.04zM33 15h1.04v1.04h-1.04zM5 16h1.04v1.04h-1.04zM20 16h1.04v1.04h-1.04zM38 16h1.04v1.04h-1.04zM3 17h1.04v1.04h-1.04zM15 17h1.04v1.04h-1.04zM30 17h1.04v1.04h-1.04zM19 20h1.04v1.04h-1.04zM38 20h1.04v1.04h-1.04zM39 20h1.04v1.04h-1.04zM40 20h1.04v1.04h-1.04zM48 20h1.04v1.04h-1.04zM18 21h1.04v1.04h-1.04zM40 21h1.04v1.04h-1.04zM3 25h1.04v1.04h-1.04zM13 25h1.04v1.04h-1.04zM39 25h1.04v1.04h-1.04zM40 25h1.04v1.04h-1.04zM10 26h1.04v1.04h-1.04zM33 26h1.04v1.04h-1.04zM50 26h1.04v1.04h-1.04zM20 30h1.04v1.04h-1.04zM23 30h1.04v1.04h-1.04zM0 31h1.04v1.04h-1.04zM9 31h1.04v1.04h-1.04zM13 31h1.04v1.04h-1.04zM9 32h1.04v1.04h-1.04zM28 32h1.04v1.04h-1.04zM15 35h1.04v1.04h-1.04zM18 35h1.04v1.04h-1.04zM5 37h1.04v1.04h-1.04zM19 37h1.04v1.04h-1.04zM28 37h1.04v1.04h-1.04zM29 37h1.04v1.04h-1.04zM44 37h1.04v1.04h-1.04zM48 37h1.04v1.04h-1.04zM38 40h1.04v1.04h-1.04zM45 40h1.04v1.04h-1.04zM38 41h1.04v1.04h-1.04zM24 45h1.04v1.04h-1.04zM43 45h1.04v1.04h-1.04zM25 46h1.04v1.04h-1.04zM30 50h1.04v1.04h-1.04z"/>
<path fill="#1486d4" d="M25 0h1.04v1.04h-1.04zM35 0h1.04v1.04h-1.04zM43 0h1.04v1.04h-1.04zM45 0h1.04v1.04h-1.04zM43 1h1.04v1.04h-1.04zM0 5h1.04v1.04h-1.04zM15 6h1.04v1.04h-1.04zM38 6h1.04v1.04h-1.04zM43 6h1.04v1.04h-1.04zM45 6h1.04v1.04h-1.04zM35 7h1.04v1.04h-1.04zM45 7h1.04v1.04h-1.04zM35 10h1.04v1.04h-1.04zM39 10h1.04v1.04h-1.04zM40 10h1.04v1.04h-1.04zM3 11h1.04v1.04h-1.04zM19 12h1.04v1.04h-1.04zM20 12h1.04v1.04h-1.04zM25 15h1.04v1.04h-1.04zM44 15h1.04v1.04h-1.04zM0 16h1.04v1.04h-1.04zM40 17h1.04v1.04h-1.04zM0 21h1.04v1.04h-1.04zM30 21h1.04v1.04h-1.04zM29 25h1.04v1.04h-1.04zM33 25h1.04v1.04h-1.04zM45 25h1.04v1.04h-1.04zM0 26h1.04v1.04h-1.04zM14 27h1.04v1.04h-1.04zM45 27h1.04v1.04h-1.04zM4 30h1.04v1.04h-1.04zM19 30h1.04v1.04h-1.04zM34 30h1.04v1.04h-1.04zM20 31h1.04v1.04h-1.04zM25 31h1.04v1.04h-1.04zM5 32h1.04v1.04h-1.04zM49 32h1.04v1.04h-1.04zM24 35h1.04v1.04h-1.04zM39 35h1.04v1.04h-1.04zM40 36h1.04v1.04h-1.04zM4 37h1.04v1.04h-1.04zM35 37h1.04v1.04h-1.04zM10 40h1.04v1.04h-1.04zM20 40h1.04v1.04h-1.04zM43 40h1.04v1.04h-1.04zM10 41h1.04v1.04h-1.04zM23 41h1.04v1.04h-1.04zM50 41h1.04v1.04h-1.04zM10 42h1.04v1.04h-1.04zM43 42h1.04v1.04h-1.04zM3 45h1.04v1.04h-1.04zM5 45h1.04v1.04h-1.04zM33 45h1.04v1.04h-1.04zM39 45h1.04v1.04h-1.04zM8 46h1.04v1.04h-1.04zM4 47h1.04v1.04h-1.04zM35 47h1.04v1.04h-1.04zM0 50h1.04v1.04h-1.04zM34 50h1.04v1.04h-1.04z"/>
<path fill="#079cd0" d="M28 0h1.04v1.04h-1.04zM0 2h1.04v1.04h-1.04zM13 2h1.04v1.04h-1.04zM45 2h1.04v1.04h-1.04zM8 5h1.04v1.04h-1.04zM40 6h1.04v1.04h-1.04zM25 7h1.04v1.04h-1.04zM3 10h1.04v1.04h-1.04zM0 11h1.04v1.04h-1.04zM19 11h1.04v1.04h-1.04zM44 11h1.04v1.04h-1.04zM44 12h1.04v1.04h-1.04zM8 15h1.04v1.04h-1.04zM18 15h1.04v1.04h-1.04zM48 15h1.04v1.04h-1.04zM13 16h1.04v1.04h-1.04zM15 16h1.04v1.04h-1.04zM33 16h1.04v1.04h-1.04zM18 17h1.04v1.04h-1.04zM28 17h1.04v1.04h-1.04zM35 17h1.04v1.04h-1.04zM10 20h1.04v1.04h-1.04zM15 20h1.04v1.04h-1.04zM13 21h1.04v1.04h-1.04zM14 21h1.04v1.04h-1.04zM5 22h1.04v1.04h-1.04zM9 22h1.04v1.04h-1.04zM33 22h1.04v1.04h-1.04zM0 25h1.04v1.04h-1.04zM34 25h1.04v1.04h-1.04zM20 26h1.04v1.04h-1.04zM44 26h1.04v1.04h-1.04zM4 27h1.04v1.04h-1.04zM9 27h1.04v1.04h-1.04zM13 27h1.04v1.04h-1.04zM34 27h1.04v1.04h-1.04zM48 27h1.04v1.04h-1.04zM5 30h1.04v1.04h-1.04zM38 30h1.04v1.04h-1.04zM48 30h1.04v1.04h-1.04zM5 31h1.04v1.04h-1.04zM23 31h1.04v1.04h-1.04zM38 31h1.04v1.04h-1.04zM40 31h1.04v1.04h-1.04zM48 31h1.04v1.04h-1.04zM35 32h1.04v1.04h-1.04zM39 32h1.04v1.04h-1.04zM28 35h1.04v1.04h-1.04zM34 36h1.04v1.04h-1.04zM3 37h1.04v1.04h-1.04zM10 37h1.04v1.04h-1.04zM45 37h1.04v1.04h-1.04zM8 40h1.04v1.04h-1.04zM50 40h1.04v1.04h-1.04zM50 42h1.04v1.04h-1.04zM0 45h1.04v1.04h-1.04zM20 45h1.04v1.04h-1.04zM29 45h1.04v1.04h-1.04zM13 46h1.04v1.04h-1.04zM29 46h1.04v1.04h-1.04zM34 46h1.04v1.04h-1.04zM35 46h1.04v1.04h-1.04zM3 47h1.04v1.04h-1.04zM19 47h1.04v1.04h-1.04zM31 47h1.04v1.04h-1.04zM40 47h1.04v1.04h-1.04zM8 50h1.04v1.04h-1.04zM19 50h1.04v1.04h-1.04zM29 50h1.04v1.04h-1.04zM38 50h1.04v1.04h-1.04z"/>
<path fill="#108fd2" d="M40 0h1.04v1.04h-1.04zM10 1h1.04v1.04h-1.04zM18 1h1.04v1.04h-1.04zM40 1h1.04v1.04h-1.04zM35 2h1.04v1.04h-1.04zM9 5h1.04v1.04h-1.04zM13 5h1.04v1.04h-1.04zM48 5h1.04v1.04h-1.04zM35 6h1.04v1.04h-1.04zM0 7h1.04v1.04h-1.04zM3 7h1.04v1.04h-1.04zM18 10h1.04v1.04h-1.04zM23 10h1.04v1.04h-1.04zM24 10h1.04v1.04h-1.04zM9 11h1.04v1.04h-1.04zM39 11h1.04v1.04h-1.04zM48 11h1.04v1.04h-1.04zM10 12h1.04v1.04h-1.04zM15 15h1.04v1.04h-1.04zM34 15h1.04v1.04h-1.04zM35 15h1.04v1.04h-1.04zM8 16h1.04v1.04h-1.04zM23 16h1.04v1.04h-1.04zM25 16h1.04v1.04h-1.04zM50 16h1.04v1.04h-1.04zM9 17h1.04v1.04h-1.04zM25 17h1.04v1.04h-1.04zM50 17h1.04v1.04h-1.04zM44 20h1.04v1.04h-1.04zM4 21h1.04v1.04h-1.04zM19 21h1.04v1.04h-1.04zM25 21h1.04v1.04h-1.04zM45 21h1.04v1.04h-1.04zM13 22h1.04v1.04h-1.04zM24 22h1.04v1.04h-1.04zM14 25h1.04v1.04h-1.04zM28 25h1.04v1.04h-1.04zM24 26h1.04v1.04h-1.04zM28 26h1.04v1.04h-1.04zM23 27h1.04v1.04h-1.04zM33 30h1.04v1.04h-1.04zM44 30h1.04v1.04h-1.04zM3 31h1.04v1.04h-1.04zM33 31h1.04v1.04h-1.04zM39 31h1.04v1.04h-1.04zM30 32h1.04v1.04h-1.04zM30 35h1.04v1.04h-1.04zM0 36h1.04v1.04h-1.04zM5 36h1.04v1.04h-1.04zM14 36h1.04v1.04h-1.04zM18 36h1.04v1.04h-1.04zM24 36h1.04v1.04h-1.04zM45 36h1.04v1.04h-1.04zM9 37h1.04v1.04h-1.04zM3 40h1.04v1.04h-1.04zM19 40h1.04v1.04h-1.04zM48 40h1.04v1.04h-1.04zM13 41h1.04v1.04h-1.04zM15 41h1.04v1.04h-1.04zM18 41h1.04v1.04h-1.04zM20 41h1.04v1.04h-1.04zM15 42h1.04v1.04h-1.04zM23 42h1.04v1.04h-1.04zM13 45h1.04v1.04h-1.04zM30 45h1.04v1.04h-1.04zM45 45h1.04v1.04h-1.04zM50 45h1.04v1.04h-1.04zM0 46h1.04v1.04h-1.04zM10 46h1.04v1.04h-1.04zM33 46h1.04v1.04h-1.04zM43 46h1.04v1.04h-1.04zM23 50h1.04v1.04h-1.04zM33 50h1.04v1.04h-1.04z"/>
<path fill="#118dd2" d="M0 1h1.04v1.04h-1.04zM28 2h1.04v1.04h-1.04zM20 5h1.04v1.04h-1.04zM24 5h1.04v1.04h-1.04zM28 7h1.04v1.04h-1.04zM30 7h1.04v1.04h-1.04zM33 7h1.04v1.04h-1.04zM34 7h1.04v1.04h-1.04zM5 10h1.04v1.04h-1.04zM10 10h1.04v1.04h-1.04zM20 10h1.04v1.04h-1.04zM29 10h1.04v1.04h-1.04zM49 10h1.04v1.04h-1.04zM15 11h1.04v1.04h-1.04zM25 11h1.04v1.04h-1.04zM0 12h1.04v1.04h-1.04zM23 12h1.04v1.04h-1.04zM45 12h1.04v1.04h-1.04zM19 15h1.04v1.04h-1.04zM20 15h1.04v1.04h-1.04zM19 16h1.04v1.04h-1.04zM24 16h1.04v1.04h-1.04zM35 16h1.04v1.04h-1.04zM48 16h1.04v1.04h-1.04zM24 17h1.04v1.04h-1.04zM44 17h1.04v1.04h-1.04zM5 20h1.04v1.04h-1.04zM14 20h1.04v1.04h-1.04zM18 20h1.04v1.04h-1.04zM30 20h1.04v1.04h-1.04zM35 20h1.04v1.04h-1.04zM9 21h1.04v1.04h-1.04zM0 22h1.04v1.04h-1.04zM19 22h1.04v1.04h-1.04zM5 26h1.04v1.04h-1.04zM38 26h1.04v1.04h-1.04zM10 27h1.04v1.04h-1.04zM24 30h1.04v1.04h-1.04zM39 30h1.04v1.04h-1.04zM4 31h1.04v1.04h-1.04zM50 31h1.04v1.04h-1.04zM20 32h1.04v1.04h-1.04zM38 32h1.04v1.04h-1.04zM50 35h1.04v1.04h-1.04zM20 36h1.04v1.04h-1.04zM35 36h1.04v1.04h-1.04zM18 37h1.04v1.04h-1.04zM34 37h1.04v1.04h-1.04zM38 37h1.04v1.04h-1.04zM13 40h1.04v1.04h-1.04zM5 41h1.04v1.04h-1.04zM9 41h1.04v1.04h-1.04zM28 41h1.04v1.04h-1.04zM30 41h1.04v1.04h-1.04zM33 41h1.04v1.04h-1.04zM43 41h1.04v1.04h-1.04zM0 42h1.04v1.04h-1.04zM8 42h1.04v1.04h-1.04zM25 42h1.04v1.04h-1.04zM29 42h1.04v1.04h-1.04zM30 42h1.04v1.04h-1.04zM18 45h1.04v1.04h-1.04zM28 45h1.04v1.04h-1.04zM40 46h1.04v1.04h-1.04zM45 47h1.04v1.04h-1.04zM50 47h1.04v1.04h-1.04zM4 50h1.04v1.04h-1.04zM13 50h1.04v1.04h-1.04zM15 50h1.04v1.04h-1.04zM49 50h1.04v1.04h-1.04z"/>
<path fill="#1483d5" d="M33 2h1.04v1.04h-1.04zM19 7h1.04v1.04h-1.04zM43 16h1.04v1.04h-1.04zM33 17h1.04v1.04h-1.04zM20 21h1.04v1.04h-1.04zM10 25h1.04v1.04h-1.04zM23 25h1.04v1.04h-1.04zM49 25h1.04v1.04h-1.04zM8 30h1.04v1.04h-1.04zM29 32h1.04v1.04h-1.04zM43 47h1.04v1.04h-1.04zM49 47h1.04v1.04h-1.04z"/>
<path fill="#0365e1" d="M1 3h1.04v1.04h-1.04zM9 3h1.04v1.04h-1.04zM10 3h1.04v1.04h-1.04zM13 3h1.04v1.04h-1.04zM15 3h1.04v1.04h-1.04zM27 3h1.04v1.04h-1.04zM28 3h1.04v1.04h-1.04zM29 3h1.04v1.04h-1.04zM30 3h1.04v1.04h-1.04zM32 3h1.04v1.04h-1.04zM35 3h1.04v1.04h-1.04zM49 3h1.04v1.04h-1.04zM1 4h1.04v1.04h-1.04zM9 4h1.04v1.04h-1.04zM10 4h1.04v1.04h-1.04zM20 4h1.04v1.04h-1.04zM30 4h1.04v1.04h-1.04zM32 4h1.04v1.04h-1.04zM33 4h1.04v1.04h-1.04zM38 4h1.04v1.04h-1.04zM40 4h1.04v1.04h-1.04zM44 4h1.04v1.04h-1.04zM48 4h1.04v1.04h-1.04zM50 4h1.04v1.04h-1.04zM0 8h1.04v1.04h-1.04zM3 8h1.04v1.04h-1.04zM7 8h1.04v1.04h-1.04zM20 8h1.04v1.04h-1.04zM23 8h1.04v1.04h-1.04zM25 8h1.04v1.04h-1.04zM26 8h1.04v1.04h-1.04zM38 8h1.04v1.04h-1.04zM39 8h1.04v1.04h-1.04zM0 9h1.04v1.04h-1.04zM3 9h1.04v1.04h-1.04zM15 9h1.04v1.04h-1.04zM19 9h1.04v1.04h-1.04zM20 9h1.04v1.04h-1.04zM24 9h1.04v1.04h-1.04zM29 9h1.04v1.04h-1.04zM30 9h1.04v1.04h-1.04zM40 9h1.04v1.04h-1.04zM43 9h1.04v1.04h-1.04zM45 9h1.04v1.04h-1.04zM49 9h1.04v1.04h-1.04zM13 13h1.04v1.04h-1.04zM16 13h1.04v1.04h-1.04zM23 13h1.04v1.04h-1.04zM24 13h1.04v1.04h-1.04zM31 13h1.04v1.04h-1.04zM38 13h1.04v1.04h-1.04zM40 13h1.04v1.04h-1.04zM3 14h1.04v1.04h-1.04zM5 14h1.04v1.04h-1.04zM8 14h1.04v1.04h-1.04zM9 14h1.04v1.04h-1.04zM15 14h1.04v1.04h-1.04zM17 14h1.04v1.04h-1.04zM23 14h1.04v1.04h-1.04zM29 14h1.04v1.04h-1.04zM30 14h1.04v1.04h-1.04zM32 14h1.04v1.04h-1.04zM36 14h1.04v1.04h-1.04zM43 14h1.04v1.04h-1.04zM44 14h1.04v1.04h-1.04zM48 14h1.04v1.04h-1.04zM7 18h1.04v1.04h-1.04zM9 18h1.04v1.04h-1.04zM17 18h1.04v1.04h-1.04zM25 18h1.04v1.04h-1.04zM34 18h1.04v1.04h-1.04zM37 18h1.04v1.04h-1.04zM42 18h1.04v1.04h-1.04zM45 18h1.04v1.04h-1.04zM50 18h1.04v1.04h-1.04zM0 19h1.04v1.04h-1.04zM2 19h1.04v1.04h-1.04zM3 19h1.04v1.04h-1.04zM5 19h1.04v1.04h-1.04zM8 19h1.04v1.04h-1.04zM11 19h1.04v1.04h-1.04zM13 19h1.04v1.04h-1.04zM15 19h1.04v1.04h-1.04zM19 19h1.04v1.04h-1.04zM22 19h1.04v1.04h-1.04zM23 19h1.04v1.04h-1.04zM24 19h1.04v1.04h-1.04zM30 19h1.04v1.04h-1.04zM38 19h1.04v1.04h-1.04zM43 19h1.04v1.04h-1.04zM48 19h1.04v1.04h-1.04zM50 19h1.04v1.04h-1.04zM0 23h1.04v1.04h-1.04zM1 23h1.04v1.04h-1.04zM14 23h1.04v1.04h-1.04zM18 23h1.04v1.04h-1.04zM19 23h1.04v1.04h-1.04zM21 23h1.04v1.04h-1.04zM30 23h1.04v1.04h-1.04zM43 23h1.04v1.04h-1.04zM48 23h1.04v1.04h-1.04zM49 23h1.04v1.04h-1.04zM3 24h1.04v1.04h-1.04zM4 24h1.04v1.04h-1.04zM22 24h1.04v1.04h-1.04zM25 24h1.04v1.04h-1.04zM26 24h1.04v1.04h-1.04zM39 24h1.04v1.04h-1.04zM3 28h1.04v1.04h-1.04zM10 28h1.04v1.04h-1.04zM14 28h1.04v1.04h-1.04zM18 28h1.04v1.04h-1.04zM20 28h1.04v1.04h-1.04zM21 28h1.04v1.04h-1.04zM33 28h1.04v1.04h-1.04zM39 28h1.04v1.04h-1.04zM43 28h1.04v1.04h-1.04zM44 28h1.04v1.04h-1.04zM49 28h1.04v1.04h-1.04zM3 29h1.04v1.04h-1.04zM5 29h1.04v1.04h-1.04zM36 29h1.04v1.04h-1.04zM40 29h1.04v1.04h-1.04zM42 29h1.04v1.04h-1.04zM43 29h1.04v1.04h-1.04zM45 29h1.04v1.04h-1.04zM46 29h1.04v1.04h-1.04zM0 33h1.04v1.04h-1.04zM3 33h1.04v1.04h-1.04zM10 33h1.04v1.04h-1.04zM13 33h1.04v1.04h-1.04zM18 33h1.04v1.04h-1.04zM28 33h1.04v1.04h-1.04zM29 33h1.04v1.04h-1.04zM35 33h1.04v1.04h-1.04zM39 33h1.04v1.04h-1.04zM45 33h1.04v1.04h-1.04zM1 34h1.04v1.04h-1.04zM3 34h1.04v1.04h-1.04zM5 34h1.04v1.04h-1.04zM8 34h1.04v1.04h-1.04zM15 34h1.04v1.04h-1.04zM18 34h1.04v1.04h-1.04zM20 34h1.04v1.04h-1.04zM21 34h1.04v1.04h-1.04zM24 34h1.04v1.04h-1.04zM28 34h1.04v1.04h-1.04zM33 34h1.04v1.04h-1.04zM4 38h1.04v1.04h-1.04zM10 38h1.04v1.04h-1.04zM11 38h1.04v1.04h-1.04zM16 38h1.04v1.04h-1.04zM19 38h1.04v1.04h-1.04zM22 38h1.04v1.04h-1.04zM23 38h1.04v1.04h-1.04zM24 38h1.04v1.04h-1.04zM25 38h1.04v1.04h-1.04zM30 38h1.04v1.04h-1.04zM34 38h1.04v1.04h-1.04zM39 38h1.04v1.04h-1.04zM41 38h1.04v1.04h-1.04zM45 38h1.04v1.04h-1.04zM46 38h1.04v1.04h-1.04zM5 39h1.04v1.04h-1.04zM11 39h1.04v1.04h-1.04zM25 39h1.04v1.04h-1.04zM26 39h1.04v1.04h-1.04zM27 39h1.04v1.04h-1.04zM31 39h1.04v1.04h-1.04zM33 39h1.04v1.04h-1.04zM34 39h1.04v1.04h-1.04zM40 39h1.04v1.04h-1.04zM41 39h1.04v1.04h-1.04zM42 39h1.04v1.04h-1.04zM45 39h1.04v1.04h-1.04zM46 39h1.04v1.04h-1.04zM50 39h1.04v1.04h-1.04zM1 43h1.04v1.04h-1.04zM5 43h1.04v1.04h-1.04zM7 43h1.04v1.04h-1.04zM27 43h1.04v1.04h-1.04zM30 43h1.04v1.04h-1.04zM32 43h1.04v1.04h-1.04zM35 43h1.04v1.04h-1.04zM38 43h1.04v1.04h-1.04zM50 43h1.04v1.04h-1.04zM1 44h1.04v1.04h-1.04zM2 44h1.04v1.04h-1.04zM5 44h1.04v1.04h-1.04zM21 44h1.04v1.04h-1.04zM22 44h1.04v1.04h-1.04zM24 44h1.04v1.04h-1.04zM27 44h1.04v1.04h-1.04zM31 44h1.04v1.04h-1.04zM33 44h1.04v1.04h-1.04zM35 44h1.04v1.04h-1.04zM40 44h1.04v1.04h-1.04zM41 44h1.04v1.04h-1.04zM45 44h1.04v1.04h-1.04zM4 48h1.04v1.04h-1.04zM5 48h1.04v1.04h-1.04zM9 48h1.04v1.04h-1.04zM23 48h1.04v1.04h-1.04zM26 48h1.04v1.04h-1.04zM27 48h1.04v1.04h-1.04zM33 48h1.04v1.04h-1.04zM35 48h1.04v1.04h-1.04zM38 48h1.04v1.04h-1.04zM50 48h1.04v1.04h-1.04zM3 49h1.04v1.04h-1.04zM9 49h1.04v1.04h-1.04zM19 49h1.04v1.04h-1.04zM23 49h1.04v1.04h-1.04zM28 49h1.04v1.04h-1.04zM29 49h1.04v1.04h-1.04zM33 49h1.04v1.04h-1.04zM38 49h1.04v1.04h-1.04z"/>
<path fill="#0d5dde" d="M2 3h1.04v1.04h-1.04zM7 3h1.04v1.04h-1.04zM16 3h1.04v1.04h-1.04zM36 3h1.04v1.04h-1.04zM41 3h1.04v1.04h-1.04zM46 3h1.04v1.04h-1.04zM47 3h1.04v1.04h-1.04zM7 4h1.04v1.04h-1.04zM16 8h1.04v1.04h-1.04zM27 8h1.04v1.04h-1.04zM41 8h1.04v1.04h-1.04zM47 8h1.04v1.04h-1.04zM6 9h1.04v1.04h-1.04zM11 9h1.04v1.04h-1.04zM12 9h1.04v1.04h-1.04zM17 9h1.04v1.04h-1.04zM21 9h1.04v1.04h-1.04zM22 9h1.04v1.04h-1.04zM37 9h1.04v1.04h-1.04zM42 9h1.04v1.04h-1.04zM46 9h1.04v1.04h-1.04zM1 13h1.04v1.04h-1.04zM32 13h1.04v1.04h-1.04zM36 13h1.04v1.04h-1.04zM37 13h1.04v1.04h-1.04zM6 14h1.04v1.04h-1.04zM11 14h1.04v1.04h-1.04zM22 14h1.04v1.04h-1.04zM26 14h1.04v1.04h-1.04zM37 14h1.04v1.04h-1.04zM46 14h1.04v1.04h-1.04zM1 18h1.04v1.04h-1.04zM21 18h1.04v1.04h-1.04zM36 18h1.04v1.04h-1.04zM41 18h1.04v1.04h-1.04zM17 19h1.04v1.04h-1.04zM21 19h1.04v1.04h-1.04zM26 19h1.04v1.04h-1.04zM12 23h1.04v1.04h-1.04zM27 23h1.04v1.04h-1.04zM46 23h1.04v1.04h-1.04zM6 28h1.04v1.04h-1.04zM7 29h1.04v1.04h-1.04zM16 29h1.04v1.04h-1.04zM26 29h1.04v1.04h-1.04zM27 29h1.04v1.04h-1.04zM47 29h1.04v1.04h-1.04zM12 33h1.04v1.04h-1.04zM6 34h1.04v1.04h-1.04zM7 34h1.04v1.04h-1.04zM26 34h1.04v1.04h-1.04zM6 38h1.04v1.04h-1.04zM27 38h1.04v1.04h-1.04zM36 38h1.04v1.04h-1.04zM42 38h1.04v1.04h-1.04zM1 39h1.04v1.04h-1.04zM2 39h1.04v1.04h-1.04zM6 39h1.04v1.04h-1.04zM7 39h1.04v1.04h-1.04zM16 39h1.04v1.04h-1.04zM21 39h1.04v1.04h-1.04zM26 43h1.04v1.04h-1.04zM47 43h1.04v1.04h-1.04zM7 44h1.04v1.04h-1.04zM6 49h1.04v1.04h-1.04zM7 49h1.04v1.04h-1.04zM12 49h1.04v1.04h-1.04zM22 49h1.04v1.04h-1.04zM32 49h1.04v1.04h-1.04zM42 49h1.04v1.04h-1.04z"/>
<path fill="#1957d8" d="M6 3h1.04v1.04h-1.04zM11 3h1.04v1.04h-1.04zM42 3h1.04v1.04h-1.04zM12 4h1.04v1.04h-1.04zM42 4h1.04v1.04h-1.04zM32 8h1.04v1.04h-1.04zM46 8h1.04v1.04h-1.04zM2 9h1.04v1.04h-1.04zM7 9h1.04v1.04h-1.04zM26 9h1.04v1.04h-1.04zM41 9h1.04v1.04h-1.04zM7 13h1.04v1.04h-1.04zM17 13h1.04v1.04h-1.04zM22 13h1.04v1.04h-1.04zM1 14h1.04v1.04h-1.04zM16 14h1.04v1.04h-1.04zM21 14h1.04v1.04h-1.04zM11 18h1.04v1.04h-1.04zM22 18h1.04v1.04h-1.04zM7 19h1.04v1.04h-1.04zM31 23h1.04v1.04h-1.04zM42 23h1.04v1.04h-1.04zM1 24h1.04v1.04h-1.04zM12 24h1.04v1.04h-1.04zM21 24h1.04v1.04h-1.04zM37 24h1.04v1.04h-1.04zM2 28h1.04v1.04h-1.04zM12 28h1.04v1.04h-1.04zM27 28h1.04v1.04h-1.04zM37 28h1.04v1.04h-1.04zM41 28h1.04v1.04h-1.04zM46 28h1.04v1.04h-1.04zM37 29h1.04v1.04h-1.04zM2 33h1.04v1.04h-1.04zM6 33h1.04v1.04h-1.04zM36 33h1.04v1.04h-1.04zM41 33h1.04v1.04h-1.04zM12 34h1.04v1.04h-1.04zM31 34h1.04v1.04h-1.04zM41 34h1.04v1.04h-1.04zM2 38h1.04v1.04h-1.04zM26 38h1.04v1.04h-1.04zM31 38h1.04v1.04h-1.04zM32 38h1.04v1.04h-1.04zM12 39h1.04v1.04h-1.04zM17 39h1.04v1.04h-1.04zM2 43h1.04v1.04h-1.04zM16 43h1.04v1.04h-1.04zM17 43h1.04v1.04h-1.04zM42 44h1.04v1.04h-1.04zM7 48h1.04v1.04h-1.04zM16 48h1.04v1.04h-1.04zM36 48h1.04v1.04h-1.04zM47 48h1.04v1.04h-1.04zM17 49h1.04v1.04h-1.04z"/>
<path fill="#125adc" d="M12 3h1.04v1.04h-1.04zM17 3h1.04v1.04h-1.04zM21 3h1.04v1.04h-1.04zM22 4h1.04v1.04h-1.04zM26 4h1.04v1.04h-1.04zM11 8h1.04v1.04h-1.04zM31 8h1.04v1.04h-1.04zM1 9h1.04v1.04h-1.04zM27 9h1.04v1.04h-1.04zM31 9h1.04v1.04h-1.04zM36 9h1.04v1.04h-1.04zM12 13h1.04v1.04h-1.04zM27 13h1.04v1.04h-1.04zM42 13h1.04v1.04h-1.04zM27 14h1.04v1.04h-1.04zM31 14h1.04v1.04h-1.04zM41 14h1.04v1.04h-1.04zM32 18h1.04v1.04h-1.04zM46 18h1.04v1.04h-1.04zM6 19h1.04v1.04h-1.04zM12 19h1.04v1.04h-1.04zM16 19h1.04v1.04h-1.04zM31 19h1.04v1.04h-1.04zM37 19h1.04v1.04h-1.04zM41 19h1.04v1.04h-1.04zM6 23h1.04v1.04h-1.04zM32 23h1.04v1.04h-1.04zM17 24h1.04v1.04h-1.04zM27 24h1.04v1.04h-1.04zM41 24h1.04v1.04h-1.04zM46 24h1.04v1.04h-1.04zM47 24h1.04v1.04h-1.04zM1 28h1.04v1.04h-1.04zM22 28h1.04v1.04h-1.04zM26 28h1.04v1.04h-1.04zM47 28h1.04v1.04h-1.04zM1 29h1.04v1.04h-1.04zM2 29h1.04v1.04h-1.04zM12 29h1.04v1.04h-1.04zM21 29h1.04v1.04h-1.04zM22 29h1.04v1.04h-1.04zM31 29h1.04v1.04h-1.04zM41 29h1.04v1.04h-1.04zM1 33h1.04v1.04h-1.04zM17 33h1.04v1.04h-1.04zM26 33h1.04v1.04h-1.04zM42 33h1.04v1.04h-1.04zM46 33h1.04v1.04h-1.04zM2 34h1.04v1.04h-1.04zM11 34h1.04v1.04h-1.04zM37 34h1.04v1.04h-1.04zM42 34h1.04v1.04h-1.04zM46 34h1.04v1.04h-1.04zM47 34h1.04v1.04h-1.04zM22 39h1.04v1.04h-1.04zM32 39h1.04v1.04h-1.04zM36 39h1.04v1.04h-1.04zM21 43h1.04v1.04h-1.04zM22 43h1.04v1.04h-1.04zM31 43h1.04v1.04h-1.04zM36 43h1.04v1.04h-1.04zM37 43h1.04v1.04h-1.04zM6 44h1.04v1.04h-1.04zM26 44h1.04v1.04h-1.04zM37 44h1.04v1.04h-1.04zM12 48h1.04v1.04h-1.04zM21 48h1.04v1.04h-1.04zM22 48h1.04v1.04h-1.04zM37 48h1.04v1.04h-1.04zM41 48h1.04v1.04h-1.04zM1 49h1.04v1.04h-1.04zM16 49h1.04v1.04h-1.04zM26 49h1.04v1.04h-1.04zM27 49h1.04v1.04h-1.04zM47 49h1.04v1.04h-1.04z"/>
<path fill="#0462e1" d="M22 3h1.04v1.04h-1.04zM25 3h1.04v1.04h-1.04zM26 3h1.04v1.04h-1.04zM37 3h1.04v1.04h-1.04zM44 3h1.04v1.04h-1.04zM0 4h1.04v1.04h-1.04zM4 4h1.04v1.04h-1.04zM6 4h1.04v1.04h-1.04zM8 4h1.04v1.04h-1.04zM11 4h1.04v1.04h-1.04zM21 4h1.04v1.04h-1.04zM27 4h1.04v1.04h-1.04zM34 4h1.04v1.04h-1.04zM37 4h1.04v1.04h-1.04zM41 4h1.04v1.04h-1.04zM43 4h1.04v1.04h-1.04zM45 4h1.04v1.04h-1.04zM5 8h1.04v1.04h-1.04zM6 8h1.04v1.04h-1.04zM37 8h1.04v1.04h-1.04zM50 8h1.04v1.04h-1.04zM16 9h1.04v1.04h-1.04zM23 9h1.04v1.04h-1.04zM32 9h1.04v1.04h-1.04zM33 9h1.04v1.04h-1.04zM0 13h1.04v1.04h-1.04zM2 13h1.04v1.04h-1.04zM5 13h1.04v1.04h-1.04zM6 13h1.04v1.04h-1.04zM26 13h1.04v1.04h-1.04zM29 13h1.04v1.04h-1.04zM35 13h1.04v1.04h-1.04zM41 13h1.04v1.04h-1.04zM43 13h1.04v1.04h-1.04zM45 13h1.04v1.04h-1.04zM47 13h1.04v1.04h-1.04zM50 13h1.04v1.04h-1.04zM12 14h1.04v1.04h-1.04zM18 14h1.04v1.04h-1.04zM35 14h1.04v1.04h-1.04zM42 14h1.04v1.04h-1.04zM45 14h1.04v1.04h-1.04zM50 14h1.04v1.04h-1.04zM6 18h1.04v1.04h-1.04zM12 18h1.04v1.04h-1.04zM16 18h1.04v1.04h-1.04zM20 18h1.04v1.04h-1.04zM28 18h1.04v1.04h-1.04zM18 19h1.04v1.04h-1.04zM27 19h1.04v1.04h-1.04zM32 19h1.04v1.04h-1.04zM36 19h1.04v1.04h-1.04zM45 19h1.04v1.04h-1.04zM46 19h1.04v1.04h-1.04zM2 23h1.04v1.04h-1.04zM4 23h1.04v1.04h-1.04zM5 23h1.04v1.04h-1.04zM7 23h1.04v1.04h-1.04zM11 23h1.04v1.04h-1.04zM15 23h1.04v1.04h-1.04zM20 23h1.04v1.04h-1.04zM22 23h1.04v1.04h-1.04zM26 23h1.04v1.04h-1.04zM35 23h1.04v1.04h-1.04zM36 23h1.04v1.04h-1.04zM37 23h1.04v1.04h-1.04zM39 23h1.04v1.04h-1.04zM10 24h1.04v1.04h-1.04zM11 24h1.04v1.04h-1.04zM16 24h1.04v1.04h-1.04zM24 24h1.04v1.04h-1.04zM32 24h1.04v1.04h-1.04zM33 24h1.04v1.04h-1.04zM34 24h1.04v1.04h-1.04zM36 24h1.04v1.04h-1.04zM38 24h1.04v1.04h-1.04zM48 24h1.04v1.04h-1.04zM50 24h1.04v1.04h-1.04zM7 28h1.04v1.04h-1.04zM8 28h1.04v1.04h-1.04zM11 28h1.04v1.04h-1.04zM16 28h1.04v1.04h-1.04zM19 28h1.04v1.04h-1.04zM28 28h1.04v1.04h-1.04zM34 28h1.04v1.04h-1.04zM35 28h1.04v1.04h-1.04zM36 28h1.04v1.04h-1.04zM42 28h1.04v1.04h-1.04zM9 29h1.04v1.04h-1.04zM11 29h1.04v1.04h-1.04zM13 29h1.04v1.04h-1.04zM15 29h1.04v1.04h-1.04zM17 29h1.04v1.04h-1.04zM18 29h1.04v1.04h-1.04zM19 29h1.04v1.04h-1.04zM24 29h1.04v1.04h-1.04zM25 29h1.04v1.04h-1.04zM30 29h1.04v1.04h-1.04zM32 29h1.04v1.04h-1.04zM44 29h1.04v1.04h-1.04zM49 29h1.04v1.04h-1.04zM11 33h1.04v1.04h-1.04zM15 33h1.04v1.04h-1.04zM21 33h1.04v1.04h-1.04zM27 33h1.04v1.04h-1.04zM32 33h1.04v1.04h-1.04zM40 33h1.04v1.04h-1.04zM44 33h1.04v1.04h-1.04zM47 33h1.04v1.04h-1.04zM49 33h1.04v1.04h-1.04zM50 33h1.04v1.04h-1.04zM9 34h1.04v1.04h-1.04zM10 34h1.04v1.04h-1.04zM16 34h1.04v1.04h-1.04zM17 34h1.04v1.04h-1.04zM23 34h1.04v1.04h-1.04zM27 34h1.04v1.04h-1.04zM36 34h1.04v1.04h-1.04zM38 34h1.04v1.04h-1.04zM44 34h1.04v1.04h-1.04zM1 38h1.04v1.04h-1.04zM7 38h1.04v1.04h-1.04zM12 38h1.04v1.04h-1.04zM15 38h1.04v1.04h-1.04zM21 38h1.04v1.04h-1.04zM28 38h1.04v1.04h-1.04zM37 38h1.04v1.04h-1.04zM48 38h1.04v1.04h-1.04zM10 39h1.04v1.04h-1.04zM6 43h1.04v1.04h-1.04zM9 43h1.04v1.04h-1.04zM11 43h1.04v1.04h-1.04zM14 43h1.04v1.04h-1.04zM15 43h1.04v1.04h-1.04zM20 43h1.04v1.04h-1.04zM40 43h1.04v1.04h-1.04zM42 43h1.04v1.04h-1.04zM43 43h1.04v1.04h-1.04zM9 44h1.04v1.04h-1.04zM11 44h1.04v1.04h-1.04zM13 44h1.04v1.04h-1.04zM32 44h1.04v1.04h-1.04zM46 44h1.04v1.04h-1.04zM2 48h1.04v1.04h-1.04zM3 48h1.04v1.04h-1.04zM6 48h1.04v1.04h-1.04zM17 48h1.04v1.04h-1.04zM19 48h1.04v1.04h-1.04zM48 48h1.04v1.04h-1.04zM2 49h1.04v1.04h-1.04zM4 49h1.04v1.04h-1.04zM11 49h1.04v1.04h-1.04zM18 49h1.04v1.04h-1.04zM20 49h1.04v1.04h-1.04zM31 49h1.04v1.04h-1.04zM34 49h1.04v1.04h-1.04zM35 49h1.04v1.04h-1.04zM36 49h1.04v1.04h-1.04zM40 49h1.04v1.04h-1.04zM43 49h1.04v1.04h-1.04z"/>
<path fill="#0860df" d="M31 3h1.04v1.04h-1.04zM2 4h1.04v1.04h-1.04zM16 4h1.04v1.04h-1.04zM17 4h1.04v1.04h-1.04zM31 4h1.04v1.04h-1.04zM36 4h1.04v1.04h-1.04zM46 4h1.04v1.04h-1.04zM47 4h1.04v1.04h-1.04zM1 8h1.04v1.04h-1.04zM2 8h1.04v1.04h-1.04zM12 8h1.04v1.04h-1.04zM17 8h1.04v1.04h-1.04zM21 8h1.04v1.04h-1.04zM22 8h1.04v1.04h-1.04zM36 8h1.04v1.04h-1.04zM42 8h1.04v1.04h-1.04zM47 9h1.04v1.04h-1.04zM11 13h1.04v1.04h-1.04zM21 13h1.04v1.04h-1.04zM46 13h1.04v1.04h-1.04zM2 14h1.04v1.04h-1.04zM7 14h1.04v1.04h-1.04zM47 14h1.04v1.04h-1.04zM2 18h1.04v1.04h-1.04zM26 18h1.04v1.04h-1.04zM27 18h1.04v1.04h-1.04zM31 18h1.04v1.04h-1.04zM47 18h1.04v1.04h-1.04zM1 19h1.04v1.04h-1.04zM42 19h1.04v1.04h-1.04zM47 19h1.04v1.04h-1.04zM16 23h1.04v1.04h-1.04zM17 23h1.04v1.04h-1.04zM41 23h1.04v1.04h-1.04zM47 23h1.04v1.04h-1.04zM2 24h1.04v1.04h-1.04zM6 24h1.04v1.04h-1.04zM7 24h1.04v1.04h-1.04zM31 24h1.04v1.04h-1.04zM42 24h1.04v1.04h-1.04zM17 28h1.04v1.04h-1.04zM31 28h1.04v1.04h-1.04zM32 28h1.04v1.04h-1.04zM6 29h1.04v1.04h-1.04zM7 33h1.04v1.04h-1.04zM16 33h1.04v1.04h-1.04zM22 33h1.04v1.04h-1.04zM31 33h1.04v1.04h-1.04zM37 33h1.04v1.04h-1.04zM22 34h1.04v1.04h-1.04zM32 34h1.04v1.04h-1.04zM17 38h1.04v1.04h-1.04zM47 38h1.04v1.04h-1.04zM37 39h1.04v1.04h-1.04zM47 39h1.04v1.04h-1.04zM12 43h1.04v1.04h-1.04zM41 43h1.04v1.04h-1.04zM46 43h1.04v1.04h-1.04zM12 44h1.04v1.04h-1.04zM16 44h1.04v1.04h-1.04zM17 44h1.04v1.04h-1.04zM36 44h1.04v1.04h-1.04zM47 44h1.04v1.04h-1.04zM1 48h1.04v1.04h-1.04zM11 48h1.04v1.04h-1.04zM32 48h1.04v1.04h-1.04zM42 48h1.04v1.04h-1.04zM46 48h1.04v1.04h-1.04zM21 49h1.04v1.04h-1.04zM37 49h1.04v1.04h-1.04zM41 49h1.04v1.04h-1.04zM46 49h1.04v1.04h-1.04z"/>
<path fill="#079dcf" d="M4 6h1.04v1.04h-1.04zM9 6h1.04v1.04h-1.04zM49 11h1.04v1.04h-1.04zM9 16h1.04v1.04h-1.04zM34 16h1.04v1.04h-1.04zM29 21h1.04v1.04h-1.04zM39 21h1.04v1.04h-1.04zM49 31h1.04v1.04h-1.04z"/>
<path fill="#06a0cd" d="M29 6h1.04v1.04h-1.04zM29 26h1.04v1.04h-1.04zM34 26h1.04v1.04h-1.04zM9 36h1.04v1.04h-1.04zM39 36h1.04v1.04h-1.04z"/>
<path fill="#069fce" d="M44 36h1.04v1.04h-1.04zM19 41h1.04v1.04h-1.04zM49 41h1.04v1.04h-1.04zM4 46h1.04v1.04h-1.04zM19 46h1.04v1.04h-1.04z"/>
<path fill="#95bf71" d="M29 47h1.04v1.04h-1.04z"/>
<path fill="#07aac1" d="M30 47h1.04v1.04h-1.04z"/>
<path fill="#5cbe8a" d="M29 48h1.04v1.04h-1.04z"/>
<path fill="#3fba99" d="M30 48h1.04v1.04h-1.04z"/>
<path fill="#069ece" d="M31 48h1.04v1.04h-1.04z"/>
</g></svg>
<rect x="378.7" y="264.5" width="161.8" height="161.60000000000002" fill="none" stroke="#262626" stroke-width="1"/>
<text x="378.90" y="436.00" text-anchor="middle" font-size="8.0" class="t">130</text>
<text x="411.20" y="436.00" text-anchor="middle" font-size="8.0" class="t">140</text>
<line x1="411.20" y1="424.40" x2="411.20" y2="426.60" stroke="#262626" stroke-width="0.9"/>
<line x1="411.20" y1="264.00" x2="411.20" y2="266.20" stroke="#262626" stroke-width="0.9"/>
<text x="443.50" y="436.00" text-anchor="middle" font-size="8.0" class="t">150</text>
<line x1="443.50" y1="424.40" x2="443.50" y2="426.60" stroke="#262626" stroke-width="0.9"/>
<line x1="443.50" y1="264.00" x2="443.50" y2="266.20" stroke="#262626" stroke-width="0.9"/>
<text x="475.80" y="436.00" text-anchor="middle" font-size="8.0" class="t">160</text>
<line x1="475.80" y1="424.40" x2="475.80" y2="426.60" stroke="#262626" stroke-width="0.9"/>
<line x1="475.80" y1="264.00" x2="475.80" y2="266.20" stroke="#262626" stroke-width="0.9"/>
<text x="508.10" y="436.00" text-anchor="middle" font-size="8.0" class="t">170</text>
<line x1="508.10" y1="424.40" x2="508.10" y2="426.60" stroke="#262626" stroke-width="0.9"/>
<line x1="508.10" y1="264.00" x2="508.10" y2="266.20" stroke="#262626" stroke-width="0.9"/>
<text x="540.40" y="436.00" text-anchor="middle" font-size="8.0" class="t">180</text>
<text x="375.60" y="267.50" text-anchor="end" font-size="8.0" class="t">130</text>
<text x="375.60" y="283.60" text-anchor="end" font-size="8.0" class="t">135</text>
<line x1="378.20" y1="281.10" x2="380.40" y2="281.10" stroke="#262626" stroke-width="0.9"/>
<line x1="538.80" y1="281.10" x2="541.00" y2="281.10" stroke="#262626" stroke-width="0.9"/>
<text x="375.60" y="299.70" text-anchor="end" font-size="8.0" class="t">140</text>
<line x1="378.20" y1="297.20" x2="380.40" y2="297.20" stroke="#262626" stroke-width="0.9"/>
<line x1="538.80" y1="297.20" x2="541.00" y2="297.20" stroke="#262626" stroke-width="0.9"/>
<text x="375.60" y="315.80" text-anchor="end" font-size="8.0" class="t">145</text>
<line x1="378.20" y1="313.30" x2="380.40" y2="313.30" stroke="#262626" stroke-width="0.9"/>
<line x1="538.80" y1="313.30" x2="541.00" y2="313.30" stroke="#262626" stroke-width="0.9"/>
<text x="375.60" y="331.90" text-anchor="end" font-size="8.0" class="t">150</text>
<line x1="378.20" y1="329.40" x2="380.40" y2="329.40" stroke="#262626" stroke-width="0.9"/>
<line x1="538.80" y1="329.40" x2="541.00" y2="329.40" stroke="#262626" stroke-width="0.9"/>
<text x="375.60" y="348.00" text-anchor="end" font-size="8.0" class="t">155</text>
<line x1="378.20" y1="345.50" x2="380.40" y2="345.50" stroke="#262626" stroke-width="0.9"/>
<line x1="538.80" y1="345.50" x2="541.00" y2="345.50" stroke="#262626" stroke-width="0.9"/>
<text x="375.60" y="364.10" text-anchor="end" font-size="8.0" class="t">160</text>
<line x1="378.20" y1="361.60" x2="380.40" y2="361.60" stroke="#262626" stroke-width="0.9"/>
<line x1="538.80" y1="361.60" x2="541.00" y2="361.60" stroke="#262626" stroke-width="0.9"/>
<text x="375.60" y="380.20" text-anchor="end" font-size="8.0" class="t">165</text>
<line x1="378.20" y1="377.70" x2="380.40" y2="377.70" stroke="#262626" stroke-width="0.9"/>
<line x1="538.80" y1="377.70" x2="541.00" y2="377.70" stroke="#262626" stroke-width="0.9"/>
<text x="375.60" y="396.30" text-anchor="end" font-size="8.0" class="t">170</text>
<line x1="378.20" y1="393.80" x2="380.40" y2="393.80" stroke="#262626" stroke-width="0.9"/>
<line x1="538.80" y1="393.80" x2="541.00" y2="393.80" stroke="#262626" stroke-width="0.9"/>
<text x="375.60" y="412.40" text-anchor="end" font-size="8.0" class="t">175</text>
<line x1="378.20" y1="409.90" x2="380.40" y2="409.90" stroke="#262626" stroke-width="0.9"/>
<line x1="538.80" y1="409.90" x2="541.00" y2="409.90" stroke="#262626" stroke-width="0.9"/>
<text x="375.60" y="428.50" text-anchor="end" font-size="8.0" class="t">180</text>
<text x="459.5" y="450.4" text-anchor="middle" class="b" textLength="47.8" lengthAdjust="spacingAndGlyphs">Dimension 1</text>
<text transform="translate(352.8,345.2) rotate(-90)" text-anchor="middle" class="b" textLength="47.8" lengthAdjust="spacingAndGlyphs">Dimension 2</text>
<rect x="556.0" y="263.2" width="17.200000000000045" height="163.5" fill="url(#gpar)"/>
<rect x="556.5" y="263.7" width="16.200000000000045" height="162.5" fill="none" stroke="#333" stroke-width="1.2"/>
<line x1="570.90" y1="275.80" x2="573.20" y2="275.80" stroke="#262626" stroke-width="0.8"/>
<text x="575.90" y="278.40" text-anchor="start" font-size="7.2" class="t">2000</text>
<line x1="570.90" y1="290.80" x2="573.20" y2="290.80" stroke="#262626" stroke-width="0.8"/>
<text x="575.90" y="293.40" text-anchor="start" font-size="7.2" class="t">1800</text>
<line x1="570.90" y1="305.80" x2="573.20" y2="305.80" stroke="#262626" stroke-width="0.8"/>
<text x="575.90" y="308.40" text-anchor="start" font-size="7.2" class="t">1600</text>
<line x1="570.90" y1="320.80" x2="573.20" y2="320.80" stroke="#262626" stroke-width="0.8"/>
<text x="575.90" y="323.40" text-anchor="start" font-size="7.2" class="t">1400</text>
<line x1="570.90" y1="335.80" x2="573.20" y2="335.80" stroke="#262626" stroke-width="0.8"/>
<text x="575.90" y="338.40" text-anchor="start" font-size="7.2" class="t">1200</text>
<line x1="570.90" y1="350.80" x2="573.20" y2="350.80" stroke="#262626" stroke-width="0.8"/>
<text x="575.90" y="353.40" text-anchor="start" font-size="7.2" class="t">1000</text>
<line x1="570.90" y1="365.80" x2="573.20" y2="365.80" stroke="#262626" stroke-width="0.8"/>
<text x="575.90" y="368.40" text-anchor="start" font-size="7.2" class="t">800</text>
<line x1="570.90" y1="380.80" x2="573.20" y2="380.80" stroke="#262626" stroke-width="0.8"/>
<text x="575.90" y="383.40" text-anchor="start" font-size="7.2" class="t">600</text>
<line x1="570.90" y1="395.80" x2="573.20" y2="395.80" stroke="#262626" stroke-width="0.8"/>
<text x="575.90" y="398.40" text-anchor="start" font-size="7.2" class="t">400</text>
<line x1="570.90" y1="410.80" x2="573.20" y2="410.80" stroke="#262626" stroke-width="0.8"/>
<text x="575.90" y="413.40" text-anchor="start" font-size="7.2" class="t">200</text>
<text x="575.90" y="428.40" text-anchor="start" font-size="7.2" class="t">0</text>
<text x="56.30" y="232.90" class="cb" textLength="18.00" lengthAdjust="spacingAndGlyphs">(a)</text>
<text x="77.50" y="232.90" class="c" textLength="31.70" lengthAdjust="spacingAndGlyphs">Pixel</text>
<text x="115.50" y="232.90" class="c" textLength="34.10" lengthAdjust="spacingAndGlyphs">mean</text>
<text x="156.30" y="232.90" class="c" textLength="32.90" lengthAdjust="spacingAndGlyphs">value</text>
<path d="M199.40 223.30L196.50 229.80L199.40 236.30" fill="none" stroke="#111" stroke-width="0.95"/>
<text x="200.90" y="232.90" class="c" textLength="5.10" lengthAdjust="spacingAndGlyphs">f</text>
<path d="M206.80 223.30L209.70 229.80L206.80 236.30" fill="none" stroke="#111" stroke-width="0.95"/>
<text x="216.20" y="232.90" class="c" textLength="32.10" lengthAdjust="spacingAndGlyphs">[gray</text>
<text x="255.10" y="232.90" class="c" textLength="31.70" lengthAdjust="spacingAndGlyphs">level]</text>
<text x="382.00" y="232.90" class="cb" textLength="17.60" lengthAdjust="spacingAndGlyphs">(b)</text>
<text x="403.00" y="232.90" class="c" textLength="31.70" lengthAdjust="spacingAndGlyphs">Pixel</text>
<text x="441.10" y="232.90" class="c" textLength="57.70" lengthAdjust="spacingAndGlyphs">standard</text>
<text x="505.40" y="232.90" class="c" textLength="60.00" lengthAdjust="spacingAndGlyphs">deviation</text>
<text x="569.90" y="232.90" class="ci" textLength="9.30" lengthAdjust="spacingAndGlyphs">σ</text>
<text x="580.30" y="235.80" class="sub" textLength="14.30" lengthAdjust="spacingAndGlyphs">f,p</text>
<text x="596.70" y="232.90" class="c" textLength="31.10" lengthAdjust="spacingAndGlyphs">[gray</text>
<text x="634.80" y="232.90" class="c" textLength="32.70" lengthAdjust="spacingAndGlyphs">level]</text>
<text x="104.10" y="473.30" class="cb" textLength="14.60" lengthAdjust="spacingAndGlyphs">(c)</text>
<text x="124.20" y="473.30" class="c" textLength="55.50" lengthAdjust="spacingAndGlyphs">Close-up</text>
<text x="186.20" y="473.30" class="c" textLength="5.50" lengthAdjust="spacingAndGlyphs">-</text>
<text x="198.30" y="473.30" class="c" textLength="30.60" lengthAdjust="spacingAndGlyphs">pixel</text>
<text x="235.50" y="473.30" class="c" textLength="34.00" lengthAdjust="spacingAndGlyphs">mean</text>
<text x="275.70" y="473.30" class="c" textLength="32.80" lengthAdjust="spacingAndGlyphs">value</text>
<path d="M317.10 463.70L314.20 470.20L317.10 476.70" fill="none" stroke="#111" stroke-width="0.95"/>
<text x="318.50" y="473.30" class="c" textLength="5.10" lengthAdjust="spacingAndGlyphs">f</text>
<path d="M324.50 463.70L327.40 470.20L324.50 476.70" fill="none" stroke="#111" stroke-width="0.95"/>
<text x="107.00" y="489.80" class="c" textLength="31.60" lengthAdjust="spacingAndGlyphs">[gray</text>
<text x="145.20" y="489.80" class="c" textLength="30.80" lengthAdjust="spacingAndGlyphs">level]</text>
<text x="347.30" y="473.30" class="cb" textLength="17.50" lengthAdjust="spacingAndGlyphs">(d)</text>
<text x="368.90" y="473.30" class="c" textLength="57.30" lengthAdjust="spacingAndGlyphs">Close-up</text>
<text x="436.40" y="473.30" class="c" textLength="5.70" lengthAdjust="spacingAndGlyphs">-</text>
<text x="452.30" y="473.30" class="c" textLength="30.70" lengthAdjust="spacingAndGlyphs">pixel</text>
<text x="493.20" y="473.30" class="c" textLength="57.30" lengthAdjust="spacingAndGlyphs">standard</text>
<text x="560.70" y="473.30" class="c" textLength="34.70" lengthAdjust="spacingAndGlyphs">devia-</text>
<text x="337.00" y="489.80" class="c" textLength="25.80" lengthAdjust="spacingAndGlyphs">tion</text>
<text x="368.90" y="489.80" class="ci" textLength="8.10" lengthAdjust="spacingAndGlyphs">σ</text>
<text x="378.20" y="492.70" class="sub" textLength="14.00" lengthAdjust="spacingAndGlyphs">f,p</text>
<text x="396.30" y="489.80" class="c" textLength="30.70" lengthAdjust="spacingAndGlyphs">[gray</text>
<text x="434.30" y="489.80" class="c" textLength="30.70" lengthAdjust="spacingAndGlyphs">level]</text>
</svg>
</body></html>
